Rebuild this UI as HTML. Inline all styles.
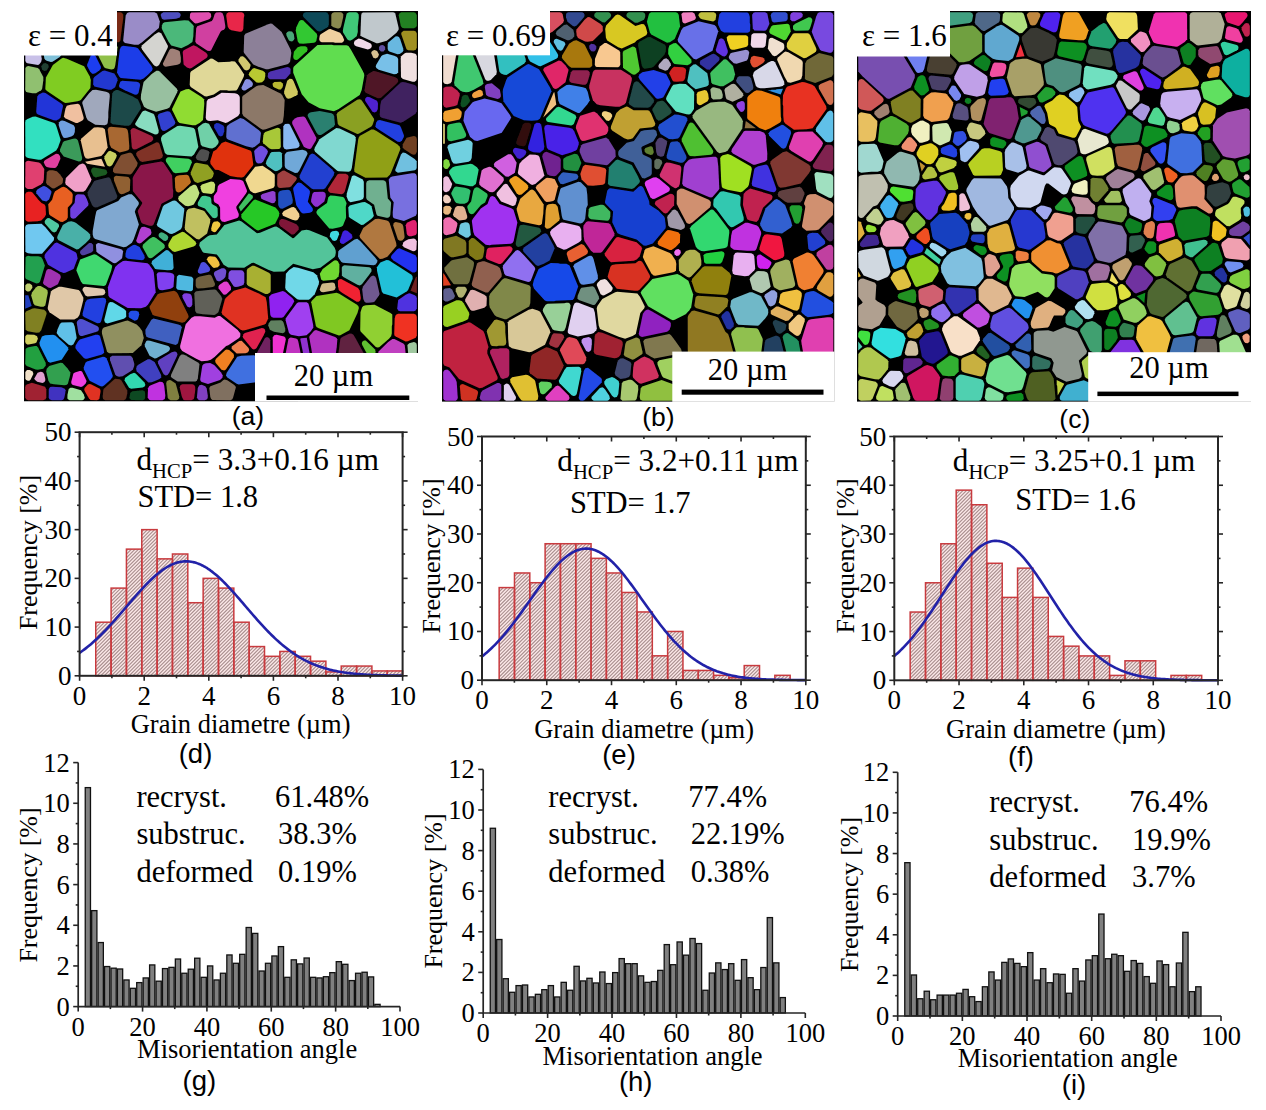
<!DOCTYPE html>
<html><head><meta charset="utf-8"><title>EBSD figure</title>
<style>html,body{margin:0;padding:0;background:#fff;} svg{display:block;}</style></head>
<body>
<svg width="1266" height="1110" viewBox="0 0 1266 1110">
<defs>
<pattern id="hatch" patternUnits="userSpaceOnUse" width="2.51" height="2.51" patternTransform="rotate(45)">
<rect width="2.51" height="2.51" fill="#fce8e8"/><rect x="0" y="0" width="0.85" height="2.51" fill="#a08686"/>
</pattern>
</defs>
<rect width="1266" height="1110" fill="#fff"/>
<defs><clipPath id="clipa"><rect x="24" y="11" width="394" height="390.5"/></clipPath><clipPath id="clipb"><rect x="442" y="11" width="392.5" height="390.8"/></clipPath><clipPath id="clipc"><rect x="857" y="11" width="394" height="390.8"/></clipPath><filter id="soft" x="-2%" y="-2%" width="104%" height="104%"><feGaussianBlur stdDeviation="0.45"/></filter></defs>
<g clip-path="url(#clipa)"><g filter="url(#soft)"><rect x="24" y="11" width="394" height="390.5" fill="#000"/>
<path d="M278.2,380.8 273.2,381.8 269.8,381.8 269.2,382.2 238.2,386.2 233.8,401.2 298.2,401.2Z" fill="#000"/>
<path d="M71.2,348.2 62.8,361.2 69.2,368.8 72.2,371.8 73.2,371.8 81.8,368.2 84.2,361.8 84.2,360.2 73.2,348.2Z" fill="#000"/>
<path d="M142.8,345.8 133.2,354.8 136.2,364.2 148.8,357.2Z" fill="#000"/>
<path d="M358.8,314.2 350.8,330.8 350.8,331.8 353.8,333.2 355.2,333.2 358.8,331.2Z" fill="#000"/>
<path d="M48.2,313.2 48.2,314.2 41.2,334.2 54.2,333.2 59.8,321.2Z" fill="#000"/>
<path d="M147.8,307.8 145.2,308.8 142.8,309.2 141.8,310.2 141.8,311.8 138.2,322.8 138.8,324.8 143.2,329.8 144.8,328.2 151.8,316.2Z" fill="#000"/>
<path d="M381.2,294.8 375.2,303.2 393.8,313.2 394.8,312.8 395.8,309.8 395.8,305.2 396.2,304.8 396.2,300.2 396.8,299.2Z" fill="#000"/>
<path d="M272.2,273.2 272.2,292.2 283.2,289.2 283.8,287.8 284.2,273.2Z" fill="#000"/>
<path d="M74.8,270.8 65.8,274.2 63.2,274.8 59.2,284.8 59.8,285.2 79.8,288.2 80.8,286.2 80.2,283.2Z" fill="#000"/>
<path d="M320.8,269.2 319.2,269.8 313.8,270.8 317.8,273.8Z" fill="#000"/>
<path d="M197.8,246.8 175.8,253.8 174.2,253.8 175.2,271.8 176.2,272.8 193.8,275.2 202.2,256.2 202.2,254.2Z" fill="#000"/>
<path d="M347.8,218.2 344.8,225.2 344.8,226.8 355.8,236.2 357.2,236.2 359.8,231.8 361.2,227.2Z" fill="#000"/>
<path d="M311.2,213.8 307.8,214.8 301.8,215.2 298.2,222.2 298.2,223.8 300.8,228.2 301.2,228.8 303.8,228.8 307.2,227.8 311.2,229.8 327.8,235.8 329.2,230.2 314.8,213.8Z" fill="#000"/>
<path d="M91.2,207.2 87.2,208.2 75.2,220.2 75.8,221.2 90.8,232.8 91.8,229.8 92.2,224.2 95.2,209.8 95.2,209.2Z" fill="#000"/>
<path d="M218.2,171.2 215.2,172.8 215.2,174.8 214.2,177.2 214.2,179.8 216.8,183.8 217.8,183.8 229.8,177.8Z" fill="#000"/>
<path d="M62.8,157.8 58.2,167.2 57.8,169.8 61.8,174.8 64.8,177.2 78.8,163.2Z" fill="#000"/>
<path d="M85.2,120.8 76.8,125.2 75.8,136.8 78.2,138.2 79.8,138.2 93.8,125.8 86.2,120.8Z" fill="#000"/>
<path d="M417.8,114.2 401.8,124.2 405.8,136.2 417.8,133.2Z" fill="#000"/>
<path d="M299.8,95.2 288.2,101.2 286.2,100.2 284.8,122.2 289.8,121.8 296.2,115.8 298.8,115.8 305.2,114.2 307.8,111.2 312.8,110.8 318.8,109.2 307.8,103.8 302.2,96.8 300.8,95.2Z" fill="#000"/>
<path d="M24.2,93.8 24.2,94.2 24.2,118.8 34.2,114.8 34.8,106.8 35.2,106.2 35.2,100.2 35.8,99.8 35.8,95.2Z" fill="#000"/>
<path d="M182.2,65.2 159.8,69.8 179.8,89.8 188.2,86.8 188.2,80.2 188.8,79.8 188.8,71.8 189.2,71.2Z" fill="#000"/>
<path d="M350.8,46.2 365.2,72.8 366.8,73.2 372.8,69.8 373.8,68.2 374.8,64.2 368.2,51.2Z" fill="#000"/>
<path d="M226.8,30.8 221.8,32.2 211.2,53.8 211.2,56.2 218.2,60.8 235.8,59.8 242.2,52.8 242.8,33.8Z" fill="#000"/>
<path d="M245.8,11.2 245.8,17.2 245.2,17.8 245.2,23.8 244.8,24.2 244.2,32.2 270.2,21.8 272.2,21.8 282.8,30.8 293.8,29.2 300.2,15.2 299.2,11.2Z" fill="#000"/>
<path d="M67.8,11.2 63.2,55.8 85.2,64.8 92.2,47.8 92.2,33.2 76.2,11.2Z" fill="#000"/>
<path d="M305.9,12.2 304.2,12.7 303.2,13.8 302.9,15.5 303.4,16.9 317.5,31.1 319.1,31.6 320.8,31.2 327,27.6 328.3,26.2 328.8,24.6 328.8,15 327.4,12.7 325.8,12.2Z" fill="#0a4858" fill-rule="evenodd"/>
<path d="M130.3,392.7 129.3,398.1 131.1,400.1 142.8,400.2 144.4,399.4 145.2,398.1 145.2,392.7 144.4,391.1 142.5,390.2 132.5,391.3Z" fill="#104820" fill-rule="evenodd"/>
<path d="M90.6,55.8 87,64.9 87.3,66.3 90,71.6 92.2,73.7 93.7,73.8 95.3,73.2 99.3,70.4 100.8,68.5 101,67 100.2,65.2 95.6,56.1 94,54.8 92.3,54.7Z" fill="#1a3cf0" fill-rule="evenodd"/>
<path d="M91.2,171.7 93.3,176.2 95.6,177.4 105.6,175 106.7,174.1 107.3,172.4 106.7,170.4 105.3,169.4 94.2,167.5 92.8,167.8 91.6,168.8 91.1,170.1Z" fill="#1a5a20" fill-rule="evenodd"/>
<path d="M112.2,93.6 110.4,122.4 112.4,124.2 125.2,125.8 128.7,125.7 130.6,124.7 141,108.6 140.7,105.7 138,99.4 132.3,96.3 118,90 116,90 113.4,91.5Z" fill="#1c4848" fill-rule="evenodd"/>
<path d="M119.8,49.5 117,72.4 119.4,76.8 120.7,78 140.6,79.8 143.6,78.5 148,74.7 152.1,70.6 152.7,68.7 151.5,65.9 137.9,48.2 135.4,47.2 123.1,45.7 121,46.7Z" fill="#1e3ce8" fill-rule="evenodd"/>
<path d="M293.1,188.9 296.3,205.2 300.8,212 302.3,213.2 303.7,213.5 309.9,212.8 312,211.7 312.9,210.2 312.7,208.2 307.8,201.8 309.8,193.6 309.9,191.3 309.1,189.7 301,182.9 298.7,182.4 297.2,183.1 293.5,187.5Z" fill="#1f40f0" fill-rule="evenodd"/>
<path d="M214.1,127.4 218.7,135.6 220.8,136.4 222.9,135.4 224.3,131.3 224.2,127.1 223.3,125.5 218.8,123.3 216.3,123.1 214.1,124.8Z" fill="#2030c0" fill-rule="evenodd"/>
<path d="M391.8,255 391,256.6 391.1,258.1 393.4,260.5 412.5,272.4 414.6,272.6 416.3,271.4 416.8,269.6 416.8,257.7 415.6,255.3 399.3,248.2 397.4,248.9Z" fill="#2030f0" fill-rule="evenodd"/>
<path d="M94.3,77 93.3,78.8 93.2,84.2 94.3,86.6 108.4,89.8 111.4,89.8 115.2,87.3 117.6,80.2 117.2,78.2 114.4,73.4 104.6,70.6 102.4,71.1Z" fill="#2038d0" fill-rule="evenodd"/>
<path d="M42,69.2 44.1,71 46.7,70.5 48.8,67 48.2,64.4 45.5,63 43.2,63.6 41.3,66.2Z" fill="#204030" fill-rule="evenodd"/>
<path d="M25.2,295.2 25.2,308.8 31.7,306 28.3,295.2Z" fill="#2040c0" fill-rule="evenodd"/>
<path d="M299.6,177.4 300.7,179.5 311.8,188.8 313.4,189.3 323.4,189.3 325.3,188.3 328.5,183.6 333.7,175.3 334.4,172.5 332,169.3 314.4,154.3 312.1,153.6 310.7,154.2 309.7,155.3 299.8,175.2Z" fill="#2040d0" fill-rule="evenodd"/>
<path d="M82.6,313.6 82.7,315.5 84,317.1 97.2,323.2 99.8,322.9 100.9,321.9 101.6,319.8 106.2,301.5 105.8,299.1 104.4,297.9 102.7,297.7 90.4,298.7 87,299.7 85.4,302.2Z" fill="#2040e0" fill-rule="evenodd"/>
<path d="M125.5,253.8 125.5,256.9 128,258.7 142.1,260.3 143.8,259.6 144.8,257.7 144.2,255.2 139.6,247.1 135.1,244.8 133.1,245 128,248.3 126.4,250.1Z" fill="#2040e0" fill-rule="evenodd"/>
<path d="M376.1,122.7 375.4,126.3 376,127.6 377.9,129 397.7,141.7 400,142 402,140.6 403.8,137 404,135.6 401,127.4 399.8,125.6 396.8,124.4 379.8,120 377.5,120.5Z" fill="#2040e0" fill-rule="evenodd"/>
<path d="M120.2,81.8 118.9,85.9 119.6,87.5 124.7,90.2 135,94.8 137.1,94.6 138.5,93.1 140.2,84.9 139.7,83.5 138.4,82.3 136.6,81.7 122.3,80.8Z" fill="#2040e0" fill-rule="evenodd"/>
<path d="M75.5,345.8 75.4,348.1 77,350.6 83.8,358 85.3,358.8 87,358.7 101.3,354.7 103.2,353.7 104.1,352.2 103.7,349 100.1,336.6 99.3,335.4 98,334.7 95.5,334.8 79.8,339.5 78,341.4Z" fill="#2040f0" fill-rule="evenodd"/>
<path d="M279,207.1 280.4,208.6 282.5,208.8 291,204.6 292.5,203.3 292.8,199.9 291.7,195 290.7,191.6 289.5,190.3 288.1,189.8 282.6,190.2 280,191 278.7,192.1 278.2,193.8 278.2,205.1Z" fill="#2050c0" fill-rule="evenodd"/>
<path d="M129.3,317.8 134.6,320.7 137.1,320 138.1,318.4 139.3,314.4 138.6,311.8 136.2,310.7 131.5,310.7 129.8,311.4 128.8,313.2 128.7,316.4Z" fill="#2050e8" fill-rule="evenodd"/>
<path d="M83.7,367.5 83.9,369.4 89.6,380.7 100.5,386.3 102.2,386.4 104.1,385.5 110.5,379.7 112.6,377.1 112.7,375.4 108.2,362.2 106.5,358.2 104.9,356.9 103,356.8 86.9,361.5 85.5,362.7Z" fill="#2050f0" fill-rule="evenodd"/>
<path d="M398.7,15.6 400.8,26 402,27.8 403.8,28.3 414,28.3 416.3,26.9 416.8,25.2 416.8,15 415.4,12.7 413.8,12.2 401.1,12.3 399.3,13.4Z" fill="#208020" fill-rule="evenodd"/>
<path d="M40,345.7 47.8,361.3 50,362.7 61.7,359.7 68.4,349.4 67.9,347.3 64.5,343.8 55.3,335.6 53.1,334.7 45.1,335.2 41.9,336.5 39.4,342.8Z" fill="#2090f0" fill-rule="evenodd"/>
<path d="M26.8,366 35.6,369.6 37.8,369.8 43.3,368.7 45.8,365.6 45.7,362.7 38.1,347.5 36.7,346.1 34.9,345.9 28.5,347.3 26.7,348 25.6,349.1 25.2,363.6 25.7,364.9Z" fill="#20a040" fill-rule="evenodd"/>
<path d="M25.9,278.9 36.4,283.4 38.7,283 40,281.8 44.9,265.6 42.5,258.9 41.1,257.1 38.1,256.2 30.7,256.2 28.2,255.7 26.6,256.2 25.6,257.3 25.2,277.2Z" fill="#20a050" fill-rule="evenodd"/>
<path d="M377,270.7 381.8,291.5 383.2,293.5 396.6,297.4 406.6,291.5 408.1,290 412.7,278.8 412.5,275.9 411.1,274.5 388.8,260.3 386.5,260 380.3,262.6 376.9,267.2Z" fill="#20c0d8" fill-rule="evenodd"/>
<path d="M36.2,111.8 36.7,113.4 38,114.6 53.7,120.2 56.3,120.6 59.2,118.9 60.6,117.3 63.1,105.7 62,104 45.5,92.9 42.8,92.4 38.8,94.6 37.3,96.4Z" fill="#2434d8" fill-rule="evenodd"/>
<path d="M241.5,214.3 241.2,216.9 242.2,218.9 254.4,228.5 256.6,230 258.1,230.4 275.1,223.7 279,216.1 279.3,213.2 278.5,210.9 275.5,207.4 255.3,199.6 253.8,200.1 252.3,201.5Z" fill="#28c828" fill-rule="evenodd"/>
<path d="M307.6,116.1 316.3,132.3 317.9,134.5 319.2,135.1 321,135.1 323.5,133.6 333.8,126.4 335,124.5 334.1,116.2 333.2,114.2 331.5,113.3 319.6,111 311,112.3 309.1,113 307.9,114.3Z" fill="#2a8070" fill-rule="evenodd"/>
<path d="M87.6,192.2 87.8,195.3 92,205.1 93.1,206.6 95.1,207.5 97.3,207.2 114.8,199.7 116.5,198.6 117.2,197 117.1,195.5 110.6,178.9 109.7,177.7 108.3,177.2 97.2,179.9 94.2,181.1Z" fill="#303848" fill-rule="evenodd"/>
<path d="M157.7,116.6 160.9,128.8 162.5,130.8 164.3,131 166.3,130.2 173.6,125.5 175,123.9 175.3,122.5 174.7,120.7 170.7,112.7 169.3,111.5 167.1,111.2 159.6,113.4 158.1,114.7Z" fill="#3040d0" fill-rule="evenodd"/>
<path d="M46.2,371.5 48.4,380.8 50.1,383.4 53.9,384.3 64.2,385.3 66.4,385.1 67.9,383.8 70.2,375 70.4,372.4 67.4,368.3 62.6,363.1 60.4,362.8 49.2,365.9 46.7,368.8Z" fill="#30a050" fill-rule="evenodd"/>
<path d="M293.2,57.1 293.7,58.8 294.8,59.8 296.5,60.1 297.9,59.6 307,51.2 307.6,49.5 307.1,47.6 306,46.6 304.6,46.2 300.9,46.2 297.6,47.3 293.9,51.7Z" fill="#30c020" fill-rule="evenodd"/>
<path d="M295.7,30.5 297.8,41.5 299.3,43.4 303.3,43.8 313.9,42.8 315.3,42.2 316.3,41.1 317.3,36.1 316.8,33.7 303.1,20.2 301,19.9 299.3,21 296.3,27.2Z" fill="#30c830" fill-rule="evenodd"/>
<path d="M316.6,211.3 316.4,212.8 317.1,214.2 329.3,228.4 332.6,228.8 339.6,227.2 341.8,226.5 343,225.6 346.1,217.8 345.8,206.8 346.6,203.3 344.6,198.5 343.2,197 334.6,195.7 330.3,195.6 328.3,197.3 327,202.9 317.8,209.6Z" fill="#30d060" fill-rule="evenodd"/>
<path d="M124.5,380.4 129,387.8 131.1,388.8 142.8,387.6 144.6,386.5 145.4,384.9 144.5,382.4 135.7,373.5 134,372.8 130.2,374.3 125,378.1Z" fill="#30d8b0" fill-rule="evenodd"/>
<path d="M27,119.2 25.8,120.2 25.2,122 25.4,155.9 26.7,157.4 29.4,158.2 38.4,159.8 41.1,159.7 56.2,150.4 58,147.6 60.7,139.9 56.2,125.7 55.3,124 54.1,123 35.5,116.5 32.7,116.8Z" fill="#30e0c0" fill-rule="evenodd"/>
<path d="M62.9,142.5 59.9,149.8 60.1,151.4 63.7,156.5 78.7,161.5 80.5,161.3 81.8,160.1 82.2,158.1 79.7,146.9 78,140.5 76.6,138.9 75.1,138.5 73,138.8 64,141.2Z" fill="#3a9a5a" fill-rule="evenodd"/>
<path d="M379.7,114.8 380.2,116.4 381.7,117.7 400.6,122.7 403.3,121.7 415.6,113.7 416.8,111.3 416.8,87.8 416.1,85.9 414.8,84.9 405,82.3 402.6,81.9 400.7,82.6 381.2,100.8 380.2,105.4Z" fill="#402060" fill-rule="evenodd"/>
<path d="M342.7,231.8 339.8,240.5 340.1,242.3 341.5,243.7 343.5,244 351.5,238.7 352.3,237.4 352.3,235.9 351.5,234.3 347.4,230.8 344.8,230.2Z" fill="#4020e0" fill-rule="evenodd"/>
<path d="M52.5,386.7 50.1,387 48.8,389 48.7,397.5 49.4,399.2 51.8,400.3 61.6,400.3 63.2,399.7 64.2,398.3 65.3,393.1 65.6,390.3 64.8,388.7 61.4,387.2Z" fill="#4030c0" fill-rule="evenodd"/>
<path d="M136.1,368.7 136.7,371.3 148.4,382.6 151.8,382.2 159.6,379 161.2,377.3 161.1,375 154.6,362 150,359.2 147.7,359.3 137.9,365 136.9,366.2Z" fill="#4040c0" fill-rule="evenodd"/>
<path d="M37.3,189.5 36.2,191.2 36.3,193.2 42.3,200.4 46.3,201.6 49.1,199.5 51.4,192.7 51.2,191.3 50.4,190 46.5,186.9 44.2,186 42.8,186.3Z" fill="#4050e0" fill-rule="evenodd"/>
<path d="M145.5,333.7 146.3,336.3 147.9,337.6 175.7,344.9 177.3,344.1 178.1,342.9 181.8,327.3 180.8,325.5 178.3,324.4 153.4,318.5 151.4,319.7 145.4,329.7Z" fill="#4060c0" fill-rule="evenodd"/>
<path d="M226.6,373.1 226.1,375.2 227,377.2 236.7,383.7 238.7,384.4 271.2,380.2 272.7,379.4 273.6,377.4 273.2,375.7 270.4,371.7 257.7,358 255.5,355.8 253.9,355.2 241.4,355.7 237.2,356.8Z" fill="#4070e0" fill-rule="evenodd"/>
<path d="M159,237 163.7,240.7 165.7,241 167.6,239.8 168.4,237.1 167,234.9 163.3,232.8 161.1,232.3 159.3,233.2 158.5,235.1Z" fill="#40b080" fill-rule="evenodd"/>
<path d="M151.5,263.4 154.7,268.3 156.3,269.2 167.7,270.3 172,269.9 173.1,268.9 173.6,267.4 172.8,255.6 172.3,254.2 168.4,250.4 166.9,250.1 165.4,250.5 152,261.1Z" fill="#40b0d8" fill-rule="evenodd"/>
<path d="M142.5,247 148,257 149.1,257.9 150.9,258.2 152.6,257.5 163.9,248.5 164.7,247.3 164.8,245.8 163.9,244 156.1,238 154.1,236.9 152.6,236.9 149.2,239.1 142.9,244.7Z" fill="#40c060" fill-rule="evenodd"/>
<path d="M240.7,211.5 252.8,197.9 252.8,195.7 249.9,193.7 248.7,193.6 238.7,207.1Z" fill="#40c060" fill-rule="evenodd"/>
<path d="M343.1,32.4 347.4,39.4 349.1,40.5 350.6,40.5 352.5,39.6 356.7,36.2 357.8,32.1 357.8,26.7 358.8,17.8 358.7,14.4 357.4,12.7 356,12.2 349,12.2 346.7,13.6 343.3,28 342.8,30.9Z" fill="#40c878" fill-rule="evenodd"/>
<path d="M198,202.3 197.6,204.3 198.4,205.9 204.9,208.5 212.6,217.7 215,218.3 217.1,217.2 217.8,215.5 217.6,208.2 216.4,206.4 212.7,204.5 211.5,203.3 211.2,198.7 210.2,196.9 205.1,195.7 202.3,195.9 201,197Z" fill="#40c890" fill-rule="evenodd"/>
<path d="M166.1,161.8 173.2,172.3 175.5,173.3 186.1,172.3 187.6,171.7 189.2,169.3 191.9,162.3 191.1,160.1 188.5,158.8 169.8,157.2 167.8,157.3 166.3,158.4 165.7,160.1Z" fill="#40d060" fill-rule="evenodd"/>
<path d="M76.4,270.4 80.8,281.3 82.8,284 103.8,286.1 105.1,285.5 106.1,284.4 111.2,270.8 112.1,266.7 111.6,265.3 110.1,264 96.3,254.8 94.1,254.3 80.2,259.6 76.8,268.5Z" fill="#40d870" fill-rule="evenodd"/>
<path d="M330.1,233.7 329.8,236.6 332.6,240.4 334.8,241.1 336.9,240.1 339.1,234.2 338.9,232.7 338.1,231.5 336.2,230.7 332.4,231.3 330.8,232.2Z" fill="#40d8e0" fill-rule="evenodd"/>
<path d="M57.5,235.9 57.1,237.9 58.3,239.9 76.7,249.6 78.7,248.9 85.8,242.9 89.7,239 90.5,237.1 89.9,234.2 87.8,232.1 76.1,223 74.1,221.9 71.3,221.2 68.2,221.8 62.8,225Z" fill="#48b0a8" fill-rule="evenodd"/>
<path d="M286.6,35.8 288.7,40 289.7,41.1 292.1,41.4 293.9,40 294.4,38.3 293.8,34.1 292,31.6 288.9,31.2 287.3,31.9 286.2,33.6Z" fill="#4aa878" fill-rule="evenodd"/>
<path d="M162,25.3 161.7,28.1 162.3,29.8 168.4,41.5 171.2,45.4 181.3,48.3 188,45.1 192.4,42 193.3,36.6 193.7,26.3 193.1,25 188.5,20.6 184.4,20.2 164.6,22.3 162.9,23.2Z" fill="#4cb87a" fill-rule="evenodd"/>
<path d="M367,75.3 364.4,90.8 365.7,92.7 377.7,98.2 379.5,98.2 381.3,97.4 396.5,83.7 398.1,81.8 398.2,79.9 397.3,78.4 395.3,77.3 375.5,71.3 373.3,71.1 368.9,73.5Z" fill="#501828" fill-rule="evenodd"/>
<path d="M365.1,100.8 372.4,111.7 374.6,112.5 376.7,111.5 377.8,109.1 378,103.2 377,100.8 369.8,97.3 367.6,96.8 366,97.5 365.1,99Z" fill="#5020d0" fill-rule="evenodd"/>
<path d="M267.7,76.2 268.4,78.2 270.2,79.2 285,79.2 286.3,78.3 290.4,73.5 290.7,69 289.4,67.4 287.3,66.9 270.2,71.4 268.1,73.1Z" fill="#5030b0" fill-rule="evenodd"/>
<path d="M397.2,308.2 398.1,310.4 400,311.3 413.8,311.3 415.4,310.8 416.8,308.5 416.8,298.2 416.3,296.6 414.8,295.3 409.8,293.3 408.3,293.4 405.7,294.8 398.2,300.1Z" fill="#5030e0" fill-rule="evenodd"/>
<path d="M44.6,257.2 48,264.7 59.2,271.2 63.4,273 65.3,272.7 73.6,269.1 77.6,258.4 76.7,253.8 75.6,252.3 56.9,242.4 54.7,243.2 46.1,252.7 44.6,255.1Z" fill="#5030e0" fill-rule="evenodd"/>
<path d="M89.1,243.1 80.4,250.7 80,252.5 80.6,254.1 82,255.2 84,255.2 90.1,253 92.1,252 93.2,250.5 93.1,244.7 91.4,243.1Z" fill="#5040a0" fill-rule="evenodd"/>
<path d="M196.4,155.5 195.8,157.7 197.3,159.9 202.9,161.3 206,161.3 208,159.6 209.5,152.5 208.8,151.2 207.6,150.4 203.5,149.3 201.2,149.3 199.5,150.4Z" fill="#505050" fill-rule="evenodd"/>
<path d="M160.7,15.1 161.9,18.8 163.9,19.8 176.1,18.8 179.8,17.5 180.8,14.9 180.1,13.3 178.3,12.3 163.4,12.2 161.1,13.7Z" fill="#5050c0" fill-rule="evenodd"/>
<path d="M76.7,322.8 78.4,332.8 79.2,334.9 80.7,335.9 82.4,336 95.8,332.1 97.8,331.3 98.8,329.9 98.8,327.8 97.5,326.2 82.8,319.3 80.8,318.9 79.3,319.2 77.3,320.9Z" fill="#5050d0" fill-rule="evenodd"/>
<path d="M200.9,263.1 197.7,270.9 198.1,272.4 199.2,273.4 200.7,273.8 208.4,272 209.7,270.8 210.1,269.4 209.6,267.5 207.4,264.8 205.2,262.5 203.5,261.9 202.1,262.2Z" fill="#5050e0" fill-rule="evenodd"/>
<path d="M176.9,276.6 176.2,287.5 176.8,288.9 177.9,289.8 190.2,291.3 191.7,290.9 192.9,289.7 193.3,279.1 192.7,277.7 191.6,276.7 178.9,274.8Z" fill="#50b8e0" fill-rule="evenodd"/>
<path d="M266.5,160.8 265.8,163.5 267.3,165.9 274.3,170.8 275.9,171.2 277.7,170.8 280.7,168.9 282.2,166.8 281.9,153.3 280.9,152.2 279.5,151.7 271.7,152 270.4,153.2Z" fill="#50c0c0" fill-rule="evenodd"/>
<path d="M45.4,219.9 44.6,221.8 45,223.5 52,231.4 54.1,232.4 56.3,231.6 59,226.4 59,225 58.3,223.7 49.1,218 47.1,218.2Z" fill="#50c8a0" fill-rule="evenodd"/>
<path d="M348.3,207.5 348.8,216.2 349.7,217.8 361.3,225.1 363.4,224.7 371.2,218.9 373.2,217.1 373.8,215.7 371.5,206.2 369.5,204.4 364.9,202 362.1,202.2 349.7,205.5Z" fill="#50d8c8" fill-rule="evenodd"/>
<path d="M199.2,245.6 202.3,251.6 203.7,252.7 216.8,254.5 219,257.2 223.6,264.7 228.2,267.6 244.2,267.7 251.8,262.9 253.8,262.8 268.2,269.7 273.7,271.8 284.1,271.5 293.2,263.8 312.8,269.3 320.4,267.7 334.3,257.3 335.2,256 335.8,252.8 335.7,250.5 334.7,247.7 327.1,237.4 309.3,230.3 306.6,229.7 301.7,230.4 293.9,238 292.7,238.2 279,227.9 276.3,226.6 274.2,226.8 260,232.7 257,233.2 241.6,221.5 239.1,220.5 224.4,225 216.8,234.5 209.8,235.3 207.4,236.5 199.8,242.6Z" fill="#52c49a" fill-rule="evenodd"/>
<path d="M332.7,396.5 333.2,399.1 335.6,400.3 365.5,400.3 367.2,399.6 368.2,398.1 370.5,365.5 354.7,336.7 353.2,334.6 351,333.5 349,333.7 342.7,336.8 341.2,337.7 340.3,339Z" fill="#602040" fill-rule="evenodd"/>
<path d="M102.7,396.5 103,398.9 105,400.2 123.9,400.2 125.4,399.5 126.2,398.3 127.3,393.6 127.3,390.6 121.3,380.2 119.7,379.3 115.3,378.8 114,379.4 103.8,388.8 103.3,390.1Z" fill="#603020" fill-rule="evenodd"/>
<path d="M158.1,363.4 163.6,374.2 165.6,375.4 167.6,375 169.2,372.8 177,356.1 177.4,354.3 177,352.8 175.9,351.8 174.5,351.4 171.7,352.3 159.1,359.7 157.9,361.4Z" fill="#6040c0" fill-rule="evenodd"/>
<path d="M379.1,49.4 380.9,51.4 383.5,51.4 385.2,49.5 385.1,46.8 383,45 380.6,45.3 379,47.1Z" fill="#6050a0" fill-rule="evenodd"/>
<path d="M110.1,360.3 115.3,374.8 116.7,376 119,376.7 122.6,376.3 131.1,371 133,369.3 134.2,366.1 134.3,363.8 132.7,358.2 131.8,356.7 130.2,355.8 112.1,355.8 109.9,357.5Z" fill="#6050b0" fill-rule="evenodd"/>
<path d="M194.3,293.4 195.2,311 196.6,313.3 202.9,314.3 214.1,315 215.5,314.5 218.4,312.3 222.3,298.7 221.1,296 216.2,289.9 214.8,289.4 210.4,289.7 196.4,291.3 195.1,292.1Z" fill="#606058" fill-rule="evenodd"/>
<path d="M226.2,136.8 226.7,138.4 228,139.6 246.2,146.2 252.5,147.8 255.1,146.5 259.8,142.7 261,133.1 260.4,131.7 258.6,130 243.6,119 240.3,117.9 229.7,123.8 227.3,125.7 226.7,127.1Z" fill="#6070d0" fill-rule="evenodd"/>
<path d="M268.2,325.6 269.9,329.7 274,331.7 282.7,333.3 284.4,332.6 285.3,331 285.2,328.5 283.6,322.7 282.8,321.2 281.2,320.3 270.8,320.5 268.8,323.2Z" fill="#608060" fill-rule="evenodd"/>
<path d="M338.3,251.5 338,256.6 338.8,258.3 341.2,261.8 342.8,262.7 373.6,265.3 375.7,264.5 377.3,262.1 377.2,260.3 375.4,257.7 360.2,241 357.3,238.8 354.5,239.4 339.4,250Z" fill="#60a0d0" fill-rule="evenodd"/>
<path d="M341.8,267.4 341.9,275.4 343.4,277 357.4,284.8 359.8,285.4 361.9,284.3 369,275.1 371.4,271.5 371.6,269.7 370.8,268.1 369.2,267.3 344.5,265.2 342.8,265.9Z" fill="#60b0a0" fill-rule="evenodd"/>
<path d="M362.2,345 369,357.4 371.1,358.4 373.3,357.6 375.7,352.1 375.1,349.4 365.8,340.6 364,340.6 362.5,341.5 361.8,343.1Z" fill="#60c030" fill-rule="evenodd"/>
<path d="M57.6,329.2 56.6,333 59,336.2 68.7,344.7 71.1,345.5 73.3,344.5 76.7,338.1 74.7,326.5 73.4,323 71.5,322.2 61.6,322.4 59.9,324Z" fill="#60c0e8" fill-rule="evenodd"/>
<path d="M104.2,320.1 105,322.6 107.4,323.6 123.8,318.7 125.3,317.8 126.2,316.5 126.1,311.1 124.1,309 112.8,302.3 110.2,302.1 108.7,303.1 107.9,305.2Z" fill="#60d8e8" fill-rule="evenodd"/>
<path d="M293.2,72.8 301.8,94.3 308.5,102.2 319.7,108.2 333.9,111.2 338.3,109.2 359.7,95 361.7,90 364.3,75.8 364.1,73.7 362.7,70.7 350.7,49.2 348.5,45.9 346.5,45.2 333.8,45.2 331.8,44.7 317.5,45.1 293.9,66.5 293.2,68.1Z" fill="#60dd50" fill-rule="evenodd"/>
<path d="M387.7,48.9 388.3,50.6 389.4,51.6 397.5,54.2 399.7,54.1 402.6,52.1 403.4,50.6 403.2,48.5 400.2,39.2 399,37 397.1,36.2 395.4,36.6 388.6,42.3 387.7,44.1Z" fill="#68b8e0" fill-rule="evenodd"/>
<path d="M410.6,290.7 416.8,293.3 416.8,276.7 416.2,276.7 415.2,278.6Z" fill="#702020" fill-rule="evenodd"/>
<path d="M265,338.1 257.1,352.6 257.8,354.9 265.6,363.1 267.5,363.6 269.2,363 270.3,360.6 270.3,340.2 269.2,337.9 267,337.1Z" fill="#702060" fill-rule="evenodd"/>
<path d="M402.7,147.2 403.9,149 411.8,154.3 413.9,154.8 415.6,154.2 416.8,151.8 416.8,139 416.3,137.2 415.1,136.2 413.6,135.9 406.6,137.8 402.8,144.2Z" fill="#704020" fill-rule="evenodd"/>
<path d="M73.1,218.8 75.4,218.2 88.3,205.5 88.5,203.4 86.7,198.7 85.1,195.7 83.8,194.5 77.7,194.3 76.3,194.9 75.4,196.1 74.6,203.1 70.7,207.7 70.2,209.1 70.3,216.6 71.2,218.1Z" fill="#7040e0" fill-rule="evenodd"/>
<path d="M214.1,274.9 216.7,280.4 218.3,281.3 220,281.2 223.6,279 225.4,277.1 226.3,272.1 226.1,270.1 224.2,268.3 221.7,268.3 214.9,271.4 213.9,272.9Z" fill="#7050d0" fill-rule="evenodd"/>
<path d="M254.2,151.4 255.3,160 256.2,162.2 257.9,163.4 261.2,163.2 263.1,161.8 267.6,153 267.8,151.3 267.1,149.7 264.7,147.6 262.3,146 260.6,145.8 259,146.4 254.8,149.9Z" fill="#7050e0" fill-rule="evenodd"/>
<path d="M362.2,289.5 363.3,299 364.7,302.1 366.1,302.7 368.6,302.8 373.2,302.2 374.7,301.4 379,295.6 379.6,293.9 376.2,278.5 375.2,276.6 373.1,275.6 370.9,276.5 363,286.4Z" fill="#705890" fill-rule="evenodd"/>
<path d="M195.7,285.5 196.2,287.3 197.7,288.4 203.1,288.3 212.8,287.1 214.5,286 215.1,284 211.7,275.9 210.3,274.8 208.4,274.7 199,276.8 196.7,277.9 195.7,279.8Z" fill="#706040" fill-rule="evenodd"/>
<path d="M58.6,124.9 61.8,134.8 63.3,137.4 64.7,137.9 67,137.7 71.3,136.6 73.7,135.1 74.8,131.9 75,127.5 73.7,125.2 64.6,121 62.3,120.4 60.8,120.7 59.1,122.2Z" fill="#70a0e0" fill-rule="evenodd"/>
<path d="M284.7,166 285.4,168 287.2,169.2 295,173.1 297.6,172.8 299.2,170.8 307.2,154.8 307.5,153.4 307,152 305.7,150.8 302.4,149.8 288.1,151.7 286.2,152.5 284.7,154.8Z" fill="#70a8d8" fill-rule="evenodd"/>
<path d="M367,199.8 374.1,204.8 376.4,214.3 377.5,215.8 386.4,217.8 388.1,217.7 389.6,216.7 390.3,215 391.1,202.8 390.5,201.4 387.8,198.5 386.2,182.7 385.2,180.9 383.2,180.2 369.2,180.2 366.9,181.3 366.2,183.2 366.2,198.1Z" fill="#70b090" fill-rule="evenodd"/>
<path d="M144.7,344.5 144.9,346.4 149.6,355.8 154.6,358.5 156.3,358.2 166.3,352.7 169,350.9 170,349.1 169.7,347.4 168.3,345.9 150,340.8 147.7,340.6 146.3,341.1Z" fill="#70b0d0" fill-rule="evenodd"/>
<path d="M401,154.4 395.2,169.9 395.6,171.3 397.9,172.8 414.8,170.2 416,169.4 416.7,167.9 416.7,161.3 414.7,159.1 405.5,153 402.8,152.6Z" fill="#70c0e0" fill-rule="evenodd"/>
<path d="M162.8,206.7 156.7,224.7 157.7,226.5 169.8,233.8 172,234 175.8,232.2 180.9,229.3 182.1,226.8 184.3,210.1 183.9,208.2 176.2,201.1 174.7,200.4 172.7,200.8 164.2,205Z" fill="#70c8e0" fill-rule="evenodd"/>
<path d="M28.2,224.2 26.1,225.1 25.2,227 25.4,251.4 26.3,252.6 28,253.3 32.2,253.8 42,253.8 53.6,240.4 54.1,239 53.9,237.6 45.4,227.2 41.6,223.7Z" fill="#70c8f0" fill-rule="evenodd"/>
<path d="M197.7,128.6 200.8,144.5 202.1,146.3 209.5,148.2 212.2,148.4 215.4,147.1 218,144.1 218.7,142.1 218.2,140.2 208.9,123.8 205.6,122.7 202.9,123.5 198.3,127.1Z" fill="#70d0a8" fill-rule="evenodd"/>
<path d="M319.8,273.7 321.1,279.4 323.1,280.7 334.4,279.8 336,279.1 338.6,276.3 339.3,272.1 339.4,264.4 337.9,261.2 336.1,260.2 334.1,260.5 322.7,269.1Z" fill="#70d830" fill-rule="evenodd"/>
<path d="M161.2,140.4 164.9,153 167.1,154.7 191.6,156.6 194,154.6 198.4,147.1 195.1,129.7 193.6,128 190.5,127.3 180.1,125.7 177.4,126 162.3,135.6 161,138Z" fill="#70d8b0" fill-rule="evenodd"/>
<path d="M285.2,287.6 285.7,289.3 288,291.7 297.2,299.2 299.2,299.8 308.7,299.7 310,299.1 314.7,294.3 318.7,284.3 319.1,281.8 316.9,275.2 313.3,272.3 298,267.8 293.7,267 289.2,270.1 285.9,273.7Z" fill="#70d8e8" fill-rule="evenodd"/>
<path d="M388.7,179.6 390.3,197.5 393.7,202.2 392.7,212.2 392.8,216.3 393.5,217.9 394.7,218.6 403.9,221.1 415.8,215.8 416.8,213.5 416.8,176.2 416.1,174.3 414.6,173.3 411.9,173.2 392.1,176.4 390.5,177.3Z" fill="#7870e0" fill-rule="evenodd"/>
<path d="M376.1,65.1 375.8,66.6 376.3,68 378.7,69.7 393.9,74.3 396.6,74.1 398.2,72.3 398.2,58.9 397,57 394.3,55.8 387.1,53.7 382.9,55 381.4,56.1Z" fill="#78c0e8" fill-rule="evenodd"/>
<path d="M82.1,16.8 93.7,32.4 116.7,42.2 118.7,42.2 120.3,41 123.3,17.6 123.2,14.4 121.9,12.7 120.2,12.2 84.4,12.2 83,12.7 82,13.9 81.7,15.4Z" fill="#7a2a12" fill-rule="evenodd"/>
<path d="M279.1,222.2 279.1,224.3 280.5,226.2 291.6,234.4 293.2,234.6 294.5,234.1 298.7,229.6 298.7,227.1 296.5,224.2 285.8,219.8 282.8,219 281.3,219.1 279.9,220.2Z" fill="#801838" fill-rule="evenodd"/>
<path d="M136.5,155.6 139.9,161.1 142.3,162.1 159.8,159.1 162.2,157.7 162.9,155.3 159.5,143.9 158.3,142.6 156.6,142.2 137.5,151.4 136.1,153.3Z" fill="#803028" fill-rule="evenodd"/>
<path d="M107.9,287.2 108.4,295.8 109.6,297.6 127.7,308.1 141.1,308.3 145.8,306.7 148.1,304.5 155.7,292.2 153.8,272.4 153,270.1 149,264.4 147.5,263.3 125.6,260.7 123,261 118.4,264 115.2,266.9Z" fill="#8030f0" fill-rule="evenodd"/>
<path d="M197.8,387.9 196.9,397.4 198,399.6 199.6,400.3 204.8,400.3 207.1,399.2 207.7,397.8 207.8,395.6 206.7,388.4 205.3,386.2 201.7,384.7 199.3,385.2Z" fill="#8040c0" fill-rule="evenodd"/>
<path d="M182.6,297.8 187.2,306.6 189.3,307.4 191.4,306.4 192.3,304.6 192.3,299.2 191.7,295.9 190.9,294.6 189.6,293.8 186.5,293.3 184,293.4 182.4,295.2Z" fill="#8040e0" fill-rule="evenodd"/>
<path d="M156.7,274.4 157.8,287.1 158.7,289.1 159.8,290.1 162.6,290.3 170.5,288.7 172.5,287.8 173.5,286.6 174.3,275.9 173.7,274.5 172.6,273.5 170.1,272.7 164.6,272.2 158.7,272.2 157.4,273.1Z" fill="#8040f0" fill-rule="evenodd"/>
<path d="M46.8,172.4 46.1,182.7 47,184.2 52.2,188.2 54.2,188.6 62,184.1 62.7,182.6 63.1,178.7 59.9,174.2 56.8,171.2 52.9,170.2 49.5,170.2 47.8,170.9Z" fill="#805030" fill-rule="evenodd"/>
<path d="M113.1,168.7 112.9,171.5 114.8,173.2 130.4,174.5 132.1,173.3 137,166.1 137.7,163 132.3,153.7 130.8,152.8 129,152.8 121.8,154.8 120.5,155.7Z" fill="#805030" fill-rule="evenodd"/>
<path d="M228.5,273.8 228.4,278.2 233.8,286.6 235.5,287.1 238,286.7 242.1,285.5 243.7,284.3 244.3,282.5 244.3,273 242.9,270.7 241.2,270.2 231.2,270.3 229.3,271.5Z" fill="#8050e0" fill-rule="evenodd"/>
<path d="M209.3,388 210.3,397.1 211.2,399.1 212.4,400 230.4,400.3 232,399.6 233,398.1 235.9,387.3 235.3,386 233.6,384.5 227.3,380.3 224.5,379.6 223.1,380.2 220.6,382.6 210.4,386.2Z" fill="#807060" fill-rule="evenodd"/>
<path d="M32.6,308.4 25.9,311.6 25.2,313.3 25.6,329.7 27.7,331.2 36.4,332.8 39.3,332.5 41.2,330.3 46.2,315.3 46.6,313.4 46.2,311.7 44.1,309.8 34.6,308.2Z" fill="#808020" fill-rule="evenodd"/>
<path d="M166.2,383.3 167.7,397.4 168.5,399.1 170.6,400.3 176.5,400.3 177.9,399.8 179.1,398.4 179.3,396.6 175.7,383.6 170.8,380.3 169.4,379.9 166.9,381Z" fill="#808040" fill-rule="evenodd"/>
<path d="M171.1,374.7 170.9,376.2 171.7,377.8 177.7,381.6 195.6,381.5 197,380.3 197.8,378.4 199.5,364.1 198,362.4 185.3,355.3 183.3,354.4 181.5,354.5 179.8,356.1Z" fill="#808080" fill-rule="evenodd"/>
<path d="M92.7,234.4 93.5,237.4 95.1,239 123.5,247.2 126.3,246.7 131.9,242.8 133.7,239.3 138.9,224.4 134.8,211.7 135.9,208.8 138.6,204.8 138.9,203.1 138.4,201.8 134.4,196.7 131.7,194.3 128.7,194.3 121.1,197.5 118.2,201.1 97.2,210.2 96.3,211.6 95.2,216.6 92.7,231.1Z" fill="#80a8d0" fill-rule="evenodd"/>
<path d="M37.2,15.6 44.4,58.6 45.2,59.8 46.7,60.7 50.8,61.9 52.5,61.8 59.8,56.9 61.7,54.5 65.7,14.4 64.7,12.9 63,12.2 40.2,12.2 38,13.1Z" fill="#80c0d8" fill-rule="evenodd"/>
<path d="M311.2,302.3 315.8,325.4 316.5,326.9 318.7,328.2 338.9,335.5 340.3,335.2 349.4,330.3 357.5,313.1 358.9,307.9 358.3,306 356.6,304.5 339.3,293.8 336.6,292.7 316.5,296.1 311.6,300.9Z" fill="#80c820" fill-rule="evenodd"/>
<path d="M45.9,77.4 45.3,89.3 47,91.1 63.7,102.2 65.4,102.9 68.1,102.8 77.5,101.2 80,100.5 81.2,99.5 90.4,88 90.8,79.9 89.7,76.2 84.1,66.3 66.8,58.8 63.1,57.8 61.5,58.4 52.9,65Z" fill="#80cc20" fill-rule="evenodd"/>
<path d="M315,147.3 314.2,149.7 315.1,151.8 337.2,170.8 338.6,171.3 348.6,171.7 350,171.2 351,170.2 351.8,168.1 355.8,140.1 355.6,137.2 354.3,135.6 339.6,128.5 336.3,127.9 319.5,139.3Z" fill="#80d8d0" fill-rule="evenodd"/>
<path d="M346.6,196.4 348.3,200.8 350.5,202.2 360.1,200.2 363,198.9 363.8,197.1 363.8,181.7 362.8,179.5 354.9,175.4 353.2,175.5 351.9,176.3 346.8,193.5Z" fill="#80e0e0" fill-rule="evenodd"/>
<path d="M245,80 241.4,87.8 242,89.5 243.5,90.5 245.2,90.6 252,86.2 252.8,84.9 252.8,83.4 252.2,82.1 249.6,79.5 246.7,78.9Z" fill="#8890e0" fill-rule="evenodd"/>
<path d="M283.2,146.4 284.3,148.7 286.4,149.4 296.6,148.2 298.7,147.2 299.6,145.7 299.2,143.2 290.7,126.2 289.8,124.6 288.3,123.7 285,124 283.3,126.3Z" fill="#88b8f0" fill-rule="evenodd"/>
<path d="M142,111.9 135.2,123.6 135.4,125.1 138.2,127.2 155,134.5 157.1,134.3 158.5,132.9 158.7,130.5 155.1,117.2 154.1,114.6 152.6,113.5 145.3,110.6 143.2,110.9Z" fill="#88dcc0" fill-rule="evenodd"/>
<path d="M133.5,175.9 132.7,177.9 132.8,191 142.2,202.6 142.1,203.7 138.3,209.7 137.7,211.6 140.8,221.3 141.7,222.9 143,223.7 149.5,225.7 152,225.8 153.2,225 154,223.6 161.5,203.7 171.5,198.6 173,197 173.3,190.7 172.8,188.8 172.1,175.4 163.7,162.8 162.5,161.9 161.1,161.6 141.1,165 140,166Z" fill="#8a1848" fill-rule="evenodd"/>
<path d="M334.2,12.2 332.3,12.9 331.3,14.7 331.3,25.2 332.9,27 337.3,28.6 338.8,28.6 340.3,27.7 341.1,26.3 343.2,17 343.3,14.5 342.4,12.9 341,12.3Z" fill="#8a8a50" fill-rule="evenodd"/>
<path d="M336.6,114.6 337.8,123.7 339,125.4 357.3,134 358.7,133.7 371.4,126.6 372.5,125.1 374.2,120.1 373.7,118.2 362.5,101.4 361.1,99.8 359.4,99.2 357.2,99.8 337.6,112.5Z" fill="#8aa020" fill-rule="evenodd"/>
<path d="M242.2,113.5 243.4,116 260.4,128.5 262.9,129.7 265.8,129.2 281.3,123.6 282.8,122.3 283.8,115.6 284.7,100.1 282.1,95 280.5,93.4 263.3,84.9 258.2,85.4 256.2,86.2 242.6,96 242.2,97.5Z" fill="#8c7868" fill-rule="evenodd"/>
<path d="M244.2,35.8 243.7,51.6 244.1,53 253.3,64.4 257.2,66.2 266,69.2 268.1,69.3 287.3,64.2 289,63.2 290.1,61.4 291.3,53.1 290.7,49.7 281.7,31.9 272.1,23.8 270.5,23.6 268.2,24.3 245.4,33.7Z" fill="#8c8098" fill-rule="evenodd"/>
<path d="M269,296.7 270.3,315 271.5,317.1 273.5,317.8 281.9,317.8 283.5,317.1 292,305.6 294.2,301.4 293.8,299.9 292.3,298.1 285.1,292 282.8,291.1 271.7,294.2Z" fill="#9020f0" fill-rule="evenodd"/>
<path d="M300.2,338.7 312.2,399.4 312.7,400.3 318,400.3 306.8,337.7 301.1,338.2Z" fill="#9030d0" fill-rule="evenodd"/>
<path d="M311.1,199.8 311.1,201.9 313.3,205 315.3,206.7 317.7,206.7 324.4,201.6 325.8,196.1 325.6,193.7 324.8,192.4 323.1,191.7 314,191.9 312.4,193.7Z" fill="#9030d0" fill-rule="evenodd"/>
<path d="M149.6,308 152.5,314.6 153.9,315.6 182.1,322.7 184.8,321.9 188.1,318 188.6,316.7 188.2,314.7 177.6,293.5 176.4,291.9 174.2,290.8 160,293.3 157.7,294.3 149.8,306.3Z" fill="#904010" fill-rule="evenodd"/>
<path d="M262.8,199.5 272,203.2 274.3,202.9 275.8,200.6 275.4,192.5 274.1,191.2 272.3,190.9 262.3,194 261.1,195.3 260.8,197 261.4,198.4Z" fill="#9040d0" fill-rule="evenodd"/>
<path d="M114.1,180.8 118.5,192.1 119.9,193.8 121.6,194.2 123.8,193.7 128.6,191.6 129.9,190.4 130.3,179.7 128.8,177.3 127.1,176.7 116,175.8 114.6,176.4 113.8,177.7Z" fill="#906030" fill-rule="evenodd"/>
<path d="M102,333.7 106.9,351.3 107.9,352.6 109.5,353.3 132.8,353.1 141.4,345.2 143.8,338.1 142.2,330.9 139.7,327.5 136.7,324.6 127.6,320.6 125.2,320.9 103.9,327.5 102.6,328.7 101.9,330.7Z" fill="#909060" fill-rule="evenodd"/>
<path d="M95.9,244.8 96.4,251.2 97.7,252.9 113.3,263.1 114.8,263.2 116.3,262.7 121.3,259.1 122.1,257.9 123.1,251.6 122.2,249.8 120.3,248.9 98.6,242.9 97,243.5Z" fill="#9090e0" fill-rule="evenodd"/>
<path d="M354.2,169.6 354.4,171.3 355.4,172.5 365.4,177.7 387,177.4 389.9,174.8 391.2,172.3 400.1,149.8 400.3,148.4 399.6,146.5 397.5,144.4 376.5,130.9 373.5,129.4 371.4,129.6 360.5,135.4 358.9,137.1 358.2,139.4Z" fill="#90a018" fill-rule="evenodd"/>
<path d="M190.7,172.5 190.8,174.2 194,181.1 195.2,182.1 197.7,182.9 211.6,178.4 213,176.6 213.8,173.5 213.3,171.7 207.7,164.8 196.8,162.7 195.2,163.1 194.1,164.2Z" fill="#90a020" fill-rule="evenodd"/>
<path d="M94,47.2 104.1,67.2 105.7,68.2 111.3,69.6 113.7,68.9 114.6,67.7 115.3,64.9 117.3,50.6 117.6,47.2 116.8,45.3 99.1,37.5 96.6,36.9 94.8,37.6 93.8,39.1Z" fill="#90c048" fill-rule="evenodd"/>
<path d="M27,92.3 32.4,93.3 36,93.2 41.1,90.2 42.1,88.9 43.3,80.6 43.3,77.1 39.2,69.2 37.8,68 28.4,66.1 26.6,66.5 25.4,67.9 25.2,89.9 25.8,91.3Z" fill="#90c070" fill-rule="evenodd"/>
<path d="M360.5,312.3 360.2,330.1 360.6,331.5 375.8,347 377.5,347.6 379.2,347.3 389,338.7 391.1,336.2 391.8,333.6 391.8,326.2 392.3,324.3 392.3,314.5 390.5,312.9 374.6,304.7 365.9,305.2 363.2,306.1 362,307.4Z" fill="#90d030" fill-rule="evenodd"/>
<path d="M180.5,91.6 172,108.9 172.3,110.3 177.9,121.5 179.5,123 192.6,125.3 195.5,125.3 199.6,123 203,119.9 204.3,103.8 204,99.2 201.6,97 188.9,89.1 186,89.3Z" fill="#90dc30" fill-rule="evenodd"/>
<path d="M141,94.8 140.8,99 144,106.8 147.2,108.7 156.1,111.8 167.1,108.7 169.5,107.4 177.2,92.3 177.6,90.2 176.7,88.6 159.7,71.5 158.3,70.7 156.4,70.7 151.7,74.1 143.6,81.9Z" fill="#98c0a0" fill-rule="evenodd"/>
<path d="M123.2,40.2 123.7,42 125.2,43.1 134.4,44.8 138.4,44.8 141.7,42.4 158.9,28 159.8,21.4 157,13.5 154.5,12.2 129.1,12.2 127.1,12.9 125.7,15.6Z" fill="#9a8cc8" fill-rule="evenodd"/>
<path d="M179.7,387.6 181.8,396.6 183.3,399.7 184.9,400.3 191.2,400.3 193.6,399.2 194.2,397.8 195.3,389.8 195.2,386.7 194.2,384.9 192.5,384.2 182.1,384.3 180.2,385.5Z" fill="#a01840" fill-rule="evenodd"/>
<path d="M26.7,384.6 25.7,385.6 25.2,387.2 25.2,397.5 26.3,399.6 28.2,400.3 43.2,400.3 45.6,399.2 46.3,397.5 46.3,389.2 45.1,386.8 31.9,382.8Z" fill="#a02030" fill-rule="evenodd"/>
<path d="M130.5,130.4 131.8,147.1 132.4,148.4 133.8,149.4 136.3,149.2 151.5,141.6 153.2,139.8 153.2,137.7 151.9,136.1 134.8,128.3 133,128.1 131.4,128.9Z" fill="#a02040" fill-rule="evenodd"/>
<path d="M46,271.4 42.9,283.1 43.9,284.6 48.7,287.7 50.7,287.9 57.9,284.2 60.7,277.8 60.7,276 59.8,274.5 57.3,272.8 50.8,269.3 48.3,268.9 46.8,269.8Z" fill="#a030b0" fill-rule="evenodd"/>
<path d="M282.5,170.7 278,173.7 277.3,175.1 277.2,185 277.7,186.8 278.9,187.8 280.4,188.1 289.4,187.3 291,186.6 296.4,180.1 296.7,178.3 296.1,176.9 284.3,170.6Z" fill="#a04040" fill-rule="evenodd"/>
<path d="M200.2,379.2 200.6,380.9 201.7,381.9 208,384 220,380 222.4,377.7 222.8,375.4 220.9,372.3 214.2,365 210.2,363.1 206,363.3 203.7,364.1 202.3,365.7Z" fill="#a040e0" fill-rule="evenodd"/>
<path d="M285.6,320.3 288.8,332.3 289.7,333.8 291,334.7 298.9,336.2 306.5,335.2 310.4,331.8 313.3,327.7 313.2,325 309.2,306 308.4,303.6 306.7,302.3 298.6,302.2 297,302.9 287,316.4 285.7,318.6Z" fill="#a040f0" fill-rule="evenodd"/>
<path d="M169.4,50.1 162.9,63.6 163.2,65 164.3,66.3 165.7,66.8 177.4,64.8 179.3,64 180.4,62.9 180.8,61.4 180.8,57.4 179.8,51.6 178.5,50.4 175.1,49.3 172.1,48.6 170.4,49.1Z" fill="#a08078" fill-rule="evenodd"/>
<path d="M401.2,33.9 406.5,49.3 408.1,50.2 413.6,50.6 415.9,49.7 416.8,47.5 416.8,33.5 415.9,31.6 414,30.7 403.6,30.8 401.5,32.4Z" fill="#a09020" fill-rule="evenodd"/>
<path d="M82.2,103.1 86.4,117.8 87.8,120.2 95.3,124.7 104.8,125.3 107.1,124.2 107.7,122.8 108.3,117.6 108.3,112.2 109.8,96.3 109.6,94.1 108.5,92.7 106,91.8 96,89.8 92.5,89.9 89.1,93.2 82.6,101.4Z" fill="#a0a8bc" fill-rule="evenodd"/>
<path d="M31.2,295.5 33.4,303.3 34.7,305.3 40.7,306.8 43.5,306.7 45.3,305.5 47.8,292.8 47.5,290.6 46.1,289 40.6,285.9 37.9,286 35.8,287.5 32,292.4Z" fill="#a0c050" fill-rule="evenodd"/>
<path d="M407.4,345.1 410.3,377.5 411.5,380.8 412.8,381.6 414.3,381.8 415.9,380.9 416.8,379.1 416.8,345 416.4,343.5 415.4,342.4 413.9,341.9 409.2,343.3Z" fill="#a0c8a0" fill-rule="evenodd"/>
<path d="M67.5,394.8 67.4,398.4 68.3,399.6 69.7,400.2 82.4,400.2 83.9,399.4 84.8,397.7 83.7,394.2 81,390.2 72.5,387.8 70.4,387.8 68.7,389.1Z" fill="#a0e0a0" fill-rule="evenodd"/>
<path d="M107.7,129.8 109.7,144.4 111.2,147.8 119.6,152.5 125.8,151.1 128.5,149.9 129.2,148.4 129.3,145.9 128.3,133.6 127.7,130.4 126.9,129.1 125.6,128.3 122.1,127.7 110.8,126.7 108.6,127.6Z" fill="#a86830" fill-rule="evenodd"/>
<path d="M393.2,225.5 397.9,239.4 399.8,240.8 402.2,240.4 404.1,238.5 404.6,236.9 403.3,226.4 402.6,224.5 400.4,222.9 395.7,221.9 393.7,223.1Z" fill="#a87840" fill-rule="evenodd"/>
<path d="M246.7,283.3 247.1,284.8 248.4,286 265.3,294 267.6,294.1 270,292.4 270.7,290.9 270.7,274.7 269.3,273 261.8,269.3 254.3,265.8 252.2,265.8 247.9,268.5 246.8,270Z" fill="#a8b030" fill-rule="evenodd"/>
<path d="M263.4,135.2 262.7,141.6 263.2,143.3 269.5,148.6 271.7,149.3 279.2,148.9 280.3,147.9 280.8,146.5 280.5,129.3 279,127.9 277.3,127.7 265.2,132.1 264.1,133.2Z" fill="#a8c838" fill-rule="evenodd"/>
<path d="M328.1,188.7 328.2,191.1 330,192.7 341.4,194.2 343.4,193.6 344.7,191.8 348.2,179 348.6,176.7 348,175 345.6,173.7 339.1,173.7 337.6,174.3Z" fill="#b02838" fill-rule="evenodd"/>
<path d="M309.2,337.1 319.9,396.8 320.6,398.9 322,400.1 327.6,400.2 329.4,398.7 330.3,395.1 336.8,346.6 337.3,339.2 336.6,337.9 335.1,337 316,330 314.1,330.7 309.7,335.7Z" fill="#b030c0" fill-rule="evenodd"/>
<path d="M292.9,120.4 292.1,122 292.3,123.9 303.7,146.5 305,147.6 308,148.7 309.8,149 311.1,148.4 315.7,140.8 316.5,138.1 305.6,118 304.4,116.8 303,116.4 297.3,117.3 294.9,118.5Z" fill="#b030c0" fill-rule="evenodd"/>
<path d="M140,229.4 136.2,240.8 137.1,242.6 139.2,243.5 141.1,242.9 150.9,234.6 151.5,232.7 150.8,229.6 149.5,228.4 144.5,226.8 141.7,227.1Z" fill="#b040d0" fill-rule="evenodd"/>
<path d="M363.2,228 359.5,235.8 360.2,237.9 373.8,253 379.8,258.9 382.5,258.7 387.4,256.7 396.5,246 396.2,243 389.7,223.2 388.7,221.5 386.9,220.4 378.6,218.7 375.2,218.9Z" fill="#b07840" fill-rule="evenodd"/>
<path d="M168.2,245.6 168.8,247.4 172.6,251.2 174.9,252.1 193.6,246.5 195.6,245.2 196.2,243.3 195.4,241.4 189.8,236.6 184.3,232.2 182.2,231.8 172.5,236.8 168.8,243.2Z" fill="#b0d830" fill-rule="evenodd"/>
<path d="M274.3,87.5 278.8,89.6 280.9,89.4 282.6,87.3 283.1,84.9 282.8,83.4 280.7,81.8 274.3,82 273,83.3 272.6,84.7 273.1,86.3Z" fill="#b8b830" fill-rule="evenodd"/>
<path d="M249.4,72.4 248.8,74.2 249.4,76.1 256.5,82.4 258.8,82.8 262.1,82.2 264.4,80 265.3,76.1 265.2,73.3 264.6,72 262.8,70.8 254.1,68 252.5,68.8Z" fill="#b8c830" fill-rule="evenodd"/>
<path d="M182.7,52.1 183.6,64.5 186.9,67.5 189.8,68.6 191.6,68 206.4,58.1 207.3,56.9 207.6,55.5 207.2,54 205.7,52.6 196.5,46.4 193.5,45.2 183.7,50.2Z" fill="#c01860" fill-rule="evenodd"/>
<path d="M288.4,339.3 280.4,380.3 281.1,381.7 298.7,399.8 300.1,400.3 306.5,400.3 308.8,398.9 309.2,396 298.2,341 297.5,339.4 296.1,338.4 290.8,337.4 289.4,338.1Z" fill="#c030c0" fill-rule="evenodd"/>
<path d="M148,388.3 147.7,397.5 149.1,399.8 150.8,400.3 162.5,400.3 164.8,398.9 165.3,395.7 164.3,386.1 163.6,383.4 162.4,382 159.5,381.8 151.4,385 149.3,386.1Z" fill="#c030e0" fill-rule="evenodd"/>
<path d="M373.3,365.5 370.9,398.4 372.1,399.8 373.5,400.3 406.8,400.3 408.2,399.9 409.3,398.9 409.8,394.9 405.3,349.9 404.7,345 403.3,343.4 394.4,338.9 392.4,338.9 388.2,342.1 378.8,351.2Z" fill="#c040c0" fill-rule="evenodd"/>
<path d="M174.8,177.9 175.2,187.6 175.8,190.5 176.8,192 178.5,192.6 180.4,192.1 183.8,189.4 190.2,183.5 191,181.9 189.1,176.5 188.1,175.3 186.6,174.7 179.4,175.2 176.5,176Z" fill="#c07020" fill-rule="evenodd"/>
<path d="M184.7,227.6 185,229.4 186.7,231.4 196.6,239.1 199.1,239.5 207.1,233.4 210.2,222 210.2,219.3 204.6,211.6 203.1,210.5 194.1,207.7 188.7,208.8 187.1,210.2 186.3,212.5Z" fill="#c0c060" fill-rule="evenodd"/>
<path d="M361.2,15 360.4,35.2 361.6,36.5 376.4,43.2 378,43.2 386.8,40.7 396.5,32.7 398.6,29.8 398.7,28 395.3,13.6 394.2,12.6 392.8,12.2 362.8,12.6 361.7,13.6Z" fill="#c0c8cc" fill-rule="evenodd"/>
<path d="M29.8,283.6 27.2,283.4 25.3,285.3 25.3,289.5 26.1,290.7 27.4,291.5 28.8,291.6 30.2,291 32.4,287.7 32.1,285.3Z" fill="#c0d070" fill-rule="evenodd"/>
<path d="M179,196.3 178.1,198.5 179,200.7 185.2,205.8 188.1,206.3 191.3,205.6 193.8,204.4 198.2,196.8 199.5,193.1 196.7,185.9 195.3,184.8 193.5,184.7 190.2,186.6Z" fill="#c0e080" fill-rule="evenodd"/>
<path d="M28.2,12.2 26.1,13.1 25.2,15 25.3,60.8 26.1,62.4 27.4,63.2 38.1,64.9 39.6,64.1 41.2,61.8 41.8,58.9 34.8,16.6 34,14 32.9,12.7Z" fill="#c8c0e8" fill-rule="evenodd"/>
<path d="M104.6,156.2 104.3,158.5 106.8,164.7 107.9,166 109.7,166.5 111.1,166 112.5,164.6 116.2,157.8 116.8,155.6 115.6,153.3 110.1,150.8 108.2,151.6Z" fill="#c8d060" fill-rule="evenodd"/>
<path d="M200.6,188.3 201.8,191.7 203.1,192.9 211.6,193.9 213.7,192.5 214.6,190.8 215.2,184.5 213.7,181.9 211.1,181.4 201.9,184.6 200.6,186.2Z" fill="#c8e070" fill-rule="evenodd"/>
<path d="M196.2,28.3 195.3,41.7 196.4,43.5 207.4,50.8 209.4,51.1 211,50.4 220.5,31.7 221.8,30.4 224,29.7 225.2,28.1 225.3,25.9 223.8,16.6 222.6,13.3 220.5,12.2 216.1,12.5 214.7,14 213.1,19.1 211.8,21 197.2,26.3Z" fill="#d040a0" fill-rule="evenodd"/>
<path d="M321.4,284.7 319.7,289.4 320.3,291.1 321.5,292.1 323.3,292.3 333.3,290.6 335,289.5 335.6,287.5 334.8,283.7 333.6,282.7 332.1,282.4 322.7,283.5Z" fill="#d0b888" fill-rule="evenodd"/>
<path d="M284.1,91.6 284.2,93.5 285.9,97 286.9,98.2 288.3,98.8 290.8,98.2 296.6,95.3 297.6,94.2 297.8,91.5 293.5,80.9 292.1,79.1 289.6,78.7 287.2,80.8Z" fill="#d0c860" fill-rule="evenodd"/>
<path d="M240.6,56.5 238.4,59.8 238.6,61.6 244.1,69.5 246.1,70.5 248.3,69.9 249.7,68.3 250.6,65.7 250.2,64.2 247.9,61.3 245.2,58 242.9,56.2Z" fill="#d0c870" fill-rule="evenodd"/>
<path d="M34.1,334.8 26.9,334.4 25.3,336.2 25.2,341.9 25.9,343.5 27.2,344.4 28.7,344.6 35.1,343.2 36.4,342.5 37.9,338.7 37.1,336.2Z" fill="#d0d060" fill-rule="evenodd"/>
<path d="M142.1,49.4 153.1,64.2 154.9,66 156.9,66.4 159.1,65 167.7,47.8 168,46.1 161.3,33.5 159.8,32.4 158.3,32.3 154.7,34.6 142.1,45.2 141.3,47.4Z" fill="#d4d4d0" fill-rule="evenodd"/>
<path d="M371.2,53.1 373.3,57.8 375.5,58.6 377.9,57.3 379,54.4 377.1,50.9 374.6,49.9 373,50.4 371.6,51.7Z" fill="#d8c090" fill-rule="evenodd"/>
<path d="M243,337.8 252.1,348.7 253.7,349.4 255.4,349.1 256.6,347.9 263.7,335.3 265.3,331.8 265.1,329.8 264,328.5 261.9,328.1 244.8,333 243.5,334.2 242.7,336.4Z" fill="#e02050" fill-rule="evenodd"/>
<path d="M405.7,225.2 406.8,233.9 407.8,235.6 409.3,236.3 411.6,236.3 415.9,234.9 416.8,233 416.8,223 415.9,220.8 414.2,219.9 412.2,220.3 406.9,222.8Z" fill="#e02070" fill-rule="evenodd"/>
<path d="M210.2,161.6 210.6,164.1 215.1,169.7 218.6,169.9 230.2,176.1 237.4,177.3 242,177.5 243.9,176.8 252.6,166 253.3,164.4 251.7,152.4 250.8,150.7 225.5,141.6 221.7,143.1 216.5,149.4 213.2,151.5Z" fill="#e03010" fill-rule="evenodd"/>
<path d="M84.6,390.9 89,398.6 90.5,400 97,400.3 98.4,399.8 99.4,398.7 100.6,391 100.1,389.3 98.8,388.3 90.9,384.3 89,384.1 87.6,384.7 84.8,387.7 84.2,389.3Z" fill="#e03020" fill-rule="evenodd"/>
<path d="M224.8,299.4 221.5,312.6 222.4,314.4 240.2,329.4 242.6,330.5 245,330.2 264.6,324.5 266,323.3 268.2,318.5 266.8,302.4 265.7,297.3 258.3,293.3 245.4,287.5 233.7,290.8 225.7,297.9Z" fill="#e03020" fill-rule="evenodd"/>
<path d="M27.8,189 32.4,189.1 41,184.6 43,182.5 43.8,179.6 44.3,169 40.9,163.7 38.9,162.4 28.1,160.7 26.5,161.2 25.4,162.6 25.2,186.2 25.9,187.9Z" fill="#e04070" fill-rule="evenodd"/>
<path d="M45.2,165.5 46.7,167 50.1,167.8 54.7,167.9 56.1,167.4 57.7,165.3 60.4,158.8 60,155.9 58.3,154.1 56,153.7 45.3,160 44.2,161.1 43.8,162.6Z" fill="#e040a0" fill-rule="evenodd"/>
<path d="M219.3,285.1 218.4,286.7 218.6,288.4 223.4,294.5 224.9,294.7 226.3,294.2 231.1,289.7 230.8,286.8 228,282.5 226.6,281.4 223.9,281.7Z" fill="#e040d0" fill-rule="evenodd"/>
<path d="M209,12.3 191.3,12.6 190.1,13.8 189.8,17.7 190.6,19.2 194.1,22.8 195.4,23.4 197.5,23.2 208.6,19.5 210.2,18.5 211.2,16.5 211,13.7Z" fill="#e050b0" fill-rule="evenodd"/>
<path d="M37.6,372.7 34.5,378.3 34.8,379.8 37.2,381.7 42.5,382.9 44.1,382.3 45.2,380.9 45.3,378.9 44.1,374.2 43.3,372.8 42.1,371.9 40.6,371.8Z" fill="#e0a0d0" fill-rule="evenodd"/>
<path d="M47.7,307.9 48,309.6 49.5,312.2 60.2,319.6 74.3,319.6 77.8,317.4 79.5,315.1 83.2,300.5 83.4,297.8 80.1,291.5 78.6,290 61.4,286.7 58.9,286.8 52.5,289.9 50.9,291.5Z" fill="#e0c8a8" fill-rule="evenodd"/>
<path d="M82.4,290 85.4,295.6 87.5,296.6 102.8,295.2 104.6,294.2 105.3,292.2 104.8,290 103,288.8 85.6,286.8 84.2,287.1 82.9,288.3Z" fill="#e0c8b0" fill-rule="evenodd"/>
<path d="M190.2,73.1 189.7,85.1 190.7,87 204.7,96.2 206.7,96.6 213.8,94.6 220.1,90.3 226.8,90.3 228.7,90.8 236.3,90.4 237.6,89 243.7,76.8 244.2,74.6 239,66.4 235,61.5 231.7,61.2 229.8,61.7 218.2,62.2 212.7,58.7 210.8,58.4 190.9,71.5Z" fill="#e0d898" fill-rule="evenodd"/>
<path d="M28.2,191.7 26.1,192.6 25.2,194.5 25.4,219.9 26.6,221.3 28.2,221.8 37.6,221.3 41.3,220.6 44.9,216.8 46,214.6 45.5,205.9 44.6,204.4 41.6,203 38.6,200 32.5,192.4 31.2,191.8Z" fill="#e82020" fill-rule="evenodd"/>
<path d="M226.2,15.6 227.7,26.4 229.1,29.1 231.4,30.2 239.4,31.8 241.1,31.7 242.4,30.9 243.3,29 243.8,17.7 244.3,16.1 244.2,14.4 243.4,13.1 241.5,12.2 228.6,12.3 226.7,13.5Z" fill="#e82848" fill-rule="evenodd"/>
<path d="M48.2,204.2 49,214 49.9,215.2 60.4,221.8 62.7,221.9 66.6,219.7 67.8,217.6 67.8,207.5 71.4,203.8 72.3,201.9 72.8,194.7 72,192.7 66.6,188 63.8,186.7 61.7,187.3 55.1,191.2 53.8,193.7 52.1,199.7Z" fill="#e86020" fill-rule="evenodd"/>
<path d="M80.7,140.2 84.3,156.1 85.7,158.2 88.1,158.8 101.3,155.9 103.9,153.3 107.7,147.6 104.9,129.3 102.8,127.8 97.8,127.2 94,127.6 81.4,138.4Z" fill="#e8c090" fill-rule="evenodd"/>
<path d="M338,286.2 338.8,290.3 342.4,293 356.7,301.7 358.7,301.7 360.3,300.5 360.8,297.9 359.7,290.5 358,287.9 341.2,278.9 339.4,279.2 337.9,280.7Z" fill="#f02030" fill-rule="evenodd"/>
<path d="M394.2,334 394.6,335.5 395.7,336.6 405.6,341.5 407.8,341.2 415.8,337.8 416.8,335.5 416.8,316.8 416.1,314.8 413.8,313.7 398.2,313.7 396.3,314.4 395.4,315.7 394.7,318.4Z" fill="#f03020" fill-rule="evenodd"/>
<path d="M273,371.2 274.4,373 276,373.7 277.8,373.3 279.2,371.7 285.8,339.6 285.4,337.7 284.1,336.5 276.6,334.7 274.1,335.2 272.7,337.5Z" fill="#f030d0" fill-rule="evenodd"/>
<path d="M71.2,381.9 71.6,383.9 72.9,385.1 81,387 82.9,386.3 85.7,383.4 86.6,381.1 82.3,372.1 81.2,371.1 79.7,370.9 74.9,372.5 73.4,373.6Z" fill="#f040e0" fill-rule="evenodd"/>
<path d="M213.7,200.3 214.5,202.3 218.4,204.5 220.1,207.4 220.2,218.9 221.9,221.5 224.7,222.1 237.3,218 238.7,216.3 238.8,214 236.3,208 236.4,206.4 246,193.6 247,191.4 246.8,190 243.4,181.6 242.3,180.6 240,179.8 230.4,179.1 219.2,184.6 217.8,186.4 217.1,191.6 213.8,196Z" fill="#f040e0" fill-rule="evenodd"/>
<path d="M180.1,346.1 180.3,348.3 182.2,350.9 196.2,358.7 201.5,361.3 207.5,360.7 210.8,359.7 214.6,357 226.1,346 228.3,345.2 239.1,338 240.2,336.5 240.4,333.4 237.7,330.1 220.1,315.9 218.1,315.9 214.7,317.7 200.1,316.2 194.5,316.3 191.5,317.8 185.7,324.3Z" fill="#f070e0" fill-rule="evenodd"/>
<path d="M216,358.8 215.1,360.7 215.6,362.7 221.5,369.7 224.2,370.5 225.9,369.5 228.6,365.5 233.8,357.2 234,355.1 233.2,353.6 229.2,350 226.7,349.4 225.3,350Z" fill="#f08020" fill-rule="evenodd"/>
<path d="M239.2,340.9 231.7,346.4 231.6,348.7 236.7,353.6 245.5,353.2 247.6,352.4 248.8,351.1 249.1,349.7 248.6,348 241.7,340.8Z" fill="#f08050" fill-rule="evenodd"/>
<path d="M65.8,178.5 65.2,182.8 65.8,184.4 74.2,191.3 75.6,191.8 83.4,191.8 85.6,190.3 90.7,181.8 91.5,179.4 85.7,165.7 84.2,164.1 82.4,163.6 79.1,164.8 66.6,177.3Z" fill="#f0a0c8" fill-rule="evenodd"/>
<path d="M208.1,261.9 212.4,267.1 213.9,268.1 217.8,267.2 219.8,265 219.1,262 216.5,257.9 215,256.8 209.9,256.2 208,256.9 206.9,259.2Z" fill="#f0c040" fill-rule="evenodd"/>
<path d="M65.4,108.7 63.9,116.6 65.1,118.3 75.8,123.1 77.5,123 81.5,121.1 83,120.1 83.6,118.8 83.6,117.3 80.6,106.7 79.6,104.7 78,103.8 70.5,104.8 66.8,105.8Z" fill="#f0c0a0" fill-rule="evenodd"/>
<path d="M403.3,242.5 402.5,245.2 403.9,247.3 413,251.3 414.8,251.1 416.4,249.8 416.8,241.3 415.3,239 413.6,238.6 408.4,239.3 405,240.9Z" fill="#f0c0e0" fill-rule="evenodd"/>
<path d="M211.2,228.6 211.4,230.2 212.5,231.6 214.2,232.2 215.9,231.7 220.2,225.9 220.4,224.3 220,222.9 217.7,221.3 213.8,221.7 212.4,223.7Z" fill="#f0c840" fill-rule="evenodd"/>
<path d="M85.1,161.8 87.1,163.8 105,166.8 101.4,158.7Z" fill="#f0c8a0" fill-rule="evenodd"/>
<path d="M283.8,211 282.2,213.3 282.9,215.8 292.2,219.7 295.2,220.5 297,220.3 298.1,219.3 299.5,216.5 299.2,213.7 295.4,208.2 293.7,207 291.5,207.2Z" fill="#f0d090" fill-rule="evenodd"/>
<path d="M319.2,39.2 319.9,41.2 321.7,42.2 333.2,42.3 335.2,42.8 342,42.7 343.5,41.6 344.2,39.9 342.7,36.2 340.1,32.8 330.4,28.9 328.8,29.2 320.7,34.2 319.8,35.6Z" fill="#f0d0a0" fill-rule="evenodd"/>
<path d="M205.7,117.8 206.4,119.7 208,120.7 210.4,121.1 217.8,120.3 225.6,123 227.8,122.2 238.1,116 239.8,113.4 239.8,97.4 239.3,95.7 237.5,94 234.9,93.2 221.6,92.7 214.7,97.1 208,99.2 206.7,101.4Z" fill="#f0d0e8" fill-rule="evenodd"/>
<path d="M255.2,166.7 245.7,178.7 245.6,180.3 249,188.6 250.3,191 253.4,193.1 255.5,193.2 272.3,188.2 273.8,187.3 274.7,186 274.8,175.7 274.4,174.2 270.5,170.9 262.6,165.8Z" fill="#f0d890" fill-rule="evenodd"/>
<path d="M355.2,40.6 354.2,41.8 353.9,43.6 354.6,45.2 356.2,46.2 367.9,49.4 370.4,48.6 371.7,47 371.7,45 370.7,43.6 361.8,39.3 358.6,38.5Z" fill="#f0d8e8" fill-rule="evenodd"/>
<path d="M29.8,370.1 27,369.9 25.3,372.1 25.3,378.7 26.1,380 27.8,380.8 29.3,380.7 30.5,379.8 33.4,374 32.7,371.5Z" fill="#f0e0c8" fill-rule="evenodd"/>
<path d="M401,77.2 402.9,79.1 412.5,81.7 414.7,81.7 416.3,80.4 416.8,78.8 416.8,56.2 416.4,54.8 415.4,53.7 411.1,52.7 406,52.8 404.4,53.5 401.2,56.3 400.7,58Z" fill="#f0e0e0" fill-rule="evenodd"/></g></g>
<g clip-path="url(#clipb)"><g filter="url(#soft)"><rect x="442" y="11" width="392.5" height="390.8" fill="#000"/>
<path d="M592.2,355.2 587.8,359.8 586.2,363.8 587.8,365.8 603.8,378.2 608.8,376.8 612.8,374.8 616.2,360.2Z" fill="#000"/>
<path d="M510.8,349.2 510.8,376.2 527.8,372.8 527.8,369.8 528.2,369.2 530.2,354.2Z" fill="#000"/>
<path d="M768.2,316.8 759.2,326.8 759.8,329.2 764.2,338.2 775.2,334.2Z" fill="#000"/>
<path d="M686.2,315.8 673.8,321.8 672.8,322.8 672.8,324.8 670.8,332.2 686.2,353.8Z" fill="#000"/>
<path d="M486.8,308.2 483.2,309.8 471.8,312.8 470.8,313.8 469.8,318.8 469.8,320.2 470.8,321.2 484.8,330.2 494.2,317.8 489.2,309.2 488.2,308.2Z" fill="#000"/>
<path d="M532.8,289.2 532.2,289.8 532.2,296.8 531.8,297.2 531.2,306.8 540.8,309.8 545.2,302.8Z" fill="#000"/>
<path d="M733.2,275.8 728.8,296.2 729.8,298.2 732.2,297.8 750.8,290.2 747.8,278.2 737.2,276.8 736.8,276.2 733.8,276.2Z" fill="#000"/>
<path d="M593.8,254.2 599.8,278.2 605.2,277.2 606.8,274.2 609.8,263.2 602.2,254.2Z" fill="#000"/>
<path d="M442.2,251.8 442.2,252.2 442.2,267.8 450.8,259.2 450.2,258.2Z" fill="#000"/>
<path d="M556.2,248.8 551.2,261.2 552.8,261.8 559.8,261.8 560.2,262.2 567.2,262.2 567.8,262.8 564.8,252.2 563.8,251.2 560.2,250.2 557.8,248.8Z" fill="#000"/>
<path d="M728.8,248.2 727.8,249.8 722.8,265.2 730.2,271.2 731.2,266.2 731.2,262.8 731.8,262.2 731.8,258.8 732.2,258.2 732.2,254.8 732.8,254.2 732.8,250.8Z" fill="#000"/>
<path d="M687.8,227.8 681.8,231.8 681.8,243.2 685.8,248.8 693.8,248.2 694.2,246.8Z" fill="#000"/>
<path d="M794.2,226.8 782.2,235.2 783.2,238.2 786.2,257.2 790.2,258.8 806.8,250.8 805.8,232.2 799.8,227.2Z" fill="#000"/>
<path d="M605.8,185.8 605.2,186.2 600.2,186.2 599.8,186.8 594.8,186.8 594.2,187.2 589.2,187.2 588.2,187.8 589.2,205.8 599.2,203.2 601.2,203.2 603.2,202.2 605.8,189.8 606.8,187.2 606.8,186.2Z" fill="#000"/>
<path d="M811.8,171.8 801.8,184.8 806.2,193.2 815.2,192.2 812.2,172.2Z" fill="#000"/>
<path d="M767.2,135.8 768.8,158.2 769.2,160.2 782.2,150.8Z" fill="#000"/>
<path d="M609.8,130.8 607.8,135.8 617.2,150.2 626.2,141.2Z" fill="#000"/>
<path d="M512.8,117.8 502.8,134.2 477.8,142.8 476.2,142.2 474.2,142.8 472.8,162.2 479.2,167.8 481.8,168.2 489.8,164.8 491.8,162.2 510.8,151.2 522.2,121.8 522.2,121.2 517.8,119.2Z" fill="#000"/>
<path d="M580.8,113.8 595.2,109.8 595.8,107.8 596.8,106.8 614.8,112.8 618.8,108.2 614.2,108.2 613.8,107.8 596.8,106.2 591.8,101.2Z" fill="#000"/>
<path d="M498.2,74.2 492.2,81.2 500.8,88.8 501.8,88.8 505.8,77.2Z" fill="#000"/>
<path d="M746.8,62.2 734.8,65.8 736.8,74.8 751.2,74.8 752.2,72.2 752.2,70.2 748.8,63.2 748.8,62.2Z" fill="#000"/>
<path d="M750.2,49.2 751.2,53.8 772.2,57.8 766.2,49.2Z" fill="#000"/>
<path d="M603.8,32.2 593.8,42.2 594.2,42.8 599.2,44.8 604.8,40.8Z" fill="#000"/>
<path d="M638.1,45.4 641.8,65.6 642.9,67.8 644.4,68.7 651.4,67.8 653.5,66.8 664.4,54.8 665.7,51.5 666,46.6 665,44.8 650.2,36.9 647.7,37.3 639.9,41.5 638.3,43.2Z" fill="#104020" fill-rule="evenodd"/>
<path d="M460.6,103.2 460.6,105.8 462.6,107.5 464.9,107.1 467.2,105 469.6,102 470.1,100.4 467.9,95.5 465,94.7 462.7,95.7 461.9,97.2Z" fill="#105020" fill-rule="evenodd"/>
<path d="M607.3,190.4 604.9,202.3 605.6,203.7 613.1,211.4 612.2,222.3 617.5,233.3 620.2,234.6 636.6,239.4 643.6,245.5 646,245.7 652.8,243.4 665.6,228.3 665.8,225.9 664.8,218.1 664.1,216.5 658.3,210.6 649.5,204.8 649.2,201.5 648.2,198.7 643.5,187.9 642,186.3 640.3,186 639,186.5 633.3,191.7 610.6,188.2 609.1,188.4Z" fill="#1840d0" fill-rule="evenodd"/>
<path d="M503,89.3 502.7,91.8 503.4,101.3 513.7,115.9 523.9,120.2 531.7,120.8 537.6,120.2 539.9,118.8 551.5,91.2 550.2,87.7 539,69.2 528.7,64 527,64.5 507.6,77.5 506.3,79.7Z" fill="#1848d8" fill-rule="evenodd"/>
<path d="M532.7,285 534.1,288.7 544.8,300.4 546.9,301.3 554.1,301.3 555.7,300.8 572.7,300 574.1,298.5 578.2,286.6 569.6,265.4 566.4,263.7 560.2,263.7 558.3,263.2 550.8,263.1 538.6,269 533.8,280.2Z" fill="#1848e8" fill-rule="evenodd"/>
<path d="M721.2,317 726.4,328 727.6,329.3 730.4,329.5 733.6,326.5 733.9,323.8 730,313.4 728.6,311.6 727,311.1 725.6,311.5 721.9,314.9Z" fill="#2030a0" fill-rule="evenodd"/>
<path d="M772.7,323.2 776,331.6 777.5,333.1 779.4,333.8 780.9,333.6 785.5,330 786.3,325.6 785.7,324.2 784.6,323.2 775.6,319.7 773.3,320.9Z" fill="#204050" fill-rule="evenodd"/>
<path d="M758.2,397.4 759,399.9 761.2,400.8 792.2,400.8 793.8,400.1 794.8,398.7 794.7,395.9 780.7,339.9 779.5,337.1 777.1,335.8 775.4,335.8 766.9,339 765.6,340.2 764.8,342.4Z" fill="#204060" fill-rule="evenodd"/>
<path d="M523.9,247.5 522.9,249.4 523.5,251.7 535.9,265.1 538,266 543.8,263.7 549.7,260.5 554.6,248.4 553.7,245.7 547.7,234.7 546.6,233.7 545.2,233.3 542.9,234Z" fill="#2040a0" fill-rule="evenodd"/>
<path d="M807.2,236.3 808.3,248.2 809.2,249.8 810.7,250.7 812.6,251.1 814.3,250.7 824,244.8 825.1,243.4 825.2,241.6 824.1,239.5 817.8,232.9 812.2,232.7 809.2,233.4 807.7,234.6Z" fill="#2040d0" fill-rule="evenodd"/>
<path d="M719.4,14 717.8,22.9 718.3,25.3 721,30.7 724.1,32.6 747.5,32.8 749.2,32.1 750.1,30.9 750.3,24.7 749.8,22.8 749.8,17.1 748.9,13.8 747.4,12.4 721.6,12.3Z" fill="#2040e0" fill-rule="evenodd"/>
<path d="M639.3,74.6 638.4,77 640,80.1 655.8,97.9 657,98.7 658.6,98.8 661.9,98.1 663.4,97.2 670.6,83.7 670.2,81.7 666.2,74.1 653.6,69.9 642.2,72.3Z" fill="#2040e8" fill-rule="evenodd"/>
<path d="M633.4,84.1 628.7,102.8 629.3,104.5 634.1,107.6 648,107.8 650.3,106.8 653.7,102.3 654.1,100.5 653.4,98.8 640.4,83.7 638.3,81.7 636.6,81.2 634.6,82Z" fill="#204848" fill-rule="evenodd"/>
<path d="M578.7,397.4 579,399.1 580.2,400.4 582.6,400.8 584.3,400.3 601.7,382.5 601.9,379.6 601.1,377.9 588,367.8 585.3,368.3 583.8,370.9Z" fill="#2048e8" fill-rule="evenodd"/>
<path d="M657.3,101.8 652.3,108.9 652.4,110.4 656.4,119 658.5,120.8 661.6,120 670.3,114.1 671.5,112.3 671.3,110.5 670,108.4 665.7,103 663.1,100.8 661.1,100.7Z" fill="#205040" fill-rule="evenodd"/>
<path d="M666.7,155.6 666.7,157.9 668.3,159.6 680.4,162.8 682.2,162.8 683.5,162.2 685.6,160 686.6,157.8 686.2,155.7 679.7,142.7 677.3,141.2 671.8,141.8 670.1,143Z" fill="#2050c0" fill-rule="evenodd"/>
<path d="M658.6,129.8 660.6,134 668.9,139 672.8,139.3 678,138.5 679.6,137 685.7,124.3 687.4,120.3 687.3,118.5 686.2,117.1 684.6,116.3 678.4,114.7 674.5,114.5 659.2,124.6 658.1,127.3Z" fill="#2050d0" fill-rule="evenodd"/>
<path d="M804.9,294 801.3,311.5 802,313.1 805.5,316.1 807.9,317.2 828.9,314.8 831.6,314 833.1,312.5 833.2,303.3 832.6,302 830.5,300.4 815.7,291.7 813.7,290.9 811.1,291.2 806.4,292.5Z" fill="#2050e0" fill-rule="evenodd"/>
<path d="M770.2,131.1 768.5,133.2 769.1,135.8 781.5,148.1 783.4,148.8 785.4,148 786.7,145.8 791.2,133.1 790.6,130.4 783.8,125.3 781.9,124.7Z" fill="#2050e0" fill-rule="evenodd"/>
<path d="M516,245.2 517,246.5 518.4,247.1 521.6,246 539.8,233.4 541.1,231.3 540.6,229.1 539,227.8 524,224.8 520.7,225.1 519.6,226.1 518.7,228.6 515.7,243.1Z" fill="#205840" fill-rule="evenodd"/>
<path d="M608.9,167.2 607.9,183.9 609.9,185.7 631.9,188.9 634.2,188 639.3,182.9 640,181 637.7,175.7 631.8,165 617.7,159.5 615.7,160.2Z" fill="#208070" fill-rule="evenodd"/>
<path d="M565.8,170 575.9,171.2 577.4,170.9 578.5,170 581.4,162.9 578.7,156.2 577.3,154.2 574.5,153.8 566.9,156.5 563.8,158.2 563.2,159.8 563.3,167.5 564,169Z" fill="#209040" fill-rule="evenodd"/>
<path d="M782.7,337.4 797.9,398.4 798.7,399.8 800.1,400.7 806.7,400.6 808.5,398.4 808.3,394.6 798.6,341.3 796.7,339.1 787.8,333.1 786,333.2 783.7,334.7 782.9,335.9Z" fill="#209060" fill-rule="evenodd"/>
<path d="M789.7,209.7 794.4,222.4 796.3,223.8 798.6,223.5 800.3,220.9 802.3,209.6 801.8,206.6 799.5,205.2 791.6,205.3 789.7,207Z" fill="#20a030" fill-rule="evenodd"/>
<path d="M649,13.7 646.9,21.7 649.9,32.4 651.2,34.4 667,42.7 669.8,42.2 674.7,39.1 680.1,26.2 678.7,14.7 677.7,12.9 675.8,12.2 651,12.3Z" fill="#20c040" fill-rule="evenodd"/>
<path d="M703.5,255.3 704.1,262.2 705.9,263.7 720.2,263.7 722.1,262 724.2,256 724.5,253.5 723.6,252 721.7,251.2 706.4,253.3 704.4,254.2Z" fill="#20d040" fill-rule="evenodd"/>
<path d="M516.6,140.7 516.2,143.3 517.9,145.3 523.4,146.4 525.7,145.2 531.3,126.4 531.1,124.6 530.2,123.4 528.5,122.7 525.2,122.7 523,124Z" fill="#301010" fill-rule="evenodd"/>
<path d="M528.1,146.8 528.1,148.9 529.6,150.8 533.5,152.2 540,152.7 543.9,149.5 544.3,146.4 541.8,127.6 541.1,124.6 539.7,123.1 536.4,122.8 534.4,124.5Z" fill="#3020e0" fill-rule="evenodd"/>
<path d="M700.3,64.4 706.9,69.5 709.6,69.7 718.9,60.8 719.5,59.4 719.3,57.6 715.1,54.2 713.4,53.8 711.7,54.3 700.4,60.4 699.7,63.1Z" fill="#3030a0" fill-rule="evenodd"/>
<path d="M566,17.2 567.5,21.8 572.9,26 574.7,26.4 576.7,25.5 581.4,20.3 584.1,16.9 584.6,15 584,13.3 582.2,12.3 568.5,12.2 567.1,12.7 566.1,13.8Z" fill="#304890" fill-rule="evenodd"/>
<path d="M770.7,15.6 771.8,20.7 772.7,21.9 774.1,22.5 785.6,21.2 787.1,20.2 787.7,18.8 787.6,14.1 786.7,12.9 785.3,12.3 773.1,12.3 771.3,13.4Z" fill="#3050d0" fill-rule="evenodd"/>
<path d="M558.6,180.8 560.4,183.7 563,184.2 576.8,179.5 578.1,178 578.2,176.2 577.4,174.6 576.1,173.8 563.2,172.3 561.7,173.1 558.4,177.1 558,178.8Z" fill="#3060c0" fill-rule="evenodd"/>
<path d="M765.6,208.3 760.1,223.5 760.3,225.2 763.2,230.4 766.4,231.8 782,233.5 791,227.5 792.2,225.5 790.7,219.7 785.1,205 779.6,200.5 776.9,199.1 774.6,199.8Z" fill="#3060d0" fill-rule="evenodd"/>
<path d="M626.9,17.1 634.9,22.7 637.5,22.7 644,19.8 645.2,17.1 645.3,14.5 644.5,13 642.7,12.2 628.8,12.3 627.1,13.3 626.3,15.2ZM594.9,17.3 602.4,22.3 604.9,22.5 610.5,17.2 611.1,15.8 611,14.4 610,12.9 608.4,12.2 596.3,12.3 594.5,13.8 594.2,15.7Z" fill="#309050" fill-rule="evenodd"/>
<path d="M767.5,90.2 780.7,94.4 783,88.7 776.6,89.2 775.8,89.7 771.6,89.7 770.8,90.2Z" fill="#3090e0" fill-rule="evenodd"/>
<path d="M467.3,207.4 468.9,212.5 470.1,213.8 471.9,214.2 473.8,213.4 481,205.1 485.1,202.4 487.6,196.2 487.6,194.7 487,193.4 478.2,187.4 476.4,187.3 474.5,188.3 473.3,190.5 471.1,201.6 467.4,205.9Z" fill="#30c060" fill-rule="evenodd"/>
<path d="M447.2,138.3 448.5,140.8 451.1,141.3 463.6,138.2 465.5,137.1 466.1,135.8 466.1,134 461.2,123.2 459.6,122.5 456.9,122.7 449.5,124.3 448,125.1 447.2,127Z" fill="#30c060" fill-rule="evenodd"/>
<path d="M454.1,187.4 451.2,193.1 451.5,194.6 454.9,201.5 456.3,203 459.9,203.8 464.5,203.8 467.2,202.4 468.5,201 470.4,191.6 470.1,190.2 468.9,188.9 464.9,187.7 455.9,186.5Z" fill="#30c070" fill-rule="evenodd"/>
<path d="M490.8,14.7 499.3,71.6 501,73.6 504,74.7 506.5,75 524.3,63.4 525.8,61.5 525.7,59 513.9,24.2 503.4,13 502.1,12.3 492.3,12.6Z" fill="#30c0c0" fill-rule="evenodd"/>
<path d="M519.5,30.9 528.3,58.8 530.1,61.6 538.9,66 540.7,66.3 556.3,58.7 557.8,57.4 558.2,55.1 556.7,52.2 546.1,36.1 522.9,28.3 521.5,28.5 520,29.5Z" fill="#30c0e8" fill-rule="evenodd"/>
<path d="M713.2,205 713.9,207 716,208.6 728.1,224.7 730.6,227 732,227.3 733.6,226.8 742.6,221.5 743.7,220.2 743.7,217.5 740.3,205.3 740.7,197 739,194.9 723.5,191.3 720.9,191.4 719.7,192.2 713.6,199.5Z" fill="#30c8b0" fill-rule="evenodd"/>
<path d="M668.3,49 668.2,53.9 669.3,56.3 673.1,62.8 674.5,64 687.4,65.3 690.1,64 691.4,62.4 691.6,61 691,59.3 679.2,46 676,43.1 673.5,43.2 669.3,45.6Z" fill="#30d040" fill-rule="evenodd"/>
<path d="M689.9,228.3 695.8,246.8 697.7,248.9 701.2,251.1 704.1,251.3 724,248.2 726.3,247.4 727.6,245.9 729.3,232.6 729.1,230.1 716.9,213.8 713.2,209.8 711.7,209.6 710.3,210.1 691.5,225.8Z" fill="#30d870" fill-rule="evenodd"/>
<path d="M449.9,169.9 449.1,171.5 449.3,173.4 453.3,180.8 455.5,183.4 470.2,186.3 472.8,186.2 475.9,184.1 478.7,169.8 477,167.3 472.7,164.2 470.7,163.8 455.4,166.3 452.6,167.2Z" fill="#30d890" fill-rule="evenodd"/>
<path d="M556.4,107.4 546.1,118.3 546,119.8 546.7,121.2 548.1,122.1 571.1,125.4 572.5,125.1 573.8,123.9 576.3,117.4 575.9,115.7 574.5,114.4 560.3,107.3 558.3,106.7Z" fill="#30d890" fill-rule="evenodd"/>
<path d="M513.1,151.9 517.3,158.2 520,159 523.3,156.9 525.5,154.6 526.4,152 525.6,150.4 523.8,149.4 515.4,147.8 513.8,148.6 512.9,150.3Z" fill="#4020d0" fill-rule="evenodd"/>
<path d="M751.7,183.4 752.1,185.3 753.4,186.5 770.5,191.7 774,192.3 775.3,191.6 776.3,190 776.2,188.2 769.7,169.7 768,165.8 766.2,164.4 758.2,166.3 754.9,168.1 754.2,169.6Z" fill="#4030e0" fill-rule="evenodd"/>
<path d="M614.7,373.1 615.5,375.6 620.5,379 625.6,378.2 629,376.9 630.3,374.7 631.3,364.3 630.8,362.6 629.5,361.4 623.1,358.2 620.3,358.6 618.3,360.2 617.4,362.1Z" fill="#404870" fill-rule="evenodd"/>
<path d="M737.5,77.2 736.1,80.6 736.7,82.2 745.5,92.6 747.1,93.1 748.7,92.8 752.8,89.2 753.3,87.9 753.2,85.9 751.1,78.6 749.7,76.7 748,76.2 739.1,76.3Z" fill="#405080" fill-rule="evenodd"/>
<path d="M618.2,154.5 618.9,156.5 620.7,157.7 633.5,162.6 642.1,178.1 644.7,178.6 650,176.1 651.2,175.1 651.8,173.6 651.7,159.8 650.3,158.1 643.8,155.1 642.5,153.9 641.3,147.7 642.3,146.4 653.2,141.5 657.2,135 656.3,131.1 655,129.9 653.6,129.6 644.4,130.2 640.8,131.2 633.9,141 626.7,142.7 619.1,150.3 618.3,151.8Z" fill="#406098" fill-rule="evenodd"/>
<path d="M557.4,92.1 558.3,100.6 559.7,104.1 577.8,113.1 579.5,112.9 581.2,111.5 587.4,104.3 589.8,100.4 587.7,91.7 585.9,88.3 582.9,87.2 569.4,84.7 566.5,85 559.7,89.6Z" fill="#4080e8" fill-rule="evenodd"/>
<path d="M588.2,215.9 589,218.1 591,219.2 607.4,220.7 608.7,220.2 609.7,218.8 610.3,216.6 610.4,212.6 609.8,211.2 604,205.3 602.4,204.7 600.4,204.7 591.2,206.9 589.7,207.7 588.8,209.3Z" fill="#40b860" fill-rule="evenodd"/>
<path d="M710.2,73.6 711.3,82.2 712.4,84 720.1,86.3 723.3,86.2 732.1,81 733.6,79.4 735.1,74.6 733,66 726.8,59.7 725.4,59.2 723.7,59.4 710.9,72Z" fill="#40c060" fill-rule="evenodd"/>
<path d="M793,28.7 794.1,30.2 795.7,30.8 808.3,30.5 809.5,29.3 810.7,26.3 812.3,20.7 812.1,18.9 810.6,17.4 808.6,17.2 795.2,23.8 793,25.7Z" fill="#40c850" fill-rule="evenodd"/>
<path d="M454.1,82.7 454.6,85.2 460.2,90.4 462.6,91.7 466.2,92.3 468.8,92.1 473.8,89.7 482.2,84.9 483.4,83.2 482.7,79.7 467.5,41.9 466.3,39.6 464.7,38.7 462.2,39.2 460.8,41.4Z" fill="#40c870" fill-rule="evenodd"/>
<path d="M604.5,381.3 604.2,383.1 604.7,384.7 612.1,395.7 614.2,397.4 616.8,396.9 618.3,394.1 619.3,383.8 618.6,381 614.5,377.9 612,377.1 606.2,379.1Z" fill="#40d0d0" fill-rule="evenodd"/>
<path d="M559.1,380.3 558.9,381.8 559.6,383.2 571.6,395.2 573.5,396.1 575.2,395.8 576.6,394.3 577.3,391.4 581.3,371.4 581,368.4 580,367.2 578.6,366.7 566.7,367.1 564.4,370Z" fill="#40d8d0" fill-rule="evenodd"/>
<path d="M544.2,128.3 546.8,147.4 548.2,149.4 562.1,155.3 571.8,152.2 575.7,150.6 577,149.4 578.7,144.5 578.8,142.6 574.2,131.2 572.5,128.7 569.1,127.7 547.4,124.7 544.9,125.7Z" fill="#4a20e8" fill-rule="evenodd"/>
<path d="M822,229.3 821.1,231.2 821.5,232.9 827.1,239.7 829.7,241.6 832.2,241 833.3,238.6 833.3,225.4 832.6,223.5 830.8,222.4 828.8,222.7Z" fill="#502860" fill-rule="evenodd"/>
<path d="M589.5,48.7 591.3,51.3 593.9,51.5 595.2,50.7 596.2,48.8 596.4,46.3 594.3,44.3 591.1,43.8 589.1,45.8Z" fill="#5030a0" fill-rule="evenodd"/>
<path d="M655.4,142.9 656.2,151.9 657.3,155.2 660.5,156.7 662.6,156.5 663.9,155.4 664.7,153.1 667.1,143.1 666.9,141.3 665.9,140.2 661.8,137.8 659.2,137.8 657.6,139.3Z" fill="#504070" fill-rule="evenodd"/>
<path d="M556.7,31.1 555.8,33.4 556.8,35.5 567.2,40.2 569,40.2 572.3,38.7 574.2,36.6 574.3,33.9 573.3,29.8 566.8,24.6 564,24.9Z" fill="#506070" fill-rule="evenodd"/>
<path d="M681.6,139.1 681.8,141.3 688.4,154.5 689.9,156 694.6,156.3 710.6,154.8 712,154.3 713,153.1 713.3,151 711.6,148 694,123.9 692.5,122.7 690.5,122.6 688.9,123.7Z" fill="#50c030" fill-rule="evenodd"/>
<path d="M689.9,67.5 687.3,81.1 687.9,82.6 691.3,85.9 695.7,89.2 706.4,86.6 707.8,85.8 708.7,84.3 708.8,81.4 707.3,73.2 695.8,64.2 693.4,64.5Z" fill="#50c0c0" fill-rule="evenodd"/>
<path d="M624.3,50.5 623.2,51.6 622.7,52.9 623,67.3 623.9,68.5 632.2,74.2 633.9,74.8 635.3,74.5 638.9,71.7 639.8,69.7 636,48.4 634.7,46.9 632.7,46.5Z" fill="#50c830" fill-rule="evenodd"/>
<path d="M599.9,388 591.5,396.9 591.5,398.6 592.5,400.1 593.8,400.7 607.4,400.7 609,399.9 609.8,398.2 609.3,395.8 605.1,389.5 603.7,387.9 602.4,387.3Z" fill="#50d0e0" fill-rule="evenodd"/>
<path d="M769.6,29.7 769.2,32 770.4,33.7 783.9,40.2 785.4,39.9 786.5,39 790.8,31.4 789.6,25.5 788.8,24.3 787.2,23.7 772.8,25.3 771.3,26.4Z" fill="#50d830" fill-rule="evenodd"/>
<path d="M715.7,49.9 716.7,52.3 722.7,56.2 724.7,56.4 726.4,55.2 727.7,52.7 727.8,50.8 724.7,41.2 723.2,38.9 721,38.3 719,39.5Z" fill="#6030e0" fill-rule="evenodd"/>
<path d="M778.5,192.3 777.7,194.5 778.4,196.6 784.9,201.5 787.6,202.8 800.4,202.5 802.2,200.3 804.6,193.9 804.2,192.2 801.7,187.9 799.6,186.7 782,190.3 779.7,191.1Z" fill="#604040" fill-rule="evenodd"/>
<path d="M752.1,14.8 752.8,28.3 754.3,30.4 764.3,30.8 765.8,30.4 767.1,29 769.4,23.8 767.3,13.6 765.1,12.2 755.1,12.2 753.5,12.7Z" fill="#6040e0" fill-rule="evenodd"/>
<path d="M447.8,301.4 453.6,298.7 454.8,296.7 454.7,295.2 452.1,289.5 449.8,287.9 445.1,288.4 443.9,289.3 443.3,290.7 443.4,300 445.2,301.6Z" fill="#606090" fill-rule="evenodd"/>
<path d="M659.3,159.1 656.3,158.7 654.3,160.8 654.3,166.9 654.9,168.2 656.3,169.2 658,169.3 659.5,168.4 662.3,163 661.7,160.4Z" fill="#607060" fill-rule="evenodd"/>
<path d="M644.7,151.5 646,153.3 650.6,155.1 652.7,154.4 653.8,152.3 652.9,147.7 651.9,146.6 650.4,146.2 645.4,148.1 644.5,149.6Z" fill="#608030" fill-rule="evenodd"/>
<path d="M557.6,202.4 560.2,205.5 561.8,216.1 562.5,218.6 563.5,219.8 580.2,223.6 582.2,223.1 584.1,221 585.2,218.7 586.3,208.1 587.8,205.1 587.3,194.4 586.4,188 580.8,182.3 578.4,181.8 561.2,187.9 560.4,189.1 557.8,198.4 557.3,200.9Z" fill="#6090d0" fill-rule="evenodd"/>
<path d="M573.3,266.3 579.9,283 581.5,284.6 583.6,284.8 593.5,283.2 597.9,279 597.8,275.6 593.7,259.4 592.7,256.9 591.3,255.8 589.8,255.7 588.2,256.3 574.5,264Z" fill="#6090e8" fill-rule="evenodd"/>
<path d="M553.6,41.9 557.6,49.3 560.1,50.7 561.6,50.4 562.9,49.3 565.3,44.4 565.1,42.9 564.1,41.8 556.8,38.7 555.4,38.9 554.1,40.1Z" fill="#60c0e0" fill-rule="evenodd"/>
<path d="M816.1,131.3 825.7,141.7 827.4,142.3 830.5,142.3 832.6,141.2 833.3,139.2 833.3,113.4 832.2,111 830,110.4 827.6,111.7 816.4,127.5 815.7,129.6Z" fill="#60c0e8" fill-rule="evenodd"/>
<path d="M539,387.2 540.4,392.9 541.9,394.2 543.6,394.3 545.1,393.5 551.5,387.2 552.1,384.7 551.2,383.1 550,382.3 547.1,381.7 541.2,381.6 539.9,382.2 538.8,383.6Z" fill="#60d060" fill-rule="evenodd"/>
<path d="M641.1,293.7 648,306.2 671,319.6 672.9,320.2 674.8,319.7 685.7,314.2 689.4,310.2 691.2,307.2 693.2,294.6 688.4,280.7 680.5,275.4 677.3,274.1 652.4,279.1 641.6,290.8 640.9,292.2Z" fill="#60e060" fill-rule="evenodd"/>
<path d="M666.5,96.9 666,98.9 667,101.1 675.9,111.5 686.6,114.3 689.2,114.4 691,113.4 694,109.1 694.2,92 692,89.3 685.8,83.9 679.9,83.7 673.4,84.8 671.8,86.7Z" fill="#60e0c0" fill-rule="evenodd"/>
<path d="M464.7,111.8 463.4,120.8 470.1,137.1 474.5,140.5 477.4,140.9 501.8,132.8 510.5,119 511,117.3 510,114.9 501.5,103.2 496,101.3 484.6,98.6 474.2,101.4 472.6,102.2Z" fill="#6868f0" fill-rule="evenodd"/>
<path d="M681.3,30.2 677.6,39.7 678.2,41.9 693.6,58.7 696.2,59.6 712.5,50.7 718.3,31.3 716.1,26.5 714.5,24.9 698.6,21.2 683.1,27.4Z" fill="#6870e8" fill-rule="evenodd"/>
<path d="M542.2,156.5 547.2,174.2 550,175.7 554.2,176.3 556.1,175.7 560.1,171.5 560.7,170.2 560.8,159.7 560.2,157.9 558.8,156.8 546.6,151.8 544.7,152.3 542.9,153.9Z" fill="#702090" fill-rule="evenodd"/>
<path d="M579.6,150.1 579.7,152 582.3,158.3 584,161.3 585.6,162.2 606.7,165.2 608.2,164.4 614.9,157.7 615.7,156.2 615.4,150.4 608.4,139.3 606,137.6 582.9,144 581.3,145.3Z" fill="#7040a0" fill-rule="evenodd"/>
<path d="M805.2,63.4 804.9,78.7 806.1,80 815.2,83 832,76.4 833.3,73.9 833.3,58.8 832.8,57.1 831.3,55.9 819.1,53 806.8,60.3Z" fill="#706838" fill-rule="evenodd"/>
<path d="M445,271.2 450.5,280.1 453.5,283.9 455,284.3 467.3,284.2 468.8,283.1 469.6,281.3 473.7,266 474.1,262.7 473,261 467,257.2 452.7,259.9 451,260.8 444.8,267.2 444.2,269.1Z" fill="#707040" fill-rule="evenodd"/>
<path d="M577.6,296.1 577.5,298.4 578.8,300 592.9,305.1 594.4,305 595.6,304.1 599.1,298.7 598.7,296.2 595.2,288.7 594.1,287 592.5,286.2 581.5,287.7 580.4,289Z" fill="#709080" fill-rule="evenodd"/>
<path d="M731.1,300.5 730.2,306.6 730.8,308.8 736.3,322.8 738.3,324.7 758,325.7 759.2,324.9 765.2,318.5 767.7,314.9 768.3,312.6 768.1,309.6 761.1,296.6 759.6,295.5 752.2,292.3 749.7,292.3 733.2,298.8Z" fill="#70b8c8" fill-rule="evenodd"/>
<path d="M459.9,225.2 458.4,232.6 459.4,234.1 465.9,237.8 468.4,237.6 470.8,234.9 469.7,225 469,223.4 467.6,222.4 465.1,222.2 460.8,223.6Z" fill="#70c8e0" fill-rule="evenodd"/>
<path d="M447.4,147.4 451.8,161.3 453.5,163.4 456.1,163.8 468.6,161.7 470.6,160.6 471.7,158 472.7,143 471,140.9 468,139.7 451.4,143.8 449.1,144.5 447.8,145.7Z" fill="#70d0e0" fill-rule="evenodd"/>
<path d="M811.7,31.8 814.3,38.3 820,49.8 821.3,50.7 829.1,52.8 831,52.7 832.4,52 833.3,49.8 833.3,15.2 832.4,13.1 830.2,12.2 819.7,12.2 817.9,13 816.3,16.2Z" fill="#7848e0" fill-rule="evenodd"/>
<path d="M825.4,145.5 812.8,164.9 812.9,166.4 814,168.2 815.7,169.1 829.4,171.3 831.1,171.2 832.4,170.4 833.3,168.2 833.3,147.8 832.4,145.6 830.2,144.7 826.9,144.8Z" fill="#802050" fill-rule="evenodd"/>
<path d="M479.7,397.8 480.6,399.9 482.5,400.8 498.2,400.8 499.9,400.3 501.3,398 501.3,386 500.8,384.2 499.3,383.1 497.2,383.1 482.5,390.4 480.9,392.7Z" fill="#8030b0" fill-rule="evenodd"/>
<path d="M770.2,163.5 777.5,184.6 778.7,186.8 780.5,187.8 785,187.2 800.8,183.5 808.9,173.2 810.8,169.9 810.2,166.2 809.1,164.8 786.6,151.3 782.7,152.3 772.4,159.5 770.5,161.4Z" fill="#803830" fill-rule="evenodd"/>
<path d="M484.8,87.1 486.1,95 488.2,96.6 497.6,98.9 499.6,98.3 500.7,96.8 500.8,94.9 499.8,89.7 491.9,83.2 487.2,83.9 485.4,85.1Z" fill="#8040c0" fill-rule="evenodd"/>
<path d="M793.2,12.2 791.3,12.9 790.2,15 790.3,19.4 792,21.3 794.8,21.2 801,18.1 802.6,16.6 802.7,14.3 801.2,12.5Z" fill="#8040e0" fill-rule="evenodd"/>
<path d="M468.7,253.3 469.7,255.5 475.4,259.8 477.2,260.1 480.8,259.2 482.4,258.2 483.1,256.8 484.3,250.6 484.2,246.9 474.4,238.4 473,237.9 471.6,238.1 469.4,240 468.8,241.3Z" fill="#807818" fill-rule="evenodd"/>
<path d="M456.2,235.7 444.5,238.7 443.3,240.4 443.3,249.9 444.2,251.5 449.8,256.4 451.4,257.2 453.4,257.3 463.1,255.2 465.6,253.9 466.3,252.2 466.3,242.7 465.1,240.3Z" fill="#807820" fill-rule="evenodd"/>
<path d="M643.3,341.5 645.8,353.5 650.5,356.6 654.4,358.4 679.4,353.7 680.9,352.7 681.6,351.2 681.1,349 673.4,338.3 670.8,334.9 669.2,334.1 645.4,339 644,339.9Z" fill="#807850" fill-rule="evenodd"/>
<path d="M489.2,296.2 489.2,304.6 489.8,307.4 494.5,315.1 496.3,316.6 504.5,319.2 506.4,319.3 529.2,306.4 530.3,303.1 530.7,287.5 529.9,285.8 528.4,284.9 506,278.3 504.2,278.3 502.1,279.7 490.1,293.7Z" fill="#808848" fill-rule="evenodd"/>
<path d="M448.9,160.6 447.6,159.4 446.2,159.1 444.5,159.7 443.5,160.8 443.3,166.7 444.8,168.8 446.2,169.1 447.7,168.8 449.8,166.1 450.1,164.4Z" fill="#80d840" fill-rule="evenodd"/>
<path d="M569.2,79.4 569.6,81.4 571.3,82.7 582.6,84.8 585.4,84.7 586.8,83.6 587.6,81.9 589.8,74.4 589.6,72.2 588.5,70.7 587.1,70.2 572.8,70.3 570.9,72.2Z" fill="#902050" fill-rule="evenodd"/>
<path d="M642.9,313.8 638.7,333.8 639.3,335.5 640.7,336.6 642.1,336.9 667.1,331.7 669.6,329.8 670.8,325.9 670.8,323.1 669.5,321.4 651.7,311.2 648.3,309.6 646.6,309.7 644.8,311Z" fill="#9020c0" fill-rule="evenodd"/>
<path d="M531.2,356.6 529.3,371.6 530,373.2 537.1,378.6 555,379.8 556.8,378.8 558.6,376 563.2,367.3 563.6,365.3 557.2,351.5 548.8,347.8 546.1,347.3 532.1,354.7Z" fill="#902828" fill-rule="evenodd"/>
<path d="M736.9,107.1 740.2,111.4 741.8,111.9 743.5,111.3 744.8,109.1 744.8,103.7 744.3,102.3 743.3,101.3 741.6,100.9 737.7,102.6 736.3,104.7Z" fill="#9040e0" fill-rule="evenodd"/>
<path d="M471.7,283.9 472.1,285.8 473.7,287.2 485.6,292.6 488.1,292.4 501.6,276.7 501.7,274 499.9,267.9 497.1,266 484.5,261.3 482.5,261.3 478.2,262.6 477.1,263.6 476.4,265.7Z" fill="#906050" fill-rule="evenodd"/>
<path d="M744.7,128.3 756,128.3 745.8,121.1Z" fill="#907040" fill-rule="evenodd"/>
<path d="M502.7,267.4 504.3,273.8 505.7,275.4 528.2,282.1 529.6,281.8 530.9,280.6 535.3,269 534.6,266.9 523.7,255 519.4,250.8 517.5,250.1 515.6,250.8 511.1,255.8 503.2,265.2Z" fill="#9070f0" fill-rule="evenodd"/>
<path d="M688.6,314.8 687.7,316.9 687.8,353.2 690.1,356.7 694.6,361.9 702.8,389.1 705.4,395.5 708.5,399.8 710.4,400.8 742.2,400.8 743.9,400.3 745.1,398.9 745.2,396.9 729.2,336.9 728.1,334.1 725.4,331.7 718.7,318.3 717.7,317.3 715.1,316.3 694.2,310.4 691.8,311.1Z" fill="#907820" fill-rule="evenodd"/>
<path d="M691.6,281.3 694.9,291 696.6,292.6 699.4,293.3 725.6,295 727.2,294.3 728.2,292.6 731.3,276.1 729.5,272.7 721.8,266.4 704.7,266.2 702.9,267 692.2,278.7Z" fill="#908010" fill-rule="evenodd"/>
<path d="M695.6,297.3 694.3,306.1 695.9,308.1 718.2,314.4 719.9,313.7 727.3,306.3 728.3,300.5 727.8,299.1 726.7,298.1 722.9,297.2 698,295.7 696.6,296.2Z" fill="#908020" fill-rule="evenodd"/>
<path d="M625.3,343.9 623.8,354.7 624.8,356.2 632.4,359.7 634.2,359.3 641.6,354.6 642.5,353.4 642.6,351.9 639.6,339 637.5,337.7 636,337.5 626.6,341.2Z" fill="#909040" fill-rule="evenodd"/>
<path d="M764.3,296.6 768.7,305.4 770.5,306.4 772.3,306.1 774.5,304.7 775.7,303 777.3,296.4 777.2,292.7 774.3,290.3 771.4,290.2 764.9,294.6Z" fill="#90a0e0" fill-rule="evenodd"/>
<path d="M639.7,397 640.3,399.7 642.6,400.8 700.6,400.8 702.7,399.6 703.3,397.6 702.3,395.3 699.6,394 661.6,380 642.1,386.4 640.7,388.6Z" fill="#90c040" fill-rule="evenodd"/>
<path d="M731.1,334.3 748.3,398.8 750.1,400.6 753.2,400.7 754.8,399.4 755.8,396.4 762.8,340.1 762.6,338.6 758.6,330 757.6,328.8 756.1,328.2 745.2,327.7 743.6,327.2 736.8,327.3 735.5,327.9 731.7,331.7Z" fill="#90c050" fill-rule="evenodd"/>
<path d="M730.3,53.6 728.7,57 729.4,59.1 733.8,63.3 736.6,63.8 746.9,60.5 748.1,58.3 749.3,52.5 748.2,50.4 745.9,49.7 731.9,52.8Z" fill="#9890d0" fill-rule="evenodd"/>
<path d="M692.6,117.7 717.1,151.7 719.5,153.3 725.8,151.7 727.7,150.5 742.3,128.4 742.9,121.2 742,118.9 732.2,105 724.9,101.7 718.9,101.7 710.5,102.5 696.1,110.7 692.7,115.3Z" fill="#98b880" fill-rule="evenodd"/>
<path d="M444.8,305.5 443.7,306.6 443.2,308.2 443.2,324.4 444.6,326.6 447.3,326.9 463.8,321.2 467.2,319.7 468.2,318.7 469.3,314.6 469.1,312.7 463.7,303.2 461.8,301.1 459.1,300.2 456.5,300.3Z" fill="#98d020" fill-rule="evenodd"/>
<path d="M543.1,308.7 542.7,310.4 543.3,312.3 552.5,329.3 554.1,330.2 560.4,331.3 562.9,331.2 564.4,330.5 565.7,327.6 570.3,307.9 570.6,305.3 569.7,303.6 568.4,302.8 566.2,302.7 564.3,303.2 547.6,303.7 545.6,304.8Z" fill="#98d098" fill-rule="evenodd"/>
<path d="M593.7,351.5 594.4,353.5 596.4,354.7 614.1,358.3 616.6,358.1 618.7,356.9 620.6,354.7 622.8,344.4 622.6,341.9 621.8,340.7 620.3,339.8 602.3,332.8 598.3,332.1 595.6,334.3 594.8,335.8Z" fill="#a02030" fill-rule="evenodd"/>
<path d="M552,334.9 549,343.6 550.2,345.6 555.5,347.7 557.3,347.7 558.7,346.6 563.3,339.2 564.1,337.2 563.8,335.5 561.6,333.8 553.7,333.3Z" fill="#a03040" fill-rule="evenodd"/>
<path d="M447.3,369.6 444.6,369.9 443.2,372.1 443.3,398.6 444.1,399.9 445.7,400.7 455.7,400.7 457.2,399.6 457.8,397.9 456.7,382 455.5,378.9 449.5,370.9Z" fill="#a030d0" fill-rule="evenodd"/>
<path d="M471.8,220.8 473.3,232 474.5,235.2 485.7,244.8 489.8,245.3 491.7,244.8 510.9,243.8 512.5,243.1 513.7,241 517.4,222.4 513.5,209.7 511.3,208.3 499.7,204 494.8,197 492.4,196 490.9,196.5 489.9,197.5 487.5,203.9 480.8,208.5 473,218.4Z" fill="#a030f0" fill-rule="evenodd"/>
<path d="M682.2,183.5 683.2,185.8 686.4,187.5 709.5,197.3 711.1,197.5 712.5,197 718.6,190 719.3,188.4 718.3,166.4 717.3,158.1 715.6,156.8 713.4,156.7 692.4,158.7 688.9,159.8 685.1,163.8 683.8,166.9Z" fill="#a040d0" fill-rule="evenodd"/>
<path d="M486.7,331.5 490.4,344.3 491.8,345.9 496.8,346.3 498.7,345.8 503.5,345.8 504.9,345.3 505.9,344.2 506.3,342.2 505.3,332.3 505.3,325.9 504.6,323 503.4,321.6 496.7,319.4 494.4,320 487.2,329.8Z" fill="#a09830" fill-rule="evenodd"/>
<path d="M667.2,217.4 668.4,225.8 670.2,227.6 680.9,230.1 683.9,228.6 684.9,227.2 684.9,225.1 682.8,220.8 677.6,211.5 675.5,209.7 674,209.6 672.6,210.3 667.7,215.7Z" fill="#a098a8" fill-rule="evenodd"/>
<path d="M770.2,271.9 773.4,285.9 774.3,287.4 777,289.1 779.4,290.2 780.9,290.3 792.6,287.7 794.8,286.1 795.2,284.1 790.7,264.4 789.7,261.2 788.5,259.9 785.8,259.4 775.4,263.1 770.6,269.8Z" fill="#a0b060" fill-rule="evenodd"/>
<path d="M710.3,89.4 711.3,97.8 713.1,99.6 720.4,99.2 721.8,98.6 722.6,97.3 722.8,95.1 721.7,90.7 719.8,88.8 713.9,87.2 712.1,87.4Z" fill="#a0b890" fill-rule="evenodd"/>
<path d="M657.6,364.8 662,376.1 663.2,377.5 695.2,389.7 697.3,389.7 698.9,388.4 699.2,386 692.2,363 686.1,355.7 684.1,355.3 659.3,360.3 657.4,362.2Z" fill="#a0d060" fill-rule="evenodd"/>
<path d="M720.2,158.5 721.2,181.6 721.8,186.4 722.7,188.1 727.5,189.7 740.7,192.3 742.5,191.6 747.9,186.7 748.8,184.9 751.8,169.6 751.6,167.7 750.6,166.3 731.3,155.3 727.9,153.9 722.7,155.3 720.8,156.7Z" fill="#a0e020" fill-rule="evenodd"/>
<path d="M814.4,174.1 816.2,188.9 817.5,191.8 829,197.8 830.7,198.1 832.2,197.4 833.3,195 833.3,177.1 832.5,175 830,173.8 816.8,172.1 815.4,172.7Z" fill="#a0e0c0" fill-rule="evenodd"/>
<path d="M562.6,58.9 568.8,66 571.3,67.7 589.5,67.8 591.2,67.1 592.2,65.3 592.1,59.7 584.7,44.8 583,43.4 576.5,40.3 573.7,40.8 569.1,43.7 562.1,55.4 561.9,57.2Z" fill="#a87810" fill-rule="evenodd"/>
<path d="M621.8,383.6 620.4,398.9 622.4,400.7 635.2,400.4 636.6,398.9 637.3,395.9 638.3,389.6 638,385.5 632.7,380.6 631,379.8 628.9,379.8 623.1,381.6Z" fill="#a8c870" fill-rule="evenodd"/>
<path d="M490.2,350.5 490,353 500.5,377.5 501.6,378.5 503,379 507.6,377.5 508.9,376 509.3,374.6 509.3,351.2 508.8,349.6 506.8,348.3 500.2,348.2 498.3,348.7 492.3,348.8Z" fill="#b02060" fill-rule="evenodd"/>
<path d="M731.9,148.9 731.4,151.5 732.9,153.5 753.2,164.8 755,164.7 764.8,161.7 766.3,160.8 767.2,159.3 767.3,153.4 765.7,135.4 764.2,132.8 759.8,130.9 745.7,130.7 743.9,131.3Z" fill="#b040d0" fill-rule="evenodd"/>
<path d="M659.2,64.1 658.3,66 659.1,68.3 665.2,70.7 667.7,70 670.9,65.3 670.7,63.6 668.4,59.7 666.3,58.3 663.8,59Z" fill="#b0a8c0" fill-rule="evenodd"/>
<path d="M679,270.2 680.4,272.5 687.4,277 689.2,277.4 690.9,276.7 699.4,267.7 701.3,264.9 701.3,260.6 700.2,254.7 699.5,253.3 696.1,250.5 694.3,249.7 689.9,249.7 686,250.9 678.7,260.1Z" fill="#b0b050" fill-rule="evenodd"/>
<path d="M455.7,291.2 458.2,296.8 459.4,297.6 461.5,297.8 463.1,297.1 464.7,294.8 466.7,290.8 466.8,289.3 466.1,287.8 464.7,286.8 457.8,286.8 455.7,288.4Z" fill="#b0b070" fill-rule="evenodd"/>
<path d="M724.4,90.1 725.8,97.6 726.6,99.2 732.6,101.8 741.9,97.6 743.4,95.2 742.9,93.3 737.9,87.2 735.1,84.3 733.4,83.7 731.2,84.3 725.2,88.2Z" fill="#b0b0a0" fill-rule="evenodd"/>
<path d="M749.7,279.5 752.5,289.4 760.6,293 762.1,293 764,292.1 769.6,288.1 770.6,286.6 768.1,274.1 766.9,272.3 764.1,271.3 758.1,270.9 756.5,271.4 750.2,277.7Z" fill="#b0c8b0" fill-rule="evenodd"/>
<path d="M468.9,322.2 443.9,331.2 443.2,333.2 443.2,363.3 444.2,365.5 449.5,367.6 459,379.1 479.5,388.2 482.3,387.7 497,380.1 497.6,378.8 497.6,377 487.3,353.5 487.3,350.6 488.5,347 484.6,333.7 483.3,331 470.8,322.8Z" fill="#c02040" fill-rule="evenodd"/>
<path d="M655.2,204.7 663.8,212.9 665.5,213.4 667.2,212.9 674.1,205.3 674.3,196.7 673.9,195.2 672.3,193.9 670.2,193.8 656.3,200.8 655.3,201.8 654.9,203.2Z" fill="#c02050" fill-rule="evenodd"/>
<path d="M743.6,194 742.9,204.7 744.3,210.1 747.2,219.2 749.7,220.6 756.4,222 758.5,220.1 763,207.7 772,199.2 772.6,196.7 771.8,195.2 770.6,194.4 750.1,188.6 745.7,191.6Z" fill="#c02050" fill-rule="evenodd"/>
<path d="M443.2,104.8 444.3,107.1 446.4,107.8 454.8,106.1 456.6,105.3 457.5,104.2 459.7,95.5 459.7,93.5 457.3,90.6 451.8,86.5 445.7,86.8 444.3,87.4 443.4,88.6Z" fill="#c02050" fill-rule="evenodd"/>
<path d="M583.6,225.6 583.3,227.1 583.7,236.6 584.4,241.1 590.6,250.2 593.3,252.7 600.4,252.8 602,252.1 614.4,235.4 614.4,233.3 611.2,226.2 610,224.2 608.7,223.3 588,221.3 586.2,222.1Z" fill="#c02898" fill-rule="evenodd"/>
<path d="M731.2,235.4 730.2,246.1 730.8,247.6 734,249.7 747.2,250.8 754.5,250.7 755.8,249.9 756.7,248.3 761.2,234.1 761.1,231.9 758.6,227 757,225.4 748,222.8 745.3,222.8 732.3,230.7Z" fill="#c030e0" fill-rule="evenodd"/>
<path d="M816.6,255.4 826.2,269 827.6,269.7 830.5,269.8 832.6,268.7 833.3,266.8 833.3,247.8 832.2,245.4 830.5,244.7 828.4,245 818.4,251 816.6,252.8Z" fill="#c040a0" fill-rule="evenodd"/>
<path d="M581.6,342.4 586.2,351.1 588.3,351.9 590.4,350.9 591.2,349.4 591.8,344.3 591.8,339.7 590.8,337.9 588.6,337.1 583.1,338.3 581.5,340.1Z" fill="#c090f0" fill-rule="evenodd"/>
<path d="M611,126.3 610.8,128.6 612.1,130.6 624.2,138.2 627.8,139.6 630.8,139.1 632.8,138.2 639.8,128.4 652.1,127.2 654.6,125.9 655.4,123.7 651.2,113.7 649.2,110.7 647.5,110.2 633.6,110.2 627.8,106.8 626.4,106.5 620,109.4 616.3,113Z" fill="#c0a030" fill-rule="evenodd"/>
<path d="M698.4,15.4 700,18.3 701.9,19.2 713.2,21.6 715.5,19.9 716.3,15 715.6,13.3 713.8,12.3 701.2,12.2 699.8,12.7 698.7,14Z" fill="#c0c040" fill-rule="evenodd"/>
<path d="M589.2,87.9 592.9,100.3 596.7,104.3 600.4,105.3 615.4,106.8 619.6,106.7 624.7,104.2 626,102.6 631.7,80.6 631.9,77.9 630.2,75.6 620.9,69.7 595.4,69.8 593.9,70.5 592.9,72.1 589.3,85.5Z" fill="#c83060" fill-rule="evenodd"/>
<path d="M669.2,73.2 672.3,80.3 673.6,81.5 676.8,81.8 682.7,81.2 684.2,80.3 685.2,78.1 686.2,69.9 685.3,68.4 683.1,67.3 674,66.8 672.1,68.2 669.7,71.8Z" fill="#d02020" fill-rule="evenodd"/>
<path d="M756.7,257.5 757.2,264.6 757.8,266.5 758.6,267.8 760.4,268.7 767.7,268.9 769.4,267.2 771.3,264 771.2,262.2 770.3,261 760.5,254.5 758.5,254.7 757.2,255.8Z" fill="#d020f0" fill-rule="evenodd"/>
<path d="M459.8,386 460.9,398.8 462,400.3 463.4,400.8 475.3,400.4 476.6,398.8 478.1,392.8 477.7,391.1 476.5,389.9 462.9,383.9 460.9,384.6Z" fill="#d03020" fill-rule="evenodd"/>
<path d="M632.7,376.1 633.2,377.8 635.5,380.2 639.2,383.2 641.1,383.8 657.1,378.5 658.4,377.3 658.8,375.6 653.1,361.1 648.7,358.2 644.4,356.5 641,357.9 634.2,362.6 633.2,367.4Z" fill="#d03060" fill-rule="evenodd"/>
<path d="M664.8,163.7 659.6,174.7 660.2,176.9 671.2,185.9 675,188.2 676.6,187.9 678.8,186.3 679.8,183.9 681.3,169.1 681.1,167 680,165.6 670,162.8 666.4,162.4Z" fill="#d03070" fill-rule="evenodd"/>
<path d="M576.7,35.5 578,38 585.1,41.6 587.6,41.8 592.8,41.1 602.3,31.8 602.8,30.4 602.7,26.2 600.6,24 590.8,17.8 589,17.1 587.4,17.3 584.6,19.7 576.7,29.3 576.2,31Z" fill="#d04848" fill-rule="evenodd"/>
<path d="M495.3,162 493.8,164 494.3,166.3 505.7,176.6 508.4,176.7 513.8,173.6 514.9,172.5 516.7,162.8 513,156.4 511,154.2 508.2,154.3Z" fill="#d060e0" fill-rule="evenodd"/>
<path d="M819,88.7 827.6,103.8 829.8,105.1 832.2,104.4 833.3,102.1 833.3,83.2 832.6,81.2 831,80.3 829.5,80.3 820.5,83.9 818.6,85.8Z" fill="#d07050" fill-rule="evenodd"/>
<path d="M805.2,207.8 801.9,226.3 802.6,227.7 806.5,230.7 816.1,230.3 818.7,229.4 832.9,215 833.3,204.7 832.7,202.9 831.3,201.8 815.5,194 809.9,194.2 807.5,195.2 806.5,196.4 804.1,203 804.2,204.4 805.2,206.1Z" fill="#d09070" fill-rule="evenodd"/>
<path d="M676.7,204.1 686.5,222.7 687.7,223.6 689.4,223.9 692.3,222.4 709.8,207.4 710.7,205.8 710.8,202.4 710.2,200.9 708.8,199.8 683.3,188.8 680.8,188.4 677.9,190 676.8,191.8Z" fill="#d09070" fill-rule="evenodd"/>
<path d="M615.1,238.8 604.6,253.6 604.9,255.4 609.3,261 611,262.2 633.9,260.8 636.7,259.4 639.6,256.5 642.1,248.5 641.4,246.8 636.6,242.2 618.1,236.9 616.6,237.3Z" fill="#d82040" fill-rule="evenodd"/>
<path d="M610.4,266.7 607.6,276.6 608.2,278.2 616.8,288.8 634.9,290.8 637.7,290.7 639.2,289.9 648.4,280.2 650.1,276.9 649.8,275.3 643.6,264 641.9,261.6 640.1,260.8 638.4,261.1 635.4,263.2 615.9,264.2 612,264.9Z" fill="#d83020" fill-rule="evenodd"/>
<path d="M510.2,16.7 515.5,22.7 517.2,23.7 547.6,33.6 550.2,33.1 552.8,31.4 562,23.7 563.3,22.2 563.9,20.6 562.6,14 561.5,12.7 559.9,12.2 512.6,12.2 510.8,13.1 509.9,15Z" fill="#d85060" fill-rule="evenodd"/>
<path d="M605.2,28.9 605.9,37.8 607.2,40.5 618.2,47.2 621.8,48.6 634.8,42.4 636.7,40.5 646.1,35.2 647,34.1 647.3,32.6 645.7,26.7 644,24.3 641.7,23.9 635.4,26.1 619.6,15 617.6,14.4 615.6,15.3 606.1,25.5Z" fill="#d8c820" fill-rule="evenodd"/>
<path d="M507.8,322.2 508.2,339.1 508.8,345.2 509.4,346.5 511.9,348.2 529.1,352.3 531.8,351.7 545,344.7 550.3,332.2 549.7,329.7 540.2,311.8 537.9,310.4 532.4,308.7 528.7,309.8 509.7,320.3Z" fill="#d8c898" fill-rule="evenodd"/>
<path d="M462.8,14.4 463.4,24.8 484.8,78.3 485.7,79.9 487,80.7 488.7,80.8 490.8,80.1 496.3,74.3 496.8,71.7 487.6,13.9 486.6,12.8 485.2,12.2 465.2,12.3 463.8,12.9Z" fill="#d8d8e0" fill-rule="evenodd"/>
<path d="M753.6,72.7 752.9,75.4 753.8,79.1 755.9,86 757.6,87.6 760.4,88.3 764.3,88.3 779.6,86.8 782.8,86 784.3,84.2 784.2,81.7 777.7,67.7 775,62.2 773.4,60.9 771.4,60.9 768.7,62.3 754.9,71Z" fill="#d8d8e8" fill-rule="evenodd"/>
<path d="M485.7,256.9 486.3,258.6 487.4,259.6 498.8,263.9 500.6,264 502.4,262.8 511,252.6 512.5,250.1 512.5,248.4 511.3,246.7 509.6,246.2 488.9,247.8 487.6,248.6 486.8,249.9Z" fill="#e02060" fill-rule="evenodd"/>
<path d="M543.1,70.1 553.1,87.7 554.5,88.8 556,88.9 558.1,88 565.5,82.3 568.6,69.7 565.4,65.2 561.4,61.3 558.8,60.4 544.1,67.7Z" fill="#e02868" fill-rule="evenodd"/>
<path d="M576.1,125.7 575.8,128 580,138.6 581,140.2 582.6,141 585,140.7 605.5,134.7 607,133.6 608.3,130.7 608.2,127 606.5,124.4 597.2,113.5 594.6,111.7 592.9,111.8 580.4,115.8 579.5,116.9Z" fill="#e03070" fill-rule="evenodd"/>
<path d="M443.2,273 443.2,285.8 451,285.3 444.8,275.1Z" fill="#e04020" fill-rule="evenodd"/>
<path d="M806.8,322.7 801.2,340.8 801.7,344.4 811.7,399 812.8,400.3 814.2,400.8 831.7,400.4 832.9,399.2 833.3,397.8 833.3,320.2 832.8,318.5 831,317.3 827.4,317.2 811.1,319.2 808.6,320.1Z" fill="#e040b0" fill-rule="evenodd"/>
<path d="M789.1,146.6 789.2,149 791.4,151 808.3,161.3 810.3,161.7 811.6,161.1 813.1,159.5 822.1,146 822.9,143.2 822.4,141.8 819.4,138.3 812.5,131.5 798.4,131.7 795.3,132.4 793.8,133.7Z" fill="#e040b0" fill-rule="evenodd"/>
<path d="M555.6,386.3 545.5,396.9 545.5,398.6 546.5,400.1 548.1,400.8 566.9,400.8 568.7,399.9 569.6,398 568.7,395.6 559.7,386.5 557.8,385.6Z" fill="#e040c0" fill-rule="evenodd"/>
<path d="M645.1,185.3 650.4,197.5 652.7,199.1 654.8,198.7 668,192.1 669.3,191.1 669.8,189.7 669.7,188.2 668.9,187 659.3,179.1 656.2,177.3 653.2,177.4 645.9,181 644.7,183Z" fill="#e040f0" fill-rule="evenodd"/>
<path d="M559.9,350.4 565.4,362.5 567.3,364.2 583,364.2 584.7,363.3 586.2,360.3 586.2,357.2 578.2,341.2 576.8,339.2 574.6,338.3 569.3,337 566.9,337.9 560.2,348.8Z" fill="#e04858" fill-rule="evenodd"/>
<path d="M582.9,166.5 580.3,173.9 581.6,179.5 587.8,185.6 593.1,185.8 602.8,184.7 604.2,184.1 605.1,182.9 606.3,170.6 605.8,169 604.5,167.9 599.6,166.7 585.1,164.8Z" fill="#e05030" fill-rule="evenodd"/>
<path d="M750.2,60.6 750.3,62.8 751.9,66 753.1,67.2 754.8,67.6 757.3,66.7 763.1,63 764.2,61.8 764.7,60.2 764.1,58.5 762.8,57.4 753.8,55.7 751.3,56.9Z" fill="#e05030" fill-rule="evenodd"/>
<path d="M479.2,182.5 479.5,184.8 481.3,186.4 489.7,192.1 492.6,192.3 494.4,191.5 502.4,182.8 503.7,180.6 503.9,179.1 503,177.3 493.7,169.1 490.9,167 489.1,166.7 483.7,168.8 481.6,170.5Z" fill="#e070d0" fill-rule="evenodd"/>
<path d="M545.7,210.4 544.8,226.7 546.1,228.4 547.9,228.8 550.1,228 559.2,220.6 559.8,218.4 557.7,206.8 555.7,204.2 552.7,203.7 548.7,204.3 546.7,205.6Z" fill="#e0a030" fill-rule="evenodd"/>
<path d="M817.4,285.9 816.8,288.3 818,290.3 829.2,296.7 830.7,296.8 832.2,296.1 833.3,293.8 833.3,275.2 832.6,273.3 830.5,272.2 827.6,272.3 826.2,273Z" fill="#e0a040" fill-rule="evenodd"/>
<path d="M776.2,306.5 771.3,310.2 770.7,311.6 770.8,313.5 771.7,314.8 785.7,320.9 788.5,320.6 793.1,315.6 793,313.6 791.5,311.9 778.4,306.4Z" fill="#e0b060" fill-rule="evenodd"/>
<path d="M455,207.9 452.9,214.7 453.7,216.3 459.3,220.5 465.2,219.7 466.5,218.9 467.2,217.5 467.2,216 465.2,209.2 464.3,207.4 462.8,206.3 457.6,206.1 456,206.7Z" fill="#e0b090" fill-rule="evenodd"/>
<path d="M470.4,290.3 465.1,299.5 465.3,301.2 470.3,309.7 471.8,310.7 474,310.7 484.3,307.7 486.5,305.8 486.8,298 486.2,296.2 484.3,294.8 474.8,290.3 472.4,289.7Z" fill="#e0b0b0" fill-rule="evenodd"/>
<path d="M510.5,382.2 518.9,397 521.3,400.3 523,400.8 535.6,400.8 537.9,399.4 538.3,396.1 535.2,381 534.3,379.7 529.5,375.9 527.6,374.9 525.9,374.7 512.1,377.3 510.1,379.3Z" fill="#e0c030" fill-rule="evenodd"/>
<path d="M786.7,46.8 787.9,49.2 803.8,58.3 806.3,57.7 814.1,53 815.8,51.7 816.5,50.1 816.2,48.2 810.2,35.2 809.1,33.8 807.6,33.2 794.7,33.2 792.9,33.8 787,43.1Z" fill="#e0d040" fill-rule="evenodd"/>
<path d="M509.4,385.1 508.3,384.1 506.7,383.6 505,384.2 503.9,385.5 503.8,398.6 504.6,399.9 506.2,400.7 513.9,400.7 515.7,399.3 516,397Z" fill="#e0d0f0" fill-rule="evenodd"/>
<path d="M567.7,330.9 567.9,332.7 569.1,334 577.9,336.5 591.9,333.8 593.7,332.9 596.3,330.3 596.8,328.2 594.8,312.6 593.5,308.5 578.5,302.8 576.2,302.4 574.6,303.2 573.3,305.9Z" fill="#e0d0f0" fill-rule="evenodd"/>
<path d="M596.7,308.2 598.7,325.4 600,329 618.7,336.7 625.1,338.7 632.6,336 635.8,334 640.3,313 644.3,308.3 644.8,306.5 640.1,297 637.4,293.5 617.2,291.7 615.2,292.3 602.3,299.1 597.4,306Z" fill="#e0d8a0" fill-rule="evenodd"/>
<path d="M783,95.3 782.7,104.3 783.2,106.2 783.2,115.3 783.8,121.5 785.2,123.4 794,129.7 806.6,129.3 812.7,128.3 826.5,109 826.2,106.2 814.7,86.4 812.3,84.8 804.8,82.3 802,82 787.5,86.4 786,88Z" fill="#e83020" fill-rule="evenodd"/>
<path d="M566.7,253.9 568.8,260.8 570.1,261.9 571.9,262.2 585.6,255 587.5,253.4 588,251.4 587.5,250 583.9,245 581.3,244 567.9,251.3 567,252.4Z" fill="#e86030" fill-rule="evenodd"/>
<path d="M516.7,210 519.4,219.8 520.7,221.4 538.9,225.3 540.7,224.9 541.9,223.7 543.3,213.6 543.7,204.4 535.1,191.5 533.4,190 532,189.6 530.3,190.1 520.3,198.7 516.8,208.3Z" fill="#e8a840" fill-rule="evenodd"/>
<path d="M732.2,270.5 732.8,273.3 734.6,274.7 744.9,276.3 748.7,275.8 754.4,270.2 755.2,268.7 754.3,256.4 753.5,254.5 751.3,253.2 737.2,252.5 735.2,253.1 733.7,255.6Z" fill="#e8b0f0" fill-rule="evenodd"/>
<path d="M550.5,234.7 557.1,246.7 563.8,249.8 566.3,249.2 578.3,242.7 580.7,241 581.5,239.4 581.3,229.9 579.9,226.7 578,225.8 564.6,222.7 562.1,222.4 560.7,222.8 551.7,229.6 550,232Z" fill="#e8b0f0" fill-rule="evenodd"/>
<path d="M446.2,205.7 444.6,206.2 443.4,207.6 443.3,212.4 445,214.6 448.2,214.7 450.3,213.1 451.6,208.3 450.9,206.9 449.7,205.9Z" fill="#e8b880" fill-rule="evenodd"/>
<path d="M704.6,89.9 697.7,92 696.7,94.2 696.8,103 698,104.6 699.6,105.2 701.1,104.9 707.6,101.2 708.8,98.8 708.2,93.9 706.8,90.7Z" fill="#e8c830" fill-rule="evenodd"/>
<path d="M759.6,247.6 759.4,249.6 760.4,251.1 773.8,260.1 775.6,260.2 780.3,258.7 783.1,257.3 784.2,255.9 784.3,253.1 781.7,238.9 780.8,237 779.3,235.9 767.1,234.2 764.5,234.7 762.8,237.2Z" fill="#f01840" fill-rule="evenodd"/>
<path d="M658,241.4 657.6,243.7 659,245.6 669.6,250.1 671.6,250.1 675.8,246.9 679.9,242.5 680.2,234.4 678.3,232.3 670.5,230.3 667.8,230.1 666.1,231.3Z" fill="#f07010" fill-rule="evenodd"/>
<path d="M446.3,235.3 452.6,233.7 454.8,232.6 455.6,231.4 457.2,225.5 457.4,223.5 456.6,221.9 450.2,217.3 447.6,217.2 445,218 443.3,220.2 443.3,232.8 444.3,234.6Z" fill="#f070b0" fill-rule="evenodd"/>
<path d="M674.6,254.3 676.5,255.9 679,255.5 680.8,252.9 680.5,250.6 678.3,249.1 675.7,249.8 674.1,251.9Z" fill="#f070f0" fill-rule="evenodd"/>
<path d="M747.8,119.3 759.3,127.9 765.4,130.2 770.3,128.2 780.1,122.5 781.2,121 781.3,118.7 780.8,116.8 780.3,98.9 779.7,97.5 778.3,96.4 761.6,90.8 756.6,90.2 753.9,91.5 748.5,95.8 747.3,97.8 747.2,117.9Z" fill="#f08010" fill-rule="evenodd"/>
<path d="M792.7,261.6 797.8,284.6 798.8,287.1 801.8,289.3 804.4,290.2 812.8,287.9 823.1,273 823.7,271.1 823.1,269 813.9,255.8 811.8,253.8 808.2,252.4 806.8,252.4 794.1,258.6 793,259.9Z" fill="#f08030" fill-rule="evenodd"/>
<path d="M681.4,14.1 682.4,21.7 683.3,22.9 685,23.5 694.4,20 695.5,18.9 695.9,17.5 694.5,13.5 692.3,12.2 683.1,12.4Z" fill="#f080c0" fill-rule="evenodd"/>
<path d="M509.1,181.1 516.6,193.2 518.9,195.1 521.6,194.5 527.5,189.2 528.3,187.6 528,185.6 526.5,183.8 518.6,177.5 516.2,176.1 514.1,176.3 509.9,178.9Z" fill="#f0a020" fill-rule="evenodd"/>
<path d="M444.8,121.5 446.6,122.1 449.1,121.8 459.6,119.4 461.2,117 461.8,112.8 461.2,111.2 458.8,108.8 457.2,108.2 444.7,111.1 443.3,113.2 443.2,118.8 443.7,120.4Z" fill="#f0a030" fill-rule="evenodd"/>
<path d="M473.6,92.6 472.3,94 472,95.8 472.8,97.4 474.6,98.3 481.4,96.6 482.5,95.6 483.1,94.3 482.4,91.1 480.2,89.7 478.5,89.9Z" fill="#f0a040" fill-rule="evenodd"/>
<path d="M536.1,188.7 544.9,201.1 546.5,201.9 549.6,201.8 553.2,201.1 554.7,199.8 558.1,186.3 554.8,179.3 551.5,178.3 547,177.8 545.4,178.4 536.8,185.6 535.9,187.2Z" fill="#f0a060" fill-rule="evenodd"/>
<path d="M644.5,250.4 642.8,257 644.8,261.3 651.4,273.5 653.5,275.5 655.4,275.8 673.1,272.2 675,271.4 676,270.3 676.3,263.7 675.6,260.4 671.9,254.8 669.9,252.9 653.4,246.3 645.7,248.7Z" fill="#f0b050" fill-rule="evenodd"/>
<path d="M519.4,163.7 517.8,172.9 518.7,174.5 530.6,184.3 532.2,184.9 535.3,183.9 543.3,177 544.3,175.2 539.5,156.9 538.3,155.6 535.5,154.8 529.7,154.5 522.5,160.3Z" fill="#f0b0e0" fill-rule="evenodd"/>
<path d="M780.4,294.2 778.9,302.3 780.2,304.2 793.7,310.2 797.2,310.7 799.2,308.7 801.8,295.9 801.7,292.9 800,290.9 796.8,289.6 782.9,292.3Z" fill="#f0c040" fill-rule="evenodd"/>
<path d="M543.2,117.5 556.3,104.4 554.4,92.2 553.7,92.6Z" fill="#f0c080" fill-rule="evenodd"/>
<path d="M497,192.4 496.5,193.9 496.8,195.3 501.1,201.6 512.4,205.9 514.1,205.7 515.5,204.5 516.7,200.5 516.8,198.1 507.3,184.3 505.7,183.8 503.8,184.5Z" fill="#f0c0e0" fill-rule="evenodd"/>
<path d="M446.2,192.3 449.1,190.9 451.2,187.3 452.2,184.1 448.7,177.4 447.6,176.4 445.9,176.2 444.3,176.9 443.3,178.6 443.2,189.5 443.7,190.9 444.8,191.9Z" fill="#f0c0e0" fill-rule="evenodd"/>
<path d="M788.7,328.4 789.5,330.8 795,335.1 797,335.9 799,335.5 800.7,333.3 804.7,321.3 804.8,319.6 804.3,318.3 800.2,314.8 798.7,314.6 797.3,315.1 789.2,323.2 788.7,324.6Z" fill="#f0c880" fill-rule="evenodd"/>
<path d="M727.1,40.3 729.7,48.1 730.7,49.3 732,49.8 734.4,49.8 745.9,47.1 747.4,46.2 748.2,44.5 748.2,37.5 747.5,36.1 745.9,35.3 728.8,35.3 726.7,37.3Z" fill="#f0d020" fill-rule="evenodd"/>
<path d="M602,115.3 606.3,120.5 608.9,121 611,119.1 612.1,116.3 612.1,114.8 610.4,112.8 606,111.3 604,111.2 602.5,112.1 601.8,113.8Z" fill="#f0d080" fill-rule="evenodd"/>
<path d="M449.4,196.2 447.1,194.7 445.4,194.8 443.9,195.8 443.2,197.5 443.2,200.5 444.3,202.6 445.7,203.2 448.4,203.3 450.4,202.1 451.1,199.8Z" fill="#f0d0c0" fill-rule="evenodd"/>
<path d="M777.1,59.8 784.3,76.3 787.6,82.2 790.6,82.7 799.4,80.1 801.2,78.9 802.3,75.6 802.8,62.7 802.3,61.1 800.6,59.5 788.3,52.3 785.5,51.6 784.1,52.2 777.6,57.8Z" fill="#f0d8b0" fill-rule="evenodd"/>
<path d="M751.4,35.1 750.7,45 752.1,47.3 753.8,47.8 763.1,47.7 764.6,47 765.6,45.3 766.7,35.7 765.9,34.1 764.3,33.3 753.7,33.3 752.3,33.9Z" fill="#f0d8e8" fill-rule="evenodd"/>
<path d="M446.2,12.2 444.1,13.1 443.2,15.2 443.2,81.2 443.6,82.7 444.6,83.8 447.3,84.3 450.5,83.3 451.7,81.4 460.8,27.1 460.8,21.7 460.2,15.5 458.6,12.8 456.9,12.2Z" fill="#f0dcd0" fill-rule="evenodd"/>
<path d="M443.2,123.5 443.2,143.8 444.4,143.8 444.8,143.4 444.8,124.2Z" fill="#f0e080" fill-rule="evenodd"/>
<path d="M768.9,39.5 767.8,48.4 769,50.6 772.4,55.2 774.4,56.2 776.4,55.7 782.3,50.9 783.8,49.3 784.3,47.9 784.2,44.9 783.3,43.2 772.2,37.7 770.1,38.1Z" fill="#f0e0d0" fill-rule="evenodd"/>
<path d="M596.7,285 600.6,294.2 602.9,295.5 604.3,295.2 611.2,291.5 612.7,289.1 612.5,287.6 610.9,285.3 606.7,280 604.8,279.1 600.5,280 597.4,282.9Z" fill="#f0e0e0" fill-rule="evenodd"/>
<path d="M595,58.8 594.8,64.8 595.4,66.2 596.6,67.1 618.1,67.2 619.6,66.2 620.3,64.5 620.2,52.1 619,50.5 610.3,45.3 606.4,43.1 604.5,43 599.9,46.5Z" fill="#f8c890" fill-rule="evenodd"/></g></g>
<g clip-path="url(#clipc)"><g filter="url(#soft)"><rect x="857" y="11" width="394" height="390.8" fill="#000"/>
<path d="M901.8,357.2 890.2,360.2 889.8,368.8 889.2,369.2 900.8,369.2 901.2,368.2Z" fill="#000"/>
<path d="M988.8,325.2 978.8,329.2 978.8,330.8 981.8,338.2 989.2,329.8Z" fill="#000"/>
<path d="M1054.8,316.8 1049.8,328.2 1050.2,329.2 1052.8,330.2 1064.2,325.2 1063.8,317.8Z" fill="#000"/>
<path d="M886.8,316.2 881.8,324.2 881.2,326.2 895.2,327.2 887.8,316.8Z" fill="#000"/>
<path d="M1104.8,311.2 1104.2,311.8 1096.2,312.2 1093.8,318.8 1094.8,320.2 1101.8,325.2 1102.8,325.2 1103.2,324.2 1108.2,311.8 1108.2,311.2Z" fill="#000"/>
<path d="M857.2,298.2 857.2,298.8 857.2,304.2 861.2,302.2Z" fill="#000"/>
<path d="M1037.8,293.2 1025.2,298.2 1025.2,298.8 1033.8,306.2 1035.2,306.2 1046.2,300.2 1045.2,298.8Z" fill="#000"/>
<path d="M1056.2,288.8 1049.2,298.8 1067.8,309.2 1069.2,309.2 1072.2,307.8 1076.2,301.2Z" fill="#000"/>
<path d="M888.8,278.2 878.2,282.2 877.2,296.2 876.8,296.8 876.8,299.2 886.2,304.8 888.2,304.2 895.2,298.8 896.8,293.8 896.2,290.8Z" fill="#000"/>
<path d="M939.8,272.8 933.8,282.8 942.2,288.2 944.8,289.2 947.2,285.8 946.2,284.8 940.2,272.8Z" fill="#000"/>
<path d="M1141.2,250.2 1128.2,256.2 1133.8,263.2 1142.2,264.8 1148.2,256.2 1142.8,250.2Z" fill="#000"/>
<path d="M1046.8,184.8 1041.8,203.8 1052.8,206.2 1061.8,197.2 1062.2,195.8 1047.8,184.8Z" fill="#000"/>
<path d="M1004.2,170.8 1001.8,176.8 1008.8,186.2 1017.2,175.8 1017.8,174.2Z" fill="#000"/>
<path d="M960.2,162.2 955.8,168.2 955.2,170.8 956.2,172.8 960.2,188.2 960.8,189.2 964.2,189.2 972.2,177.2 972.2,176.2 966.2,164.2Z" fill="#000"/>
<path d="M878.2,144.2 885.2,161.2 899.2,149.8 898.2,147.2Z" fill="#000"/>
<path d="M987.2,134.2 979.2,141.2 981.2,147.2 988.2,146.8 988.8,146.2 988.8,134.2Z" fill="#000"/>
<path d="M950.2,119.8 948.8,121.8 953.2,130.8 964.8,129.2 967.8,122.8 967.8,122.2 964.8,122.2 964.2,121.8 961.2,121.8 960.8,121.2 957.8,121.2Z" fill="#000"/>
<path d="M1235.2,96.2 1221.2,106.2 1217.8,106.8 1216.8,117.8 1226.8,110.8 1228.8,110.8 1231.2,109.8 1235.8,109.2 1238.2,108.2 1250.8,105.8 1250.8,100.2Z" fill="#000"/>
<path d="M1145.8,88.8 1141.2,93.2 1141.2,100.8 1152.8,106.8 1157.8,105.2 1158.8,103.2 1158.8,100.8 1160.8,91.2Z" fill="#000"/>
<path d="M1197.2,57.8 1190.8,67.8 1199.8,80.2 1201.2,81.2 1202.2,80.8 1209.8,65.8Z" fill="#000"/>
<path d="M1138.2,11.2 1139.8,29.8 1147.2,31.2 1153.2,11.2Z" fill="#000"/>
<path d="M1079.8,11.2 1090.2,29.8 1091.8,29.2 1104.8,19.8 1105.8,11.2Z" fill="#000"/>
<path d="M1107.6,328.7 1105.1,329.5 1104.2,331.7 1104.3,347.7 1105.3,349.5 1107.3,350.1 1108.7,349.8 1109.9,348.7 1115.9,341.2 1117.8,337.7 1117.2,333.4 1115.9,330 1114.3,329.3Z" fill="#108020" fill-rule="evenodd"/>
<path d="M1194.4,260.1 1199.6,269.7 1200.8,270.8 1202.4,271.3 1210.6,271.1 1221.3,264 1222.2,262.7 1222.8,258.8 1217.8,244.1 1214.7,242.7 1212.3,243.1 1196,257.3 1194.8,258.7Z" fill="#108020" fill-rule="evenodd"/>
<path d="M1125.1,225.8 1128.7,232.5 1130.1,233.2 1133.1,233.3 1137.9,232.8 1140.3,231.7 1141.2,230.1 1142.1,225 1141.7,223.6 1140.5,222.4 1130,218 1128.1,218.7 1126.4,221 1125,223.9Z" fill="#108020" fill-rule="evenodd"/>
<path d="M1174.8,221.4 1178.5,236.5 1183,240.7 1206.6,236.7 1208.3,235.8 1209.2,234.5 1210.3,223.3 1209.9,217.5 1208.8,216.4 1196.1,208.9 1192.9,208.7 1183.4,209.7 1179.4,210.8 1178.3,212.2 1175.3,219.2Z" fill="#108020" fill-rule="evenodd"/>
<path d="M966.3,103.5 968.7,104.1 970.9,102.8 971.5,100.5 970.3,98.4 967.2,97.7 965.2,98.9 964.7,101.5Z" fill="#108020" fill-rule="evenodd"/>
<path d="M975.2,60.1 973.9,62.5 974.2,63.9 975.1,65.1 984.4,71.1 986.4,71.1 987.8,70.1 990.2,63.8 990.6,61.2 989.7,59.6 985.4,55.7 984,55.1 982.1,55.3Z" fill="#108020" fill-rule="evenodd"/>
<path d="M1180.2,50.9 1183.8,63.2 1187.9,65.2 1190.5,64.7 1195.7,56.9 1195.8,49.2 1195.2,47.4 1191,43.9 1189.1,43 1187.6,43 1180.9,47.7 1180.2,49Z" fill="#108020" fill-rule="evenodd"/>
<path d="M1009.1,394.7 1007,395.7 1006.2,397.7 1006.9,399.7 1008.6,400.7 1021.5,400.7 1023,400 1023.8,398.5 1023.1,394.5 1021.1,392.8Z" fill="#109020" fill-rule="evenodd"/>
<path d="M1105.6,322.1 1106.1,324.8 1108.4,326.2 1115.7,326.8 1117.8,325.8 1120.3,322.2 1120.7,320.4 1118.5,314.4 1116.5,310.8 1114,310.1 1109.7,312.1Z" fill="#109020" fill-rule="evenodd"/>
<path d="M1136.5,296.2 1138.4,297.5 1144.3,303 1145.3,292.7Z" fill="#109020" fill-rule="evenodd"/>
<path d="M997.5,273.9 996.6,276.1 997.8,278.4 1003.7,281.6 1005.5,281.5 1006.9,280.4 1007.8,278.4 1009.4,267.4 1012.9,264.2 1013.7,262.7 1013.2,256.2 1012.2,254.4 1010.8,253.8 1008.6,253.7 1002.4,254.8 1000.1,256.2 999.6,258.8 1003.1,265.9 1003.2,266.9 1002.5,268.4Z" fill="#109020" fill-rule="evenodd"/>
<path d="M973.8,249.5 980.7,254.7 982.4,255.3 984.8,254.4 986.3,252.7 986.9,251.1 986.2,248.7 984.7,246.7 976.7,245.1 974.7,245.7 973.6,247.4Z" fill="#109020" fill-rule="evenodd"/>
<path d="M1146.9,243 1144.6,248.2 1144.8,250.1 1148.4,253.7 1150,253.9 1154.3,252.7 1156.1,250.9 1156.2,244.3 1155.6,243 1153.8,241.4 1149.6,241.2 1148.2,241.6Z" fill="#109020" fill-rule="evenodd"/>
<path d="M1165.8,184.9 1157.2,191.8 1156.9,193.6 1157.6,195.2 1159,196.1 1169.8,200.3 1171.5,200.1 1173,198.7 1173.3,196.2 1172.8,189.1 1172,186.7 1170.8,185.3 1169.1,184.7Z" fill="#109020" fill-rule="evenodd"/>
<path d="M1065.5,165.3 1064.6,167.1 1064.9,168.8 1072,179.5 1073.1,180.4 1075.2,180.6 1080.8,178.7 1085.6,176.8 1087.1,175.3 1087.2,173 1083.7,160.4 1082.6,157.6 1081.2,156.2 1079.2,155.9 1077,156.9Z" fill="#109020" fill-rule="evenodd"/>
<path d="M992.8,146.5 1002.3,148.6 1003.6,148 1006,145 1006.4,142.4 1004.3,140.3 994.5,137.3 992.3,137.2 990.3,139.3 990.2,143.7 991,145.5Z" fill="#109020" fill-rule="evenodd"/>
<path d="M1144.3,127.8 1141.2,142.3 1141.9,144.1 1144.6,146.6 1147,147 1166,137.6 1167.2,136.3 1167.4,134.2 1165,129.9 1163.6,128.9 1148.9,125.7 1146.5,125.8 1145.1,126.5Z" fill="#109020" fill-rule="evenodd"/>
<path d="M914.1,86.7 914.7,89.3 920.3,94.9 921.6,95.5 924.2,94.9 928.1,91.6 928.9,90.2 928.7,88 925.2,77.2 924.3,76 923,75.3 920.9,75.3 917.8,76.9Z" fill="#109020" fill-rule="evenodd"/>
<path d="M1057.2,52.9 1057.6,54.8 1059.2,56.2 1076.1,60.3 1081.1,60.9 1082.6,60 1083.7,57.8 1086.7,48 1086.7,46 1085.5,43.8 1083.4,42.7 1061.3,41.4 1059.8,42.3 1058.9,44.2Z" fill="#109020" fill-rule="evenodd"/>
<path d="M1222.3,64.9 1221.7,76.6 1222.2,78.3 1235.7,94.2 1245.1,97.3 1247.5,97.3 1249.1,96.4 1249.8,94.4 1249.8,51.7 1248.7,49.4 1247.2,48.7 1245.7,48.8 1225.3,59.1 1223.7,61.3Z" fill="#10b0a0" fill-rule="evenodd"/>
<path d="M930.1,224.1 932.3,236.6 933.5,239.3 947.7,248.2 950.3,249.3 964.8,244.8 967.2,241.3 969.3,233.9 969.3,231.6 967.3,224.2 958.5,214.3 955.5,212.8 939.5,214.1 930.7,222.5Z" fill="#1840c0" fill-rule="evenodd"/>
<path d="M919.5,340.3 919.2,342.4 921.9,356.7 927,362.1 932.3,363.8 934.1,363.5 944.2,356.4 947.4,353.5 947.8,352 947.2,349.7 940.7,333.7 938.9,331.6 937.1,331.3 925.7,333.5Z" fill="#201890" fill-rule="evenodd"/>
<path d="M1216.2,270.6 1214.5,272.8 1215.1,275.3 1222.1,282.1 1224,282.6 1225.7,282 1226.7,280.2 1227.2,275.3 1223.6,268.8 1222.1,267.8 1220.6,267.8Z" fill="#2030a0" fill-rule="evenodd"/>
<path d="M910.4,240.4 905.7,248.2 906.3,250.3 908.4,254.3 910.4,255.5 921.1,252.5 922.4,251.3 923.6,248.7 923.3,246.9 921.8,245.1 913.2,239.4 911.7,239.6Z" fill="#2030e0" fill-rule="evenodd"/>
<path d="M970.7,238.4 971,240.1 972.2,241.4 978,242.7 982.6,243.2 983.9,242.4 984.7,240.8 984.6,236.1 983.7,234.9 982.3,234.3 973,234.4 971.5,235.7Z" fill="#2040c0" fill-rule="evenodd"/>
<path d="M942.5,147.2 941.3,148.2 940.7,150 940.9,152.5 942.2,154 953.8,157.4 955.5,157.2 956.8,156 957.3,153.2 956.6,149.2 952,144.9 949.5,144.5Z" fill="#2040e0" fill-rule="evenodd"/>
<path d="M988.2,92.4 988.8,94.6 990.9,95.8 1004.1,95.3 1007.4,94.2 1008.4,92.8 1008.6,91.3 1004.8,80 1003.1,78.8 1000.7,78.7 992.5,79.8 991.2,80.3 989.8,82.9Z" fill="#2040f0" fill-rule="evenodd"/>
<path d="M1203.7,145.5 1204.8,159.8 1206.2,161.9 1212.1,163.3 1214.9,163.2 1219.6,159 1220.1,157.4 1219.8,155.8 1212.6,145 1210.8,143.1 1206.5,142.7 1204.6,143.6Z" fill="#205020" fill-rule="evenodd"/>
<path d="M1078.8,216.7 1076.8,217.4 1075.8,219.2 1075.9,230.9 1077,232.3 1079.4,233.2 1084.2,234 1085.6,233.7 1086.9,232.7 1094.1,222.5 1095.1,220.2 1094.9,218.5 1094,217.4 1092.4,216.7Z" fill="#205040" fill-rule="evenodd"/>
<path d="M983.1,341.9 992.1,354.7 993.9,355.9 996,355.7 1006.8,352.1 1008.4,350.7 1009.8,348.2 1009.6,346.2 1008.2,344.6 990.7,332.7 988.1,333.3 983.4,338.4 982.7,340.2Z" fill="#2050a0" fill-rule="evenodd"/>
<path d="M977.1,349.1 976.6,351.6 978.3,353.9 985.5,359 987.2,359.1 988.9,358 989.5,356.4 989.2,354.7 983,346.4 981.6,345.8 979.9,346Z" fill="#206020" fill-rule="evenodd"/>
<path d="M923.6,323.9 925.5,328.8 927.5,330.2 936.9,328.6 938.3,327.6 938.9,326.2 938.7,324.7 937.9,323.5 929.9,318.8 924.7,320.6 923.7,322Z" fill="#209020" fill-rule="evenodd"/>
<path d="M899.5,293.2 898.1,294.4 897.7,296.2 898.1,297.9 899.4,299.1 912.6,303.3 914.7,302.9 915.9,301.7 916.3,295.1 915.6,291.1 914.2,289.6 911.9,289.3Z" fill="#209020" fill-rule="evenodd"/>
<path d="M1110.6,137.7 1112.1,142.4 1114.1,143.7 1133.1,142.8 1137.3,142 1138.5,141.1 1139.2,139.6 1141.8,127.9 1141.7,124.4 1140.7,123.1 1131,115.9 1129.3,115.4 1127.8,115.6 1124.1,119.3 1112.1,133.3 1110.6,135.6Z" fill="#209050" fill-rule="evenodd"/>
<path d="M1013.8,299.9 1011.8,304.2 1011.9,305.7 1015.5,309.7 1025,318.1 1027.4,318.6 1029.2,317.7 1032.4,308.5 1032.1,306.7 1031,305.3 1024.7,300.2 1021.9,299.2 1015.3,298.8Z" fill="#2090f0" fill-rule="evenodd"/>
<path d="M1200.5,128.2 1197.7,132.4 1197.9,134.3 1202.4,139.7 1203.9,140.3 1207.5,140.3 1209.8,138.9 1210.3,137.5 1210.3,129.8 1209,127.6 1207.4,127.1 1201.8,127.3Z" fill="#20a020" fill-rule="evenodd"/>
<path d="M1062.9,198 1055,206.4 1054.9,207.8 1055.5,209.2 1057,210.2 1069.6,212.8 1071.6,212.2 1072.7,210.7 1072.8,208.9 1072.2,207.2 1067.5,198.8 1065.8,197.4 1064.3,197.3Z" fill="#20a030" fill-rule="evenodd"/>
<path d="M1232.1,186.2 1233.5,192 1235,193.6 1246.3,197.8 1248.1,197.5 1249.4,196.3 1249.8,194.8 1249.4,187 1241.5,179.9 1239.8,179.3 1238.3,179.4 1233.5,182.4 1232.1,184.1Z" fill="#20a030" fill-rule="evenodd"/>
<path d="M1237.6,163.9 1239.9,170.7 1241.4,172.2 1244.3,172.2 1248.3,170.4 1249.6,168.9 1249.7,160.7 1249.1,159.3 1247.9,158.4 1246.1,158.2 1239.3,160.3 1237.8,161.7Z" fill="#20a030" fill-rule="evenodd"/>
<path d="M1019.7,107 1021.2,116.8 1027.3,113.8 1027.8,111.1Z" fill="#20a030" fill-rule="evenodd"/>
<path d="M1037.6,97.7 1039.5,101.9 1041.1,102.6 1042.6,102.5 1051.7,97.9 1055.1,94.4 1055.5,91.9 1052.4,88.5 1048.4,87.2 1045.8,87.1 1044.4,87.9 1038.1,94.8 1037.4,96.2Z" fill="#20a030" fill-rule="evenodd"/>
<path d="M1088.5,43.7 1089.9,45.4 1092.4,46.2 1109.9,48.8 1112.4,47.2 1115.6,43 1116.4,40.1 1106.1,24.2 1104.9,23.2 1103.4,23 1099,25.4 1091.6,31.2 1088,41Z" fill="#20a070" fill-rule="evenodd"/>
<path d="M1064.1,245.3 1072,265.1 1073.2,266.4 1082.1,268.3 1085.7,268.4 1088.2,266.9 1093.4,261.5 1093.8,260 1093.2,257.7 1086,238.9 1084.6,237.1 1077.4,235.2 1074.1,235.2 1064.5,241.7 1063.7,243.3Z" fill="#2830a0" fill-rule="evenodd"/>
<path d="M1113.1,51.8 1116.3,68.6 1118.1,71.7 1119.5,72.9 1122.5,72.7 1135.6,68 1138.2,66 1139.2,64.3 1140.8,57.6 1140.5,55 1127.5,42.1 1121.9,41.7 1118.9,42.8 1113.5,49.4Z" fill="#2830a0" fill-rule="evenodd"/>
<path d="M1010.7,222 1017.3,245.8 1019,247.6 1028.1,249.8 1030.3,249.6 1043.7,239.9 1045.3,238.1 1045.3,233.9 1043.3,222.3 1031.3,210.4 1025.8,209.7 1017.2,210.1 1015.4,212 1011.2,219.3Z" fill="#2838d0" fill-rule="evenodd"/>
<path d="M946.2,289.3 945.2,299.8 945.7,301.7 953,312.5 954.9,313.7 957.7,313.7 960,312.6 974.7,301.9 976.2,299.7 975.7,290.9 974.7,289.4 973.3,288.8 948.8,287.3Z" fill="#3030b0" fill-rule="evenodd"/>
<path d="M1207.2,188.1 1206.7,197.3 1207.2,198.8 1213.7,206.1 1215.6,206.8 1217.8,206.2 1226.6,201.7 1229.3,197.7 1231,193.3 1229,185.4 1227.6,184 1222.3,182.2 1209.2,185.3 1208.1,186.2Z" fill="#304040" fill-rule="evenodd"/>
<path d="M1152.6,199.7 1152.4,201.7 1154.2,206.2 1153.2,215.7 1153.3,218 1154.2,219.3 1156.3,220.8 1157.9,221.1 1168.9,220.3 1172.5,218.8 1176.3,210 1175.9,208.5 1173.6,204.9 1156.2,197.9 1154.1,198.1Z" fill="#3040f0" fill-rule="evenodd"/>
<path d="M1018.2,102.5 1019.5,104.1 1029,108.5 1030.7,107.9 1034.7,104.9 1035.9,103.5 1036.3,102 1035.2,99.2 1033.8,98 1027.2,97.7 1019.6,98.5 1018.1,100.3Z" fill="#304830" fill-rule="evenodd"/>
<path d="M1243.3,238 1245.5,240.1 1249.8,245.5 1249.8,233.2Z" fill="#3050d0" fill-rule="evenodd"/>
<path d="M954.4,132.8 952.7,141.4 953.3,142.8 956.3,145.4 958.2,145.9 961.1,144.5 965,141.2 966.4,139.5 966.8,138 965.7,134.2 964.3,131.9 962.7,131.1 959.4,131.2 955.9,131.8Z" fill="#3050e0" fill-rule="evenodd"/>
<path d="M1150.6,151.8 1158.9,163 1160.8,163.7 1162.6,163.3 1163.9,162.1 1164.8,159.9 1166.3,148.6 1166.2,143.8 1164.7,142.4 1162.7,142.2 1152.2,147.3 1150.3,149.2Z" fill="#3050f0" fill-rule="evenodd"/>
<path d="M1129.3,237.9 1128.9,250.7 1130.4,252.3 1132.5,252.5 1141.5,248.3 1144.7,241.8 1144.9,239.3 1142.2,236 1140.7,235.1 1131.4,235.8 1130.1,236.6Z" fill="#306050" fill-rule="evenodd"/>
<path d="M1026.8,333.7 1015.8,344.2 1015.5,345.6 1016,347.1 1017,348.1 1027.5,351.7 1029.9,351.4 1031.3,349.1 1030.9,335 1029.1,333.5Z" fill="#3060b0" fill-rule="evenodd"/>
<path d="M1035.7,355.7 1033.4,356.3 1032.3,358.1 1032.2,367 1033.3,369.1 1035.2,369.8 1043.1,369.3 1047.7,368.7 1049.3,367.8 1050.8,363.5 1050.5,362.1 1049.3,360.5Z" fill="#307060" fill-rule="evenodd"/>
<path d="M1119.2,330 1119.9,334.4 1121.5,336.8 1123.1,337.3 1131.3,337.2 1132.9,336.4 1133.7,335.1 1134.7,327.4 1134,325.9 1132.6,325 1124,322.8 1122.2,323.8 1119.9,327Z" fill="#308050" fill-rule="evenodd"/>
<path d="M1189.2,297 1189.9,300 1197.9,314 1200,316 1201.6,316.3 1217.9,314.8 1219.7,313.9 1222.1,311.4 1222.2,309 1218.7,298.2 1216.8,295.8 1193.9,291.6 1192.5,292 1190,293.9 1189.3,295.1Z" fill="#30a030" fill-rule="evenodd"/>
<path d="M1196.1,285.7 1196.2,288.1 1197.8,289.6 1215.2,292.8 1217,292.7 1218.5,291.8 1221.3,286 1220.4,283.7 1211,274.4 1209.1,273.7 1202.6,273.7 1201,274.4Z" fill="#30a050" fill-rule="evenodd"/>
<path d="M888.7,253.9 891.8,265.6 893.3,268.3 894.7,268.9 896.2,268.7 902.3,266.2 904.1,264.9 906.8,257.6 902.9,249.8 901,249.2 890.6,249.3 888.7,251Z" fill="#30a0f0" fill-rule="evenodd"/>
<path d="M937,368.1 942.6,375.5 948.4,376.3 954.3,376.1 958.7,371.5 958.6,359.5 957.5,358.1 955.1,357 951.4,355.5 949.6,355.6 937.5,364.2 936.5,366.1Z" fill="#30b030" fill-rule="evenodd"/>
<path d="M1220.6,44.9 1224,53.7 1225,54.7 1226.4,55.2 1228.3,54.7 1237,50.3 1238.1,49.2 1238.5,47.8 1238.1,46.1 1236.8,44.9 1224.6,41.7 1222.5,42 1221.2,43.3Z" fill="#30d0a0" fill-rule="evenodd"/>
<path d="M871.6,342.6 871.8,344.8 873.8,346.9 888.5,357.6 890.4,358.4 892.1,358.3 898.9,356.6 901.2,355.2 905.2,341.1 905.6,338.3 903.3,333.5 895.4,328.9 880.7,327.7 874.7,330.9 873.6,332Z" fill="#30e0e0" fill-rule="evenodd"/>
<path d="M1022,40.7 1026.9,55 1028.7,56.7 1042.3,61.4 1051.8,57.7 1053.6,56 1055.2,50 1056.9,39.8 1054.7,36.6 1048.3,32.8 1037.1,27.8 1030.5,28.3 1022.2,36.2 1021.7,37.9Z" fill="#383830" fill-rule="evenodd"/>
<path d="M860.8,242 859.9,243.8 860.2,245.5 861.3,246.8 863,247.3 877.2,245.2 878.7,244.2 879.4,242.4 877.7,236.2 876.4,235 875,234.7 866.6,235Z" fill="#402890" fill-rule="evenodd"/>
<path d="M896.6,215.1 896.4,217.1 897.6,218.8 901.6,220.6 903.9,220.2 913.1,209.4 913.5,207.7 912.8,204.6 911.7,203.6 910.2,203.2 901.8,204.8 900.3,206.7Z" fill="#403820" fill-rule="evenodd"/>
<path d="M1088.5,50.9 1085.7,60.4 1086.2,62 1087.3,63 1089.9,63.7 1109.6,67.4 1111.6,66.8 1112.7,65.1 1112.7,63 1110.5,52.9 1109.3,51.6 1106.6,50.8 1093.1,48.7 1090.4,48.9Z" fill="#405040" fill-rule="evenodd"/>
<path d="M1161.2,382.4 1162.2,397.9 1163.7,400.2 1165.5,400.8 1183.5,400.8 1186,399.6 1187.3,394.9 1195.7,339.3 1195.5,337.6 1194.2,335.9 1192.2,335.4 1178.1,337.2 1174.6,337.9 1173.3,339Z" fill="#4070b0" fill-rule="evenodd"/>
<path d="M1027.3,354.3 1014.7,350.3 1012.7,350.9 1011.5,352.8 1012,355 1024.8,368 1026.5,368.6 1028.4,368.1 1029.8,365.9 1029.8,357.5 1029.3,355.8Z" fill="#4070c0" fill-rule="evenodd"/>
<path d="M1169.7,139.6 1167.2,163 1168.3,164.4 1180.6,173.1 1186.6,173.3 1192.8,172.3 1201.4,163.7 1202.2,162.2 1201.3,144.4 1200.3,141.3 1195.7,135.5 1193.7,134.3 1181.4,133.2 1171.6,136.5 1170.5,137.6Z" fill="#4070e0" fill-rule="evenodd"/>
<path d="M1080.8,328.5 1080.1,330.1 1080.2,331.6 1090,350.8 1092.9,352.2 1097.6,353.3 1100.7,352.6 1101.8,350.2 1101.8,328.4 1101.1,326.5 1095,321.9 1092,321 1086.2,322.5Z" fill="#40a070" fill-rule="evenodd"/>
<path d="M1065.5,322.2 1066.3,324.1 1067.4,325 1076.7,327.9 1078.4,327.3 1082.2,323.5 1083.1,321 1082.4,319.3 1073.9,310.8 1071.6,309.9 1070,310.4 1068.6,311.8 1065.5,317Z" fill="#40a080" fill-rule="evenodd"/>
<path d="M921.9,12.2 920.5,12.6 919.2,13.8 918.9,15.3 919.2,16.7 929.2,27.4 931.3,28.3 969.8,23.1 972,21.3 973.1,15.4 972.4,13.3 970.3,12.2Z" fill="#40a080" fill-rule="evenodd"/>
<path d="M1060.1,396.2 1059.7,397.9 1060.1,399.4 1061.2,400.4 1062.7,400.8 1117.4,400.8 1119.5,399.7 1120.1,397.8 1119.5,395.8 1117.3,394.3 1083.8,380.2 1067,384.7 1065.4,386.5Z" fill="#40b0d0" fill-rule="evenodd"/>
<path d="M880.5,204.9 880.2,207.5 884.4,215 886.2,217.4 888.2,218 891.6,217.7 893.3,216.5 898.3,204.2 897.6,202.4 891.2,196 889,195.1 886.6,196.3Z" fill="#40b0f0" fill-rule="evenodd"/>
<path d="M1184.4,245.3 1185.3,253.4 1186.2,255 1190.4,257.3 1192.6,257.2 1206.7,244.9 1207.6,243.3 1207.4,241.6 1205.8,239.9 1203.4,239.7 1186.3,242.9 1185.1,243.9Z" fill="#40c090" fill-rule="evenodd"/>
<path d="M924.3,253 937.6,263.3 939,264.2 939.3,263.9 941,259.7 926.8,248.1Z" fill="#40d0a0" fill-rule="evenodd"/>
<path d="M858.2,336.9 864,344.5 865.6,344.9 867.7,344.2 869.1,341.9 869.8,338.9 870.3,334.1 869.7,332.4 868.2,331.3 864.1,330.7 861.1,330.6 859.4,331.2 858.3,333Z" fill="#40e040" fill-rule="evenodd"/>
<path d="M927,68.3 926.9,70.9 928.9,72.7 950.7,74.8 952.1,74.2 953.1,73 956.2,66.8 956.6,64.2 955.7,62.6 937.4,44.2 934.7,43.4 933.2,44.2 932.4,45.4Z" fill="#484030" fill-rule="evenodd"/>
<path d="M928.5,78.7 931.4,88 932.6,89.3 937.9,90.3 944.3,90.6 945.7,90.1 946.8,89.1 950.7,81.8 951.1,80.1 950.4,78.3 948.6,77.3 931.4,75.5 929.7,76.1 928.8,77.3Z" fill="#484068" fill-rule="evenodd"/>
<path d="M1140.2,72.7 1144.8,83.3 1147.1,87.1 1156.9,89.3 1158.5,89.1 1159.7,88.1 1161.3,82.3 1161.1,80.7 1160.1,79.3 1144.1,68.7 1142.3,68.7 1140.8,69.6 1140.1,71.2Z" fill="#5020f0" fill-rule="evenodd"/>
<path d="M1040.1,22.8 1039.9,25.1 1041.2,26.7 1053,32.3 1055.6,32.3 1056.9,31.1 1057.7,29 1060.3,16.1 1060.1,14.1 1058.9,12.7 1057.5,12.2 1045.5,12.5 1043.8,14.2Z" fill="#5020f0" fill-rule="evenodd"/>
<path d="M1080,105.8 1079.7,108.1 1080.7,119.9 1083.5,124.9 1085.7,126.2 1106.7,133.7 1108.7,133.3 1111.7,130.5 1123.9,116.2 1125.9,113 1125.7,111.1 1114.7,89.2 1113.6,87.8 1112.2,87.2 1087.9,92.6 1085.9,95Z" fill="#5030f0" fill-rule="evenodd"/>
<path d="M1058.8,275.5 1057.6,276.7 1057.2,278.2 1057.2,286.3 1058.2,288.3 1075.7,299.2 1077.8,299.2 1082.7,296.5 1088.8,282.4 1086.2,273.7 1085,271.8 1082.9,270.7 1071.7,269.2Z" fill="#5040c0" fill-rule="evenodd"/>
<path d="M1040.6,137.2 1040.4,138.7 1041.2,140.3 1047.6,144.3 1053.3,161.8 1054.1,163.5 1055.5,164.6 1058.4,165.3 1062,164.9 1075.2,155.4 1077.2,153.3 1077.5,151.5 1076.3,145.6 1074.5,141.3 1072.6,140.3 1057.3,136.1 1056.4,135.2 1053.8,129.6 1049.3,127.3 1047.3,127.1 1045.1,128.3Z" fill="#504870" fill-rule="evenodd"/>
<path d="M1029.3,374.9 1024.8,391.5 1026.8,397.8 1027.8,399.8 1029.3,400.7 1052.9,400.8 1054.5,400.1 1055.5,398.5 1053.7,378.4 1050.6,372.7 1049,371.3 1032.6,372.2 1031,372.9Z" fill="#506020" fill-rule="evenodd"/>
<path d="M1147.7,292.4 1146.8,305.1 1150.2,313 1152.2,314.2 1162.2,317.1 1163.7,316.4 1185.4,298.5 1186.3,297.2 1186.6,295.3 1185.8,293.7 1183.2,291.6 1165.5,278.9 1162.4,277.9 1156.4,279.9 1148.4,290.5Z" fill="#506830" fill-rule="evenodd"/>
<path d="M975.9,14.1 974.7,22.4 975.5,24.2 981.4,30 983.3,30.9 984.7,30.9 999,22.2 999.7,20.7 1000.2,14.7 999.2,12.9 997.5,12.2 978.2,12.3 976.8,12.9Z" fill="#506888" fill-rule="evenodd"/>
<path d="M1031.3,110.5 1030.4,111.8 1030.2,113.6 1032,116.2 1041.3,123.8 1043.3,124.1 1044.9,123.2 1045.8,120.7 1044.7,113.9 1040.8,106.4 1039.2,105.7 1037.5,105.9Z" fill="#5068b0" fill-rule="evenodd"/>
<path d="M1197.2,171.2 1196.3,173.3 1197.1,175.4 1202.5,180.1 1204.4,181 1205.9,181 1207.2,180.3 1208.2,178.8 1212.7,169.8 1212.9,167.8 1212,166.3 1210.4,165.4 1204.1,164.8Z" fill="#508020" fill-rule="evenodd"/>
<path d="M1043.9,65.7 1045.7,79.9 1046.7,83.4 1048.2,84.6 1053.3,86 1059.5,91.7 1062.4,92.3 1064.4,92.1 1078.7,84.7 1080.1,82.9 1081.8,66.5 1081,64.6 1078.9,63.4 1055.9,58.3 1044.7,63.8Z" fill="#509080" fill-rule="evenodd"/>
<path d="M1015.1,136.2 1014.7,138.5 1015.9,140.5 1022.5,143.3 1024.5,143.3 1036.8,138.7 1041.2,130.3 1041.4,127.7 1039,124.8 1029.9,117.2 1028.3,116.6 1026.9,116.7 1022.5,118.9 1021.1,120.2Z" fill="#509890" fill-rule="evenodd"/>
<path d="M879.7,124.1 877.9,140.9 879.7,142.6 894.4,145.3 898,145.3 899.9,143.7 908,133.5 908.8,130.6 908.7,126 906.1,123.5 895.3,117.3 892.2,115.9 890.5,116 882,120.4 880.6,121.7Z" fill="#50b030" fill-rule="evenodd"/>
<path d="M1243.2,209.6 1244.1,215.3 1245.4,216.5 1247.4,216.7 1249.1,215.7 1249.8,214 1249.8,209.1 1248.6,207 1246,206.4 1243.9,208Z" fill="#50c0e0" fill-rule="evenodd"/>
<path d="M959.1,375.1 956.4,377.5 955.7,379.1 955.7,397.8 956.4,399.7 958.8,400.8 978.8,400.8 980.7,400.1 982.2,396.6 984.3,385.1 984.2,383.4 982.9,380.3 981.1,379.3 962.9,374.7 960.6,374.5Z" fill="#50d0b0" fill-rule="evenodd"/>
<path d="M858.2,341.5 858.2,350.5 862.4,346.8Z" fill="#50d0b0" fill-rule="evenodd"/>
<path d="M1148.1,119.1 1148,121.5 1149.6,123.2 1161.4,125.7 1162.9,125.4 1164,124.5 1165.3,120.1 1165.1,117.8 1163.6,115 1159,108.2 1156.9,107.2 1154.5,107.9 1153.3,108.8Z" fill="#50d890" fill-rule="evenodd"/>
<path d="M890.1,189.3 889.9,190.8 890.6,192.2 900.3,201.6 903.6,201.8 910.3,200.7 911.7,200.1 912.6,198.9 913.3,191.9 912.8,190.6 911.5,189.4 893.3,186.4 891.1,187.2Z" fill="#50e030" fill-rule="evenodd"/>
<path d="M952.7,115.1 952.9,117.5 954.7,119.2 965.6,120.6 967.3,120.2 968.5,118.9 968.8,117.5 968.3,110.6 967.4,107.5 966.3,106.4 960.3,103.3 957.4,103.5 956.2,104.5 955.3,106.2Z" fill="#585080" fill-rule="evenodd"/>
<path d="M903.3,360.4 903,370.1 904.6,372.5 905.9,373.2 907.7,373.1 920.7,365.4 922.4,363.7 922.6,361.4 920.7,359.1 919.2,358.3 905.4,358.3 904.1,359.1Z" fill="#602890" fill-rule="evenodd"/>
<path d="M1196.1,332.2 1196.5,334.5 1198.8,336.2 1211,336.3 1212.8,335.7 1214.2,333.6 1216.3,323.4 1216.6,320.6 1216.1,319.1 1214.5,317.8 1210.7,317.7 1204.1,318.2 1200.5,319.2 1198.9,321.6Z" fill="#6030e0" fill-rule="evenodd"/>
<path d="M915.2,201 915.7,205.9 916.9,209 926.6,219.3 929.3,219.9 931.3,218.9 937.4,212.5 938.4,206.4 942.2,201.8 945.8,193.5 945.8,191.5 938.9,182.3 936.9,180.7 933.4,180.7 921.4,182.8 918.3,185.5 915.8,189Z" fill="#6030e0" fill-rule="evenodd"/>
<path d="M990.5,323.3 990.2,327.4 991.6,330 1006.5,340.6 1011.1,343.2 1013.1,342.9 1016.2,340.4 1027.5,330.2 1028.7,328.1 1028.2,324.9 1027.2,323 1011.7,309.1 1009.1,307.8 1006.7,308.3 993.2,314.9 992.3,316.4Z" fill="#6050e0" fill-rule="evenodd"/>
<path d="M1228.6,316.3 1234.8,330.3 1236.2,332 1238.8,333.1 1240.2,333.1 1247.6,330 1249.3,328.7 1249.8,327 1249.8,314.8 1248.3,312.5 1239,309.3 1236.8,309.2 1229.1,312 1228.1,313.8Z" fill="#6060c0" fill-rule="evenodd"/>
<path d="M1168.8,265.7 1165.7,274.8 1167,277.2 1185,290.1 1187.9,291.5 1190.5,290.6 1192,288.9 1198.2,273.1 1197.8,271.3 1191.4,260.8 1184.6,257.5 1170.1,263.9Z" fill="#607030" fill-rule="evenodd"/>
<path d="M1217,332.3 1216.9,336.1 1218.1,337.4 1219.9,337.9 1229.8,333.7 1231.6,332 1231.5,328.9 1226.2,317.2 1224.4,315.2 1221.7,315.3 1220,317.4Z" fill="#608060" fill-rule="evenodd"/>
<path d="M1217.1,168.3 1223.3,179.1 1227.2,181.2 1229.4,181.7 1231.2,181.3 1236.7,177.4 1238.1,175.7 1238.2,173.9 1234.7,163.2 1233.8,161.7 1232.5,160.8 1224.3,159.3 1222.5,159.6 1217.2,164.8 1216.6,166.4Z" fill="#60a030" fill-rule="evenodd"/>
<path d="M985.8,33.6 984.7,35.6 984.7,50.9 985.3,52.4 987.7,54.9 992.8,58.8 996.4,59.8 1008.4,60.9 1012.9,58.2 1019.2,40 1019.2,37.4 1018.3,35.7 1003.1,25.5 1001,24.7 997.2,26.3Z" fill="#60a8d0" fill-rule="evenodd"/>
<path d="M1165.5,322.2 1171.9,333.5 1173.5,335 1175.6,335.3 1189.9,333.3 1192.4,332.4 1193.6,331.1 1197,317.6 1188.8,303 1187.3,301.9 1185.8,301.8 1182.8,303.6 1165.6,317.7 1164.7,319.7Z" fill="#60c090" fill-rule="evenodd"/>
<path d="M1200.8,87.4 1203.4,97.4 1204.3,98.9 1217.6,105.3 1221.2,104.4 1231.2,97.4 1232.3,95.6 1232,93.6 1229.9,90.8 1221.2,80.5 1219.6,79.6 1216.1,79.7 1203.1,82.1 1201.3,84.4Z" fill="#60e060" fill-rule="evenodd"/>
<path d="M1143.4,57.2 1142.6,63.8 1143.8,65.4 1160.5,76.6 1162.8,77.5 1166,76.1 1178.2,66.9 1180.2,65.1 1180.8,63.4 1177.7,51.4 1176.5,49.7 1173.9,48.7 1154.3,45.7 1152,46.4 1145.1,53.8Z" fill="#6a5090" fill-rule="evenodd"/>
<path d="M1133.4,267 1125.6,281.5 1126.1,283.7 1133.9,292.6 1136,293.5 1146.2,289.4 1152.6,281 1153.3,279 1152.6,276.9 1142.2,266.6 1140.6,265.8 1136.5,265.2 1134.8,265.7Z" fill="#7030a0" fill-rule="evenodd"/>
<path d="M1242.6,221.5 1229.8,229.4 1229.2,230.9 1229.3,233.5 1230.4,235 1232.4,235.8 1240.6,236.3 1242.5,235.6 1249,230.7 1249.7,229.2 1249.8,226.4 1248.3,224.1 1244.3,221.8Z" fill="#7040a0" fill-rule="evenodd"/>
<path d="M889,316.1 897,326.7 904.2,330.4 906.4,329.8 914.7,322.4 917.1,320 917.8,318.4 916.7,310.4 916.1,308 915.1,306.8 896,301.1 893.5,301.9 889.8,304.6 888.4,306.2 888.2,314.4Z" fill="#706840" fill-rule="evenodd"/>
<path d="M1189.2,397.8 1190.1,399.9 1192.2,400.8 1217.5,400.8 1218.9,400.3 1220.1,398.9 1220.3,393.4 1219.8,391.8 1216.8,344.4 1216.1,340.7 1214.3,338.9 1200.6,338.7 1199,339.4 1197.9,341.1Z" fill="#706860" fill-rule="evenodd"/>
<path d="M1090.2,195.9 1093,200.2 1095.4,201.9 1098.1,201.8 1108.2,190.2 1108.4,188.2 1107.3,185.8 1103.4,179.8 1102,178.5 1093,177.7 1091.6,178.2 1090.6,179.3Z" fill="#708030" fill-rule="evenodd"/>
<path d="M883,17.2 916,71.6 917.1,72.7 918.6,73.1 922.6,72 924.2,69.1 931.3,38.6 928,29.4 919.7,20.5 911,12.3 884.9,12.3 883.3,13.1 882.6,14.3Z" fill="#7080f0" fill-rule="evenodd"/>
<path d="M1224.7,264.7 1228.4,271.6 1230.8,272.6 1241.9,268.1 1243,267.1 1243.4,265.4 1242.6,263.5 1240.6,262.3 1227.5,261.2 1225.9,261.8 1224.8,263.2Z" fill="#7090f0" fill-rule="evenodd"/>
<path d="M1097.2,214.5 1097.8,217.3 1099.4,218.6 1121.3,222.6 1123.3,221.4 1126.8,215.5 1126.8,209.1 1125.7,207 1122.9,205.2 1100.2,205.3 1098.6,206.1 1097.8,207.4Z" fill="#70a040" fill-rule="evenodd"/>
<path d="M933.1,35.3 934.5,38.2 959.1,62.3 963.6,62.3 969.3,61.1 981,53 982.2,51.4 982.1,34.1 975.3,27.1 972.7,25.5 967.9,25.7 934.8,30.3 932.7,32.3Z" fill="#70a040" fill-rule="evenodd"/>
<path d="M985.7,378.4 986.5,382.1 988,383.6 1004.9,392 1008.1,392.3 1020.4,390.2 1021.9,389.5 1023.2,386.6 1026.6,374 1025.7,372.1 1009.4,355.8 1007.1,354.9 994.4,359 990.1,362.8 989.3,364.1Z" fill="#70e090" fill-rule="evenodd"/>
<path d="M1082.7,83.4 1083.6,86.2 1086.4,89 1088.1,89.6 1110.9,84.8 1114,83.1 1117.3,77.7 1117.5,75.4 1115.2,72 1113.1,70.8 1086.7,65.8 1085.1,66.6 1084.3,68.2Z" fill="#70e0c0" fill-rule="evenodd"/>
<path d="M861.2,12.2 859.3,12.9 858.2,15 858.3,71.5 862.5,76.2 886.6,98.2 888,98.8 889.5,98.7 910.7,87.4 914.7,77.8 914.9,74.7 877.5,13.2 875.6,12.2Z" fill="#7850b0" fill-rule="evenodd"/>
<path d="M949,90.3 948.7,91.8 949.2,93.2 954.4,100.1 956.6,100.9 959.3,99.8 961,96.5 961.1,94.8 955.4,86.1 953.5,85.4 951.8,85.8Z" fill="#7888f0" fill-rule="evenodd"/>
<path d="M988.8,100.9 983.6,123.7 984.8,126.3 987.9,131.5 989.3,132.9 1007.5,138.7 1009.3,139.1 1011,138.5 1012.2,136.8 1018.8,118.6 1016.7,105.4 1013.4,98.7 1011.1,97.3 1007.2,97.2 1005.3,97.7 991.7,98.2 990.1,98.8Z" fill="#802070" fill-rule="evenodd"/>
<path d="M1120,340.1 1106.6,357 1106.7,358.6 1119.5,390.6 1121.4,394.5 1126,400.1 1127.9,400.8 1156.8,400.8 1159.1,399.7 1159.7,398.3 1159.8,395.7 1158.6,383.6 1134,340.4 1132,339.7Z" fill="#8030e0" fill-rule="evenodd"/>
<path d="M1088.2,237 1095.8,257.8 1097.7,260.2 1108.6,262.8 1110.8,262.7 1124.3,255.6 1125.5,254.3 1126.3,250.1 1126.8,235.1 1122.6,226.7 1121.3,225.5 1102.4,221.7 1098.3,221.6 1095.6,224.3 1088.9,234Z" fill="#8070a8" fill-rule="evenodd"/>
<path d="M890.7,103.1 892.3,111.6 893.1,113.2 908.7,122.2 910.5,122.8 911.9,122.5 919,118.6 920.5,117.2 920.7,99 912.5,90.6 909.7,90.8 892.5,99.9 891.1,101.2Z" fill="#808020" fill-rule="evenodd"/>
<path d="M1145.1,263.1 1144.7,264.8 1145.4,266.6 1154.8,275.9 1156.6,276.6 1160.8,275.7 1162.6,274.4 1166.3,264.5 1165.4,262.2 1158.6,255.4 1156.8,254.7 1149.5,257.2Z" fill="#80c040" fill-rule="evenodd"/>
<path d="M913.3,213 905.7,223 905.9,224.8 910.4,232.8 912.6,234 914.3,233.7 917.3,231.4 924.5,225.2 925.6,223 925,220.8 917.7,213 915.8,212.1Z" fill="#80c040" fill-rule="evenodd"/>
<path d="M941.5,272.2 947.3,283.3 949.7,284.8 975.7,286.2 978.9,283.7 983.3,278.3 983.8,276.9 982.3,262.1 981.2,258.2 965.4,247.8 951.4,252 947.3,255.5 943.9,259.5 941.3,265.2 940.9,267.4Z" fill="#80c0e0" fill-rule="evenodd"/>
<path d="M1229.2,280.3 1229.6,281.8 1230.7,282.9 1242.2,288.7 1244.2,289.1 1247.6,288 1249.2,286.9 1249.8,285.3 1249.6,271.1 1248,269.4 1246,269.3 1232.7,274.8 1230.3,276.4Z" fill="#80d040" fill-rule="evenodd"/>
<path d="M984.7,397.4 985.3,399.6 987.1,400.7 1000.6,400.8 1002.8,399.4 1003.6,396 1003.2,394.6 1002,393.4 990.8,387.8 988.8,387.3 987.1,387.9 985.9,389.6Z" fill="#80e0a0" fill-rule="evenodd"/>
<path d="M941.7,383.1 939.8,398.6 940.6,399.9 941.9,400.7 950.5,400.8 952.6,399.7 953.3,397.8 953.3,381.8 952.2,379.4 950.8,378.8 945.3,378.2 942.9,379.3Z" fill="#904070" fill-rule="evenodd"/>
<path d="M1198.2,54.8 1198.8,56.6 1200.3,57.9 1210.2,64.1 1219.8,62 1221,61.1 1222.4,58.3 1222.2,56.2 1218.7,47.7 1217.7,46.4 1216.3,45.9 1199.8,48.1 1198.3,50.2Z" fill="#904870" fill-rule="evenodd"/>
<path d="M1143.9,154.5 1140.7,168.4 1141.2,169.9 1142.4,170.9 1144.2,171.2 1153.9,166.1 1155.1,164.8 1155.4,163.4 1155,161.9 1148,153.1 1145.7,152.9Z" fill="#905040" fill-rule="evenodd"/>
<path d="M1025.5,147.1 1029.3,166.5 1030.7,168.1 1043.3,172.3 1045.1,171.6 1050.8,166.5 1051.4,165.2 1051.2,163.5 1045.7,146.7 1044.6,145.3 1038.6,142 1036.5,141.8 1026.7,145.4Z" fill="#9050d0" fill-rule="evenodd"/>
<path d="M931.2,314.5 932.4,317 939.5,321.6 941.9,322.3 944,321.6 948,318.2 950.1,316 950.6,314.4 950.1,312.5 945,305 943.9,304.1 942.4,303.8 938.7,305.3 932.2,309.1 931.3,310.8Z" fill="#9070f0" fill-rule="evenodd"/>
<path d="M1033.7,350 1034.3,351.9 1035.9,353 1050.6,357.9 1051.5,358.6 1053.7,362.7 1052.1,370.2 1056.5,377.1 1066.4,381.7 1079.1,378.7 1081.4,377.1 1081.8,374.1 1078.8,360.6 1086.3,353.7 1087,351.2 1077.7,332.2 1076.5,330.9 1064.6,327.1 1053.3,331.7 1048.3,330.2 1037.4,330.7 1035.5,331.4 1034.3,332.2 1033.7,333.8Z" fill="#909890" fill-rule="evenodd"/>
<path d="M884.1,171.1 884.3,173.3 888.9,181.5 890.2,182.9 892,183.7 913.1,186.8 914.8,186 917.4,183.2 919.2,179.6 919.8,174.1 916.7,160.4 915.6,158 914.1,155.9 912.6,155 901.5,151.8 899.7,151.8 897.4,153 886.9,161.4 885.8,163.9Z" fill="#90b8b0" fill-rule="evenodd"/>
<path d="M1070.3,92 1068.9,93.9 1069.3,96.4 1073.8,100.4 1075.9,101.9 1077.4,102.2 1079.8,101 1084.2,93.2 1084.5,91.8 1083.2,89 1081.5,87.6 1080,87.2Z" fill="#90c0f0" fill-rule="evenodd"/>
<path d="M906.6,267.4 914.5,285.1 915.5,286.5 916.9,287 932.3,281.8 937.1,274.5 938.8,270.9 938.2,267.4 937.3,265.9 923.7,255.6 922.2,255.1 909.9,259 907.3,263.7 906.5,266.1Z" fill="#90d020" fill-rule="evenodd"/>
<path d="M1118.7,308 1123.7,319.5 1134.1,322.8 1136.3,322.8 1138.7,321.4 1145.5,315.7 1146.7,313.6 1146.2,310.7 1144.2,306.1 1137.7,300.1 1134.7,298.2 1132.7,298.3 1120.5,303.9 1118.9,306.1Z" fill="#90d060" fill-rule="evenodd"/>
<path d="M1167,124.3 1166.9,128.1 1168.6,131.2 1170.5,133.1 1173.3,133.2 1178,131.6 1179.5,130.2 1179.8,128.4 1179.2,124.3 1177.5,122.4 1169.8,120.4 1167.9,121.6Z" fill="#90d090" fill-rule="evenodd"/>
<path d="M865.7,228.4 866.8,231.3 868.8,232.3 874.5,232.1 875.7,231.1 876.4,229.5 876.1,228 874.9,226.6 869.2,224.7 867.7,224.8 866.4,225.7Z" fill="#90e030" fill-rule="evenodd"/>
<path d="M1009.5,286.2 1013.8,294.8 1015.6,296.2 1024.4,297 1037.8,291.8 1045,297.1 1047.2,297.6 1049.4,296.2 1054.6,288.2 1054.7,277.5 1053.8,275.8 1051.6,274.8 1041.8,273.6 1029.7,262.9 1028.2,262.8 1018.6,264.2 1015.2,265.2 1011.9,268.7 1009.2,283.6Z" fill="#90e060" fill-rule="evenodd"/>
<path d="M1213,125.3 1212.8,140.6 1223,156.1 1226.6,157.3 1234.9,158.6 1246.1,155.7 1249.2,154.2 1249.8,152.3 1249.8,111.2 1248.7,108.9 1246.1,108.2 1226.9,112.5 1217.5,118.8Z" fill="#a050b0" fill-rule="evenodd"/>
<path d="M1114.7,149.6 1116.7,162.4 1118.2,166 1134.1,170.8 1135.9,170.6 1137.1,169.8 1138.2,167.6 1142.2,149.4 1141.8,147.3 1140,145.4 1138.7,144.8 1136.2,144.7 1117.1,146.3 1115.2,147.5Z" fill="#a06040" fill-rule="evenodd"/>
<path d="M1088.2,271.5 1090.8,279.4 1092.6,281 1105.7,280.2 1107.2,279.1 1108.2,276.6 1109.9,270.2 1109.6,267 1108.5,265.6 1106.6,264.8 1099.4,263.2 1096,263.2 1094,264.3 1088.7,269.7Z" fill="#a070a0" fill-rule="evenodd"/>
<path d="M883.4,104.5 874.5,111.6 874.2,113.9 877.4,117.6 879,118.4 880.9,118.2 888.3,114.2 889.7,112 888.5,105.9 887.6,104.5 886,103.8Z" fill="#a08070" fill-rule="evenodd"/>
<path d="M1107.3,176 1106.2,177.4 1106.2,179.5 1110.6,186.7 1112.8,188.2 1118.1,188.3 1119.8,187.8 1133.2,178.4 1134.3,177.1 1134.6,175.7 1134,174 1132.3,172.8 1117.8,169.1 1115,170.4Z" fill="#a08098" fill-rule="evenodd"/>
<path d="M1037.3,207.5 1035.9,209.4 1036.1,211.6 1042.9,218.6 1044.4,219.4 1046.1,219.3 1047.5,218.3 1051.8,211 1051.7,209.2 1050.6,207.8 1044.1,205.8 1041,205.5Z" fill="#a0a8f0" fill-rule="evenodd"/>
<path d="M966.6,188.7 966.3,191.3 972.9,206.5 977.6,213.7 988.7,225.5 990.6,225.7 1007.6,219.9 1009.6,217.5 1014,209.7 1014,207.1 1008.3,198 1007.8,189.9 1007,186.6 1002,179.5 1000.7,178.4 973.9,178.3 971.9,180Z" fill="#a0b8e0" fill-rule="evenodd"/>
<path d="M1111,191.1 1104.4,199.2 1104.5,200.6 1105.3,201.9 1106.8,202.7 1119.5,202.7 1121.1,201.9 1121.9,200.2 1120.1,192.7 1119.3,191.4 1117.9,190.8Z" fill="#a0c060" fill-rule="evenodd"/>
<path d="M895.2,390.3 896.4,398.4 898.3,400.6 908,400.7 909.5,400 910.3,398.7 910.2,396.2 906.2,385.2 905.3,383.6 904.1,382.8 901.3,383.1 895.9,388.5Z" fill="#a0c070" fill-rule="evenodd"/>
<path d="M1143.6,178.3 1151.1,188.7 1153.3,190.1 1155.5,189.6 1161.7,184.9 1163.6,183.2 1164.1,181.8 1161.1,169.1 1160,167.7 1158.7,167.2 1156.2,167.8 1144.4,174.3 1143.2,176Z" fill="#a0c070" fill-rule="evenodd"/>
<path d="M959.6,149 960.5,159.8 961.7,161.1 964.9,162.3 967.1,161.6 979,148 979.3,145.8 978.2,143.3 975.8,141.9 970.4,140.8 967.7,141.6Z" fill="#a0c0f0" fill-rule="evenodd"/>
<path d="M939.6,179.4 946.1,187.7 948.6,190 955.5,190.2 957.1,189.5 958.1,188.3 958.2,186 955.7,176.9 954.4,173.4 953.1,172.2 950,172.3 940.8,175.5 939.4,177.3Z" fill="#a0c830" fill-rule="evenodd"/>
<path d="M861.4,144.2 858.8,145.7 858.2,147.5 858.2,169.8 858.9,171.7 861.3,172.8 871.2,171.8 877.6,171.8 880.7,170.7 882.2,168.1 883.6,161.3 876.7,144.9 874.3,143.7Z" fill="#a0d8d0" fill-rule="evenodd"/>
<path d="M930,244.4 929.6,246.3 930.2,247.9 940.5,256 941.9,256.4 943.3,256.1 946,253.4 946.4,251.5 945.4,249.7 935.8,243.8 932.6,242.7 931.2,243.1Z" fill="#a0d8f0" fill-rule="evenodd"/>
<path d="M1219.2,343.2 1222.7,397.6 1223.2,399.1 1224.2,400.2 1225.6,400.8 1248.2,400.4 1249.4,399.2 1249.8,397.8 1249.8,361.1 1239.1,337 1238.2,335.8 1236.3,334.8 1233.2,334.8 1221,340.4 1219.6,341.6Z" fill="#a0e090" fill-rule="evenodd"/>
<path d="M1133.5,110.4 1132.6,112.5 1133.4,114.6 1140.5,120.1 1143,120.7 1145.2,119.3 1149.7,110.3 1150,108.4 1148.6,106.2 1141.7,103.2 1139.9,103.9Z" fill="#a898e0" fill-rule="evenodd"/>
<path d="M1009.8,64.2 1006.8,77.6 1012.3,94.1 1014.6,96.2 1031.1,95.3 1034.8,94.6 1038.7,91 1043.7,85 1043.8,82.1 1040.8,64.6 1039.5,63.4 1027,58.8 1022.9,58.7 1015.3,59.8 1010.7,62.7Z" fill="#a8a068" fill-rule="evenodd"/>
<path d="M1004.7,152.5 1005.2,167.1 1006.5,169.3 1018.1,172.7 1022.8,170.7 1026.1,168.4 1026.6,165.8 1022.7,147.4 1021.5,145.7 1013.6,142.5 1011.6,142.5 1009.1,144.8 1005.4,149.5Z" fill="#a8c0e8" fill-rule="evenodd"/>
<path d="M970.2,108 971.3,118.1 972.7,119.9 978.6,121.3 981.1,120.3 985.8,102.9 985.9,100.6 985,98.8 982.8,98 977.6,99.5 970.9,105.9Z" fill="#b09060" fill-rule="evenodd"/>
<path d="M861.9,303.5 858.7,305.6 858.2,307.2 858.2,324.8 859.1,326.9 863.1,328.3 871.9,329.3 879.5,325.2 885.6,315.1 885.8,307.6 884.2,305.1 877.7,301.5 875.4,299.6 876.3,285.1 875.1,282.8 863.2,278.4 860.7,278.8 858.8,280.2 858.2,282 858.3,296.7 862.7,302.2Z" fill="#b0a090" fill-rule="evenodd"/>
<path d="M1190.3,40.3 1196.5,45.1 1198.1,45.6 1216.9,43.3 1219,42.2 1221.6,38.8 1224.7,24.1 1220.8,13.2 1218.5,12.2 1192.8,12.2 1190.6,13.1 1189.7,15.2 1189.7,38.5Z" fill="#b0b098" fill-rule="evenodd"/>
<path d="M927.3,167.5 922.3,175.3 922.4,177.4 923.4,178.8 925.1,179.4 934.3,178.1 936.4,177 937.2,175.1 936.7,173.2 933.9,168.2 931.6,166.7 928.7,166.8Z" fill="#b0c040" fill-rule="evenodd"/>
<path d="M858.2,373 858.9,375 860.9,376.2 875.1,379.3 878.8,379.4 881.4,377.2 887.8,369.2 888.3,367.6 888.4,361.2 887.2,359.6 870.6,347.6 867.4,347.2 864.8,347.9 861.5,350.3 858.3,354Z" fill="#b0c850" fill-rule="evenodd"/>
<path d="M1081.7,362.5 1084.8,376.4 1086,378 1109.2,388.2 1112,388.7 1114,387.5 1114.5,386.1 1114.3,384.5 1104.5,359.9 1102.9,357.3 1093.4,354.7 1089.3,354.4 1082.2,360.7Z" fill="#b0d050" fill-rule="evenodd"/>
<path d="M970.8,223.8 971.6,230.2 973.7,231.7 983.9,231.7 985.5,230.8 986.5,228.9 985.9,226.3 978.4,217.9 976.9,216.9 975.1,217 973.7,218.1Z" fill="#b0d0a0" fill-rule="evenodd"/>
<path d="M1002.9,14.1 1002.3,20.9 1003.2,22.6 1019.4,33.3 1022.2,32.9 1027.3,27.4 1027.2,25 1024.1,15.1 1023.4,13.5 1022,12.4 1004.9,12.3Z" fill="#b0e080" fill-rule="evenodd"/>
<path d="M1075.1,306.3 1074.9,307.8 1075.6,309.2 1085.2,318.8 1088.4,319.3 1091.1,318.5 1092.7,317.2 1094.4,313.3 1094.1,311.2 1084.5,300.4 1082,300 1078,301.9Z" fill="#b0e0f0" fill-rule="evenodd"/>
<path d="M968.6,165.7 972.8,174.3 974.6,175.7 999.7,175.6 1001.2,174.3 1003,169.9 1002.1,153.1 1001,151.7 999.3,150.9 989.5,148.3 984.4,148.2 981.9,148.9 969.1,162.8 968.4,164.2Z" fill="#b8d020" fill-rule="evenodd"/>
<path d="M1241.6,29.7 1244.9,36.3 1247.1,36.8 1249.1,35.7 1249.8,34.1 1249.8,25.9 1248.7,23.5 1246.7,22.9 1244.8,23.5 1241.7,27.3Z" fill="#c02050" fill-rule="evenodd"/>
<path d="M964.3,312.5 962.8,314.6 963.5,317.1 977.5,327.4 979.7,327.4 986.3,324.6 988.1,322.4 989.8,316.4 989.4,313.9 978.6,303.8 975.9,304Z" fill="#c050e0" fill-rule="evenodd"/>
<path d="M1026.9,15.7 1030.1,24.6 1031.9,25.5 1034.7,25.2 1036,24.6 1037.2,22.8 1040.2,16.3 1040.3,14.5 1039.4,13 1037.9,12.3 1029.3,12.3 1028,12.9 1027.1,14.2Z" fill="#c08840" fill-rule="evenodd"/>
<path d="M919.7,162 920.2,165.9 921.7,171.5 925.2,166Z" fill="#c09030" fill-rule="evenodd"/>
<path d="M1071.2,199.4 1075.1,207.4 1075.3,212.1 1076.8,213.9 1092,214.3 1093.4,213.8 1094.4,212.7 1095.3,209.1 1095,205.2 1091.5,202.4 1087.9,198.1 1073.8,196.2 1072.4,196.8 1071.5,197.9Z" fill="#c090a0" fill-rule="evenodd"/>
<path d="M906.9,333.2 907.7,336.5 909.4,337.7 915.4,338.8 918,338.1 921.4,334.7 923.2,331.6 922.7,328.7 920.8,324.4 918.7,323.2 916.5,323.9 907.6,331.8Z" fill="#c0a030" fill-rule="evenodd"/>
<path d="M919.2,311.3 919.9,315.4 921.7,317.7 923.5,318 926.3,317.2 928.5,315.3 928.7,311 926.6,309 923,307.8 921.2,307.9 919.6,309.2Z" fill="#c0a070" fill-rule="evenodd"/>
<path d="M1112.5,268.7 1119.1,279.2 1120.6,280.3 1122.4,280.3 1124.1,279 1129.3,269.7 1131.7,265.1 1131.8,263.1 1128.2,258.6 1125.5,258 1113.4,264.3 1112.3,266.1Z" fill="#c0a070" fill-rule="evenodd"/>
<path d="M954.5,76.3 954.2,78.6 954.6,80.1 964.2,94 976.8,96.8 982.8,95.2 984.9,93.6 987.8,80.6 987.1,76.6 985.6,75 970.3,64.8 968.8,64.2 966.4,64.2 962.1,64.7 959.8,65.7Z" fill="#c0a0e8" fill-rule="evenodd"/>
<path d="M1122.6,191.9 1125.8,203.1 1129.2,208 1129.2,212.4 1130.6,215 1143.7,220.9 1145.2,220.7 1150,218.3 1150.8,216.6 1151.5,206.9 1149.3,201.2 1151.2,195.5 1151.3,193.6 1140.8,178.9 1138.9,178.2 1136.8,178.7 1126.5,185.9 1122.8,189.1Z" fill="#c0b0f0" fill-rule="evenodd"/>
<path d="M858.2,215.1 858.6,216.5 859.8,217.8 861.5,218.1 863.2,217.5 873.1,206.5 876.3,205.5 877.7,204.5 886.9,191.6 887.8,187.6 887.7,184.4 883.6,177 881.5,174.4 879.8,174 864.4,174.7 860.1,175.4 858.6,176.8Z" fill="#c0c0b0" fill-rule="evenodd"/>
<path d="M1056.7,380 1056.7,384.9 1057.2,385.7 1057.7,395.5 1064.3,383.7Z" fill="#c0d040" fill-rule="evenodd"/>
<path d="M935.6,165.5 938.9,171.6 940.2,172.3 942,172.2 953.9,168.1 956.3,165.2 956.7,162.5 956,161.1 954.7,160.3 944,157.3 941,157 939.1,158.3 935.8,163.8Z" fill="#c0d040" fill-rule="evenodd"/>
<path d="M862.3,379.1 859.9,379.2 858.3,381.3 858.4,398.9 859.3,400.1 861,400.8 870.7,400.6 872.7,398.3 877.7,385.8 877.6,383.7 875.7,381.8Z" fill="#c0d060" fill-rule="evenodd"/>
<path d="M866.6,217.2 866.2,219.5 867.6,221.4 878.1,224.8 880.7,224 883.6,219.7 883.2,217.7 880.1,212 878.4,209.4 876.6,208.5 873.6,209.3Z" fill="#c0d090" fill-rule="evenodd"/>
<path d="M876.1,396.7 876.3,399.3 878.7,400.8 891.3,400.7 892.9,399.9 893.8,398 892.7,391.6 892,390.1 882.5,385.9 881,386.2 879.7,387.4Z" fill="#c0e060" fill-rule="evenodd"/>
<path d="M1215.1,213.3 1215.2,215.7 1217.5,218.2 1226.8,225.9 1229.6,226.3 1239,220.6 1240.9,218.8 1241.3,215.2 1240.8,213.3 1240.8,208.1 1244.4,203.6 1244.5,201.1 1243.7,199.9 1241.8,198.8 1236,196.8 1233.5,196.7 1232.1,197.7 1229.5,202.3 1227.9,204 1216.7,209.6 1215.8,210.7Z" fill="#c0e060" fill-rule="evenodd"/>
<path d="M963,357.7 961.8,358.7 961.2,360.1 961.2,369.6 962.2,371.5 964.9,372.7 979.1,376.3 981.4,376.5 983.2,375.5 984.2,373.6 986.3,365.6 986.1,363.3 984.7,361.6 973.8,353.8 972.1,353.9Z" fill="#c8b040" fill-rule="evenodd"/>
<path d="M1160.2,103.5 1160.7,106.2 1167.3,116.4 1170.4,117.7 1180.1,119.9 1195.2,112.4 1200.7,101.3 1201.2,99.1 1199,91.4 1198,89.9 1196.7,89.3 1167.4,91.7 1163.5,92.4 1162,93.7 1161.2,95.6Z" fill="#c8b0f0" fill-rule="evenodd"/>
<path d="M967.1,130.8 969.9,137.6 972.5,138.7 977.4,139.6 978.9,139.4 980.8,138.4 984.6,135.1 985.4,133.3 984.8,130.8 980.9,124.9 972,122.5 970.2,122.8 968.9,124 966.8,128.5Z" fill="#c8c880" fill-rule="evenodd"/>
<path d="M1118.6,80.8 1116,85.4 1116.3,86.8 1126.9,108 1128.7,109.6 1131.1,109.4 1139.4,101 1139.8,95.4 1139.3,93.8 1121.7,80.7 1120.1,80.4Z" fill="#c8c8c8" fill-rule="evenodd"/>
<path d="M906.7,378 913.3,397.8 914.9,400.2 916.7,400.8 933.9,400.8 936.4,399.5 937.3,397.4 940.1,377.3 938.6,374.5 932.7,366.8 927.3,365.1 924.8,365.7 907.9,376Z" fill="#d01860" fill-rule="evenodd"/>
<path d="M861.3,109.5 867.9,110.8 871.1,110.7 881.8,102.9 883.2,101.3 883.7,99.8 883.1,98.1 881.5,96.3 863.3,79.6 861.4,78.9 859.1,79.8 858.2,82 858.2,106.6 859.2,108.5Z" fill="#d05858" fill-rule="evenodd"/>
<path d="M918.3,291.1 918.7,299.4 919.9,303.5 921.7,304.7 929.9,307.1 942,300.4 942.7,298.9 943.3,291.9 942.7,290.3 941,288.9 935.2,285.2 933,284.6 919.6,289.1Z" fill="#d06070" fill-rule="evenodd"/>
<path d="M1163.2,86.2 1164.1,88.4 1166.2,89.3 1192.1,87.3 1197.6,86.1 1198.6,84.8 1199,82.1 1198.1,80 1190.1,68.9 1184.8,66.8 1183,66.7 1165.5,79.3 1163.9,82.1Z" fill="#d0b020" fill-rule="evenodd"/>
<path d="M1174.5,239.3 1159.7,244.4 1158.8,245.9 1158.9,252.3 1167.5,260.9 1169,261.3 1171.3,260.7 1180.8,256.2 1182.4,254.8 1182.8,251.9 1181.7,243.9 1180.9,242.3 1177.8,239.3 1176.4,238.9Z" fill="#d0b030" fill-rule="evenodd"/>
<path d="M904.7,352.8 905.4,354.7 907.2,355.7 915.6,355.8 917.3,355.1 918.2,353.5 918.3,350.9 917.2,344.4 916.1,342.2 914.9,341.4 910.8,340.5 908.3,341.2 906.8,344.4Z" fill="#d0c0a0" fill-rule="evenodd"/>
<path d="M1240.6,303.7 1240.6,305.8 1242.1,307.6 1246.6,308.9 1248.1,308.6 1249.3,307.6 1249.8,305.9 1249.8,294.4 1248.5,292.2 1246.3,291.7 1244.3,292.9Z" fill="#d0d0a0" fill-rule="evenodd"/>
<path d="M858.5,267.2 863.6,275.6 877.6,280.7 879,280.5 887.4,277.1 889.1,275 890.6,271.7 885.1,250.6 883.9,248.5 881.7,247.3 863.9,249.7 859.3,250.9 858.2,253.2Z" fill="#d0d8e0" fill-rule="evenodd"/>
<path d="M1010.2,188.5 1010.9,197.4 1016.8,206.5 1018.6,207.3 1030.6,207.8 1038.2,204.3 1040.4,202.3 1044.8,186 1046.2,183.5 1048.3,183.5 1062,194.1 1063.9,194.6 1066.2,194 1067.5,192.8 1071,183.4 1070.1,181 1061.8,168.7 1060.2,167.8 1054.6,167.2 1053,167.9 1044.3,175.2 1043,175.2 1030,170.8 1028.4,170.6 1026.7,171.3 1019,175.7 1010.9,185.5Z" fill="#d0d8f0" fill-rule="evenodd"/>
<path d="M1090.5,285.4 1085.7,297 1086.2,298.8 1093.3,307 1097.3,310.3 1103.1,310.3 1108.4,309.6 1115.4,306.6 1117.3,303.4 1117.3,299.6 1115,287.5 1113,285.4 1108,282.8 1102.4,282.7 1091.7,284.1Z" fill="#d0e040" fill-rule="evenodd"/>
<path d="M1086.2,159.9 1089.8,172.8 1090.7,174.3 1092.3,175.2 1097.2,175.8 1103.1,175.6 1113.2,168.9 1114.7,166.7 1112.2,150.4 1111.3,148.1 1109.6,147 1107.2,147.3 1087.7,156.1 1086.3,157.8Z" fill="#d0e060" fill-rule="evenodd"/>
<path d="M932.2,127 932.6,140.5 933.7,141.9 939.3,145.3 940.8,145.2 949.3,141.6 950.2,139.9 951.7,131.4 948.2,124 946.4,123 942.4,123.2 934.7,124.3 933.1,125.1Z" fill="#d0e8b0" fill-rule="evenodd"/>
<path d="M1198.1,114.4 1200.4,122.4 1201.5,124.1 1203.5,124.8 1210,124.2 1211.9,122.7 1215.1,117.7 1216.1,108.4 1215,107 1211.8,105.3 1205.9,102.6 1203.8,102.6 1201.8,104.7 1198.2,112.5Z" fill="#d8c020" fill-rule="evenodd"/>
<path d="M883.2,378.7 882.3,380.8 883.3,383.1 889.7,386.2 893.2,387.1 894.7,386.4 902.5,378.7 903.4,376.1 901.6,372.5 899.9,371 890.9,370.7 889,371.7Z" fill="#d8d8f0" fill-rule="evenodd"/>
<path d="M1126.1,80.9 1139.4,90.4 1141.7,90.5 1143.5,88.9 1143.7,87.4 1143.2,85.7 1137.5,72.9 1136.1,71.5 1134,71.3 1124.1,75 1123.2,76.5 1123.3,78.3Z" fill="#e040e0" fill-rule="evenodd"/>
<path d="M1143.6,231.3 1143.7,233.7 1147.2,237.8 1150.9,238.4 1152.7,237.7 1153.7,236 1154.8,228.1 1155,224.4 1154.4,222.7 1152.7,221.3 1151.3,221 1146.2,223.1 1144.8,225.4Z" fill="#e08050" fill-rule="evenodd"/>
<path d="M1175,184.3 1174.7,186.3 1175.7,199.9 1176.8,205.3 1178.2,207.2 1180.6,207.8 1191.7,206.3 1196.9,206.3 1208.6,213.4 1210.6,213.5 1212.3,212.4 1213,210.2 1212.5,208.4 1204.3,199 1204.8,193.8 1204.5,185 1194.2,176.1 1192.4,175.2 1189.7,175.2 1183.6,175.7 1181.6,176.4 1179.1,178.8Z" fill="#e09070" fill-rule="evenodd"/>
<path d="M1210.2,68 1206.9,74.8 1207.1,76.3 1209,78.2 1217.7,76.9 1219.2,74.8 1219.8,69.8 1219.4,67.2 1218.4,66.1 1216.9,65.7 1211.5,66.9Z" fill="#e0a020" fill-rule="evenodd"/>
<path d="M1212.5,175.8 1211.8,178.5 1213.3,180.6 1214.7,181.1 1216.8,180.7 1218.7,179.3 1219,177 1217.1,174 1214.5,173.8Z" fill="#e0a070" fill-rule="evenodd"/>
<path d="M984.4,258.3 985.9,273.4 987,275.5 988.8,276.3 991.7,276.2 993,275.6 999.4,268.2 1000.1,266.7 999.7,264.7 995.5,256.4 994.3,255.4 989.9,253.9 987.8,254.6Z" fill="#e0a090" fill-rule="evenodd"/>
<path d="M987.5,243.2 988.3,247.3 989.9,250.6 996,253.2 1012.5,250.7 1014.3,249.7 1015,248.1 1009.1,226.1 1008,224.3 1006.4,223.5 1004.2,223.8 990.7,228.3 989.5,229.2 987.2,233.6Z" fill="#e0b040" fill-rule="evenodd"/>
<path d="M858.2,221.2 858.2,241.5 864.7,233.5 861.3,223.5 861.3,222.1Z" fill="#e0b040" fill-rule="evenodd"/>
<path d="M1030.7,324.4 1031.6,327.4 1033.6,328.7 1047.8,327.5 1049.3,326.1 1052.4,318.4 1054,315.6 1062.8,315.5 1065.2,312.8 1065.4,310.3 1064.1,308.7 1051.2,301.2 1048.2,300.8 1035.7,308 1030.8,322Z" fill="#e0b080" fill-rule="evenodd"/>
<path d="M978.5,288.1 978.7,299.4 979.2,300.8 990,311.2 991.8,312.1 993.8,311.7 1008.1,304.7 1011.8,297.7 1011.2,295.2 1006.5,286.3 992.4,278.7 987.1,278.7 984.8,280Z" fill="#e0b890" fill-rule="evenodd"/>
<path d="M893.2,273 890.7,277.3 890.8,279 897.7,289.9 899.4,290.3 902.1,289.7 908.8,287.7 910.8,286.1 911.1,283.5 906.2,272.7 904.1,269.6 901.5,269.3 894.9,272Z" fill="#e0c040" fill-rule="evenodd"/>
<path d="M916.6,152.7 916.7,155.1 919.2,158.9 926.5,163.9 930.6,164.3 933.2,163 937.3,156.7 938.3,154.4 938.3,149.9 937.6,148 935.8,146.1 932,143.5 930.1,143.2 920.2,146.1Z" fill="#e0d020" fill-rule="evenodd"/>
<path d="M1044.3,106.3 1047.2,113 1049.1,123.8 1050.5,125.1 1054.7,126.9 1055.9,128 1058.7,133.5 1072.6,137.8 1074.5,137.7 1076,136.8 1080.7,127.8 1081,126.4 1078.3,120.9 1077.2,107 1074.5,103.8 1064.3,95.2 1059.6,94.6 1056.8,96.1 1052.3,100.5 1045.3,104.2Z" fill="#e0d020" fill-rule="evenodd"/>
<path d="M1117.9,287.9 1119.4,297.9 1120.3,299.3 1121.6,300 1123.5,299.8 1129.3,297.2 1131.1,295.1 1130.5,292.4 1124.7,285.5 1122.4,284 1120.3,284.2 1118.3,286.2Z" fill="#e0e040" fill-rule="evenodd"/>
<path d="M1220.6,294.1 1220.8,296.5 1224.5,307.6 1225.7,309 1227.4,309.4 1234.8,307.2 1236.7,306 1241.2,292.8 1240.8,291.4 1239.8,290.3 1228.9,284.8 1227.4,284.5 1226,285 1224.2,286.5Z" fill="#e0e0a0" fill-rule="evenodd"/>
<path d="M1224.7,15.1 1226.5,21.1 1227.6,22.6 1238.1,26 1239.8,25.4 1242.4,22.7 1247.1,16.9 1247.6,15 1246.7,13.1 1244.9,12.2 1227.4,12.2 1225.1,13.7Z" fill="#e81870" fill-rule="evenodd"/>
<path d="M861.2,112.2 859.3,112.9 858.2,115 858.4,139.9 859.3,141.1 861,141.8 868.1,141.8 873.5,141.1 875,139.6 875.8,136.9 877.3,125.1 877.3,121 870.4,114Z" fill="#e8c060" fill-rule="evenodd"/>
<path d="M1077.7,140.6 1080.5,152.3 1081.7,153.7 1083.6,154.3 1085.6,154.2 1088.3,153.2 1105.8,145.2 1108.1,143.8 1108.9,141.9 1108,138.4 1106.6,136.6 1085.1,128.8 1083.4,129.2 1082.3,130.2 1078,138.9Z" fill="#e8e8d0" fill-rule="evenodd"/>
<path d="M1016.2,57.3 1024.5,56.3 1020.5,44.3 1016.2,56.6Z" fill="#f03040" fill-rule="evenodd"/>
<path d="M1156.1,237.7 1156.6,240.2 1157.8,241.2 1159.2,241.5 1174.1,236.4 1174.9,235.2 1175,233.7 1173.2,225.9 1172.1,223.7 1170.3,222.7 1166.2,222.7 1160.1,223.2 1158.6,224 1157.2,226.6Z" fill="#f030b0" fill-rule="evenodd"/>
<path d="M1153.9,14.2 1148.8,31.4 1149.3,33.8 1152.9,41.5 1154,42.8 1157.1,43.8 1176.1,46.8 1177.9,46.6 1184.7,41.9 1187.2,39.2 1187.1,14.1 1185.9,12.7 1184.5,12.2 1155.6,12.4Z" fill="#f030b0" fill-rule="evenodd"/>
<path d="M1226.3,28.3 1224.9,37.9 1226.7,39.6 1239.4,42.8 1241.4,42.4 1242.7,40.8 1242.7,38.7 1239.2,30.7 1238,29.2 1236.3,28.3 1229.7,26.2 1227.6,26.6Z" fill="#f040a0" fill-rule="evenodd"/>
<path d="M917.7,234.1 916.3,235.9 916.7,238.2 923.4,243.5 924.9,244.1 926.4,244 929.1,241.5 930.1,239.3 929.8,236.1 928.6,230.6 927.1,228.6 925.5,228.1 924.1,228.5Z" fill="#f05020" fill-rule="evenodd"/>
<path d="M990.1,72.2 989.7,75.2 991.8,77.2 1003,76.1 1004.7,74 1006.3,67.9 1006.2,65 1004.8,63.5 1001.9,62.7 994.5,62.4 992.9,64Z" fill="#f050a0" fill-rule="evenodd"/>
<path d="M1164.2,170.9 1166.4,179.4 1168.2,182 1171.5,182.6 1173,182.3 1177.3,177.2 1177.6,175.4 1176.9,173.7 1168.7,167.7 1166.9,167.4 1165.5,167.9 1164.4,169.3Z" fill="#f06020" fill-rule="evenodd"/>
<path d="M1015.7,257.3 1016.6,260.1 1018.2,261.4 1025.9,260.8 1027.5,260 1028.6,258.7 1028.7,254.3 1028.1,253 1026.4,251.9 1017.8,250.6 1016.5,251.3 1015.7,252.6Z" fill="#f08040" fill-rule="evenodd"/>
<path d="M1031.2,259.6 1032.1,261.7 1042.5,270.9 1052.4,272.3 1055.8,273.6 1057.8,273.2 1067.8,268.2 1069.2,266 1069.1,264.5 1060.9,244.5 1059.5,243.4 1057,243.2 1050.4,240.2 1046.9,240.6 1032.2,251.2 1031.2,253.1Z" fill="#f09030" fill-rule="evenodd"/>
<path d="M902.2,144.6 901.3,147 902.6,149.3 912,152.1 913.5,151.8 914.6,150.8 917.1,145.3 916.8,143.8 914.9,141.3 911.7,137.8 909.9,137 907.5,137.8Z" fill="#f09070" fill-rule="evenodd"/>
<path d="M1139.5,31.7 1130.8,39.3 1131,41.9 1141.1,51.9 1142.5,52.1 1144.2,51.5 1150.2,44.6 1150.2,42 1147.7,36.2 1146.2,33.5 1144.4,32.4 1141,31.6Z" fill="#f090c0" fill-rule="evenodd"/>
<path d="M1059.2,35 1059.5,37.4 1061.5,38.7 1078.9,40.3 1083.9,40.2 1086,38.6 1088.6,30.3 1079,12.9 1077,12.2 1065.6,12.3 1063.8,13.4 1062.9,15.7Z" fill="#f0a020" fill-rule="evenodd"/>
<path d="M923.2,115.8 924.4,118.2 931.6,122 947.2,120.1 949.2,117.8 953.2,104.5 953.1,102.3 946.8,94.2 945.7,93.4 935.1,92.2 931.2,92.4 926.2,96.1 923.4,99.1Z" fill="#f0a050" fill-rule="evenodd"/>
<path d="M1242.6,338.4 1244.1,341.8 1245.4,343.1 1247.7,343.2 1249.5,341.7 1249.7,335.9 1248,333.7 1246,333.5 1243.4,334.9 1242.4,336.4Z" fill="#f0a080" fill-rule="evenodd"/>
<path d="M1046.2,224 1047.7,234.4 1049,237 1057.9,240.7 1061.1,240.6 1072.9,232.5 1073.3,231 1073.2,217.9 1072.4,216.6 1071.1,215.8 1057.4,212.7 1054.7,212.7 1053,213.9 1050,219.4 1046.6,222.5Z" fill="#f0a090" fill-rule="evenodd"/>
<path d="M1221.2,245 1224.3,255.3 1225.1,257 1226.2,258 1229.4,258.8 1246.6,260.4 1248.4,260 1249.6,258.6 1249.6,249.2 1241,239.1 1228,237.8 1221.9,242.4Z" fill="#f0a0b0" fill-rule="evenodd"/>
<path d="M881.1,227.5 879.8,234.1 883,244.3 883.9,245.5 886.3,246.7 902.7,246.6 904,245.5 909.1,237.3 907.7,233.2 902.5,224.2 893.7,220.1 890,220.3 886,221.4Z" fill="#f0a0c0" fill-rule="evenodd"/>
<path d="M1212.8,222.8 1211.7,236.1 1212.6,238.2 1215.2,240.2 1219.2,240.9 1225.7,236.1 1226.7,229.8 1225.5,227.8 1218.2,221.6 1216.5,220.8 1215.1,220.7 1213.6,221.6Z" fill="#f0c020" fill-rule="evenodd"/>
<path d="M944.1,203.7 941.5,206.9 941.4,208.4 942.1,209.8 943.3,210.6 949.1,210.8 954.4,209.7 956.8,205.6 956.8,195.5 956.1,193.8 954.6,192.8 951.7,192.7 948.7,193.8Z" fill="#f0c020" fill-rule="evenodd"/>
<path d="M858.2,271.5 858.2,277.3 858.4,277.3 860.9,276.2Z" fill="#f0c030" fill-rule="evenodd"/>
<path d="M1136.1,337.2 1136.5,339.5 1155.7,372.9 1157.5,374.3 1159.8,374 1161,372.7 1162.2,369.1 1170.7,337.6 1169.2,333.7 1162.1,321 1160.1,319.5 1150.6,316.2 1147.8,316.6 1138.1,325.2 1137.2,327.6Z" fill="#f0c040" fill-rule="evenodd"/>
<path d="M964.6,217.3 966.6,219.5 969.1,219.7 970.3,218.9 971.2,217.3 971.4,214.8 970.6,213.6 969.3,212.9 966.4,213.3 964.7,214.9Z" fill="#f0c040" fill-rule="evenodd"/>
<path d="M1245.1,174.6 1243.7,176.5 1244.1,178.8 1246,180.2 1248.3,179.9 1249.7,177.9 1249.3,175.5 1247.4,174.2Z" fill="#f0c0d0" fill-rule="evenodd"/>
<path d="M959.3,195.3 959.3,209.8 960.4,210.9 961.8,211.3 968.1,210.1 969.3,209.3 970,208 969.8,206 965.7,196.2 964.5,194.1 963,193.2 960.8,193.5Z" fill="#f0c0d8" fill-rule="evenodd"/>
<path d="M1181.8,123.3 1182.5,129.1 1184.2,130.6 1191.9,131.8 1194.7,131.3 1196.6,129.5 1198.5,125.9 1196.3,117.9 1195,116.7 1192.9,116.5 1183.2,121.4Z" fill="#f0d040" fill-rule="evenodd"/>
<path d="M1109.7,280.8 1116.2,284.4 1118.4,282.7 1111.8,272.6Z" fill="#f0e060" fill-rule="evenodd"/>
<path d="M1107.1,13.8 1106.2,19.1 1106.9,21 1117.9,37.5 1119.8,39.1 1127.5,38.9 1137.9,29.2 1137.2,16 1136.4,13.6 1135,12.4 1109.2,12.3Z" fill="#f0e060" fill-rule="evenodd"/>
<path d="M1071.6,189.6 1072.1,192.2 1074.6,193.6 1082.4,194.8 1086.1,194.5 1087.3,193.5 1087.8,192.1 1087.5,181.7 1086,180.3 1084.3,180.1 1074.9,183.5 1073.4,185Z" fill="#f0f0c0" fill-rule="evenodd"/>
<path d="M911.2,131.9 912.1,134.7 919.5,142.7 922,142.7 927.8,141.1 929.6,139.4 929.7,125 928.6,123.5 923,120.5 920.2,120.8 912.7,125.1 911.2,128.6Z" fill="#f0f0c0" fill-rule="evenodd"/>
<path d="M942.1,328.6 942.2,330.5 950.8,351.7 952.7,353.2 958.8,355.7 961.3,355.7 972.8,350.8 979.9,340.3 979.7,337.2 976.8,330.1 957.6,316.3 954,316.3 950.8,318.6 943.6,324.8Z" fill="#f8e0c8" fill-rule="evenodd"/></g></g>
<rect x="24" y="11" width="93" height="44.5" fill="#fff"/>
<text x="28" y="45.5" font-size="31" text-anchor="start" font-family='"Liberation Serif", serif' >ε = 0.4</text>
<rect x="442" y="11" width="108" height="44.3" fill="#fff"/>
<text x="446" y="45.5" font-size="31" text-anchor="start" font-family='"Liberation Serif", serif' >ε = 0.69</text>
<rect x="857" y="11" width="93" height="45.5" fill="#fff"/>
<text x="862" y="46" font-size="31" text-anchor="start" font-family='"Liberation Serif", serif' >ε = 1.6</text>
<rect x="255" y="353" width="163" height="48.5" fill="#fff"/>
<rect x="266.5" y="395.5" width="142.8" height="4.5" fill="#000"/>
<text x="293.7" y="385.8" font-size="30.5" text-anchor="start" font-family='"Liberation Serif", serif' >20 µm</text>
<rect x="672.3" y="351.6" width="162.2" height="50.2" fill="#fff"/>
<rect x="681.7" y="389.6" width="141.8" height="5.1" fill="#000"/>
<text x="707.8" y="380.3" font-size="30.5" text-anchor="start" font-family='"Liberation Serif", serif' >20 µm</text>
<rect x="1088.2" y="352.2" width="162.8" height="49.6" fill="#fff"/>
<rect x="1097.4" y="391.6" width="141.1" height="4.5" fill="#000"/>
<text x="1129.2" y="378.3" font-size="30.5" text-anchor="start" font-family='"Liberation Serif", serif' >20 µm</text>
<text x="248" y="424.5" font-size="26.5" text-anchor="middle" font-family='"Liberation Sans", sans-serif' >(a)</text>
<text x="658.5" y="426" font-size="26.5" text-anchor="middle" font-family='"Liberation Sans", sans-serif' >(b)</text>
<text x="1074.8" y="427.5" font-size="26.5" text-anchor="middle" font-family='"Liberation Sans", sans-serif' >(c)</text>
<clipPath id="hcd"><rect x="95.75" y="622.21" width="15.34" height="53.59"/><rect x="111.09" y="588.1" width="15.34" height="87.7"/><rect x="126.43" y="549.13" width="15.34" height="126.67"/><rect x="141.78" y="529.64" width="15.34" height="146.16"/><rect x="157.12" y="558.87" width="15.34" height="116.93"/><rect x="172.46" y="554" width="15.34" height="121.8"/><rect x="187.81" y="602.72" width="15.34" height="73.08"/><rect x="203.15" y="578.36" width="15.34" height="97.44"/><rect x="218.49" y="588.1" width="15.34" height="87.7"/><rect x="233.83" y="622.21" width="15.34" height="53.59"/><rect x="249.17" y="646.57" width="15.34" height="29.23"/><rect x="264.52" y="656.31" width="15.34" height="19.49"/><rect x="279.86" y="651.44" width="15.34" height="24.36"/><rect x="295.2" y="656.31" width="15.34" height="19.49"/><rect x="310.54" y="661.18" width="15.34" height="14.62"/><rect x="325.89" y="671.9" width="15.34" height="3.9"/><rect x="341.23" y="666.06" width="15.34" height="9.74"/><rect x="356.57" y="666.06" width="15.34" height="9.74"/><rect x="371.91" y="670.93" width="15.34" height="4.87"/><rect x="387.26" y="670.93" width="15.34" height="4.87"/></clipPath>
<rect x="95.75" y="622.21" width="15.34" height="53.59" fill="#fce8e8"/>
<rect x="111.09" y="588.1" width="15.34" height="87.7" fill="#fce8e8"/>
<rect x="126.43" y="549.13" width="15.34" height="126.67" fill="#fce8e8"/>
<rect x="141.78" y="529.64" width="15.34" height="146.16" fill="#fce8e8"/>
<rect x="157.12" y="558.87" width="15.34" height="116.93" fill="#fce8e8"/>
<rect x="172.46" y="554" width="15.34" height="121.8" fill="#fce8e8"/>
<rect x="187.81" y="602.72" width="15.34" height="73.08" fill="#fce8e8"/>
<rect x="203.15" y="578.36" width="15.34" height="97.44" fill="#fce8e8"/>
<rect x="218.49" y="588.1" width="15.34" height="87.7" fill="#fce8e8"/>
<rect x="233.83" y="622.21" width="15.34" height="53.59" fill="#fce8e8"/>
<rect x="249.17" y="646.57" width="15.34" height="29.23" fill="#fce8e8"/>
<rect x="264.52" y="656.31" width="15.34" height="19.49" fill="#fce8e8"/>
<rect x="279.86" y="651.44" width="15.34" height="24.36" fill="#fce8e8"/>
<rect x="295.2" y="656.31" width="15.34" height="19.49" fill="#fce8e8"/>
<rect x="310.54" y="661.18" width="15.34" height="14.62" fill="#fce8e8"/>
<rect x="325.89" y="671.9" width="15.34" height="3.9" fill="#fce8e8"/>
<rect x="341.23" y="666.06" width="15.34" height="9.74" fill="#fce8e8"/>
<rect x="356.57" y="666.06" width="15.34" height="9.74" fill="#fce8e8"/>
<rect x="371.91" y="670.93" width="15.34" height="4.87" fill="#fce8e8"/>
<rect x="387.26" y="670.93" width="15.34" height="4.87" fill="#fce8e8"/>
<path clip-path="url(#hcd)" d="M-164,677.8L83.6,430.2M-160.45,677.8L87.15,430.2M-156.9,677.8L90.7,430.2M-153.35,677.8L94.25,430.2M-149.8,677.8L97.8,430.2M-146.25,677.8L101.35,430.2M-142.7,677.8L104.9,430.2M-139.15,677.8L108.45,430.2M-135.6,677.8L112,430.2M-132.05,677.8L115.55,430.2M-128.5,677.8L119.1,430.2M-124.95,677.8L122.65,430.2M-121.4,677.8L126.2,430.2M-117.85,677.8L129.75,430.2M-114.3,677.8L133.3,430.2M-110.75,677.8L136.85,430.2M-107.2,677.8L140.4,430.2M-103.65,677.8L143.95,430.2M-100.1,677.8L147.5,430.2M-96.55,677.8L151.05,430.2M-93,677.8L154.6,430.2M-89.45,677.8L158.15,430.2M-85.9,677.8L161.7,430.2M-82.35,677.8L165.25,430.2M-78.8,677.8L168.8,430.2M-75.25,677.8L172.35,430.2M-71.7,677.8L175.9,430.2M-68.15,677.8L179.45,430.2M-64.6,677.8L183,430.2M-61.05,677.8L186.55,430.2M-57.5,677.8L190.1,430.2M-53.95,677.8L193.65,430.2M-50.4,677.8L197.2,430.2M-46.85,677.8L200.75,430.2M-43.3,677.8L204.3,430.2M-39.75,677.8L207.85,430.2M-36.2,677.8L211.4,430.2M-32.65,677.8L214.95,430.2M-29.1,677.8L218.5,430.2M-25.55,677.8L222.05,430.2M-22,677.8L225.6,430.2M-18.45,677.8L229.15,430.2M-14.9,677.8L232.7,430.2M-11.35,677.8L236.25,430.2M-7.8,677.8L239.8,430.2M-4.25,677.8L243.35,430.2M-0.7,677.8L246.9,430.2M2.85,677.8L250.45,430.2M6.4,677.8L254,430.2M9.95,677.8L257.55,430.2M13.5,677.8L261.1,430.2M17.05,677.8L264.65,430.2M20.6,677.8L268.2,430.2M24.15,677.8L271.75,430.2M27.7,677.8L275.3,430.2M31.25,677.8L278.85,430.2M34.8,677.8L282.4,430.2M38.35,677.8L285.95,430.2M41.9,677.8L289.5,430.2M45.45,677.8L293.05,430.2M49,677.8L296.6,430.2M52.55,677.8L300.15,430.2M56.1,677.8L303.7,430.2M59.65,677.8L307.25,430.2M63.2,677.8L310.8,430.2M66.75,677.8L314.35,430.2M70.3,677.8L317.9,430.2M73.85,677.8L321.45,430.2M77.4,677.8L325,430.2M80.95,677.8L328.55,430.2M84.5,677.8L332.1,430.2M88.05,677.8L335.65,430.2M91.6,677.8L339.2,430.2M95.15,677.8L342.75,430.2M98.7,677.8L346.3,430.2M102.25,677.8L349.85,430.2M105.8,677.8L353.4,430.2M109.35,677.8L356.95,430.2M112.9,677.8L360.5,430.2M116.45,677.8L364.05,430.2M120,677.8L367.6,430.2M123.55,677.8L371.15,430.2M127.1,677.8L374.7,430.2M130.65,677.8L378.25,430.2M134.2,677.8L381.8,430.2M137.75,677.8L385.35,430.2M141.3,677.8L388.9,430.2M144.85,677.8L392.45,430.2M148.4,677.8L396,430.2M151.95,677.8L399.55,430.2M155.5,677.8L403.1,430.2M159.05,677.8L406.65,430.2M162.6,677.8L410.2,430.2M166.15,677.8L413.75,430.2M169.7,677.8L417.3,430.2M173.25,677.8L420.85,430.2M176.8,677.8L424.4,430.2M180.35,677.8L427.95,430.2M183.9,677.8L431.5,430.2M187.45,677.8L435.05,430.2M191,677.8L438.6,430.2M194.55,677.8L442.15,430.2M198.1,677.8L445.7,430.2M201.65,677.8L449.25,430.2M205.2,677.8L452.8,430.2M208.75,677.8L456.35,430.2M212.3,677.8L459.9,430.2M215.85,677.8L463.45,430.2M219.4,677.8L467,430.2M222.95,677.8L470.55,430.2M226.5,677.8L474.1,430.2M230.05,677.8L477.65,430.2M233.6,677.8L481.2,430.2M237.15,677.8L484.75,430.2M240.7,677.8L488.3,430.2M244.25,677.8L491.85,430.2M247.8,677.8L495.4,430.2M251.35,677.8L498.95,430.2M254.9,677.8L502.5,430.2M258.45,677.8L506.05,430.2M262,677.8L509.6,430.2M265.55,677.8L513.15,430.2M269.1,677.8L516.7,430.2M272.65,677.8L520.25,430.2M276.2,677.8L523.8,430.2M279.75,677.8L527.35,430.2M283.3,677.8L530.9,430.2M286.85,677.8L534.45,430.2M290.4,677.8L538,430.2M293.95,677.8L541.55,430.2M297.5,677.8L545.1,430.2M301.05,677.8L548.65,430.2M304.6,677.8L552.2,430.2M308.15,677.8L555.75,430.2M311.7,677.8L559.3,430.2M315.25,677.8L562.85,430.2M318.8,677.8L566.4,430.2M322.35,677.8L569.95,430.2M325.9,677.8L573.5,430.2M329.45,677.8L577.05,430.2M333,677.8L580.6,430.2M336.55,677.8L584.15,430.2M340.1,677.8L587.7,430.2M343.65,677.8L591.25,430.2M347.2,677.8L594.8,430.2M350.75,677.8L598.35,430.2M354.3,677.8L601.9,430.2M357.85,677.8L605.45,430.2M361.4,677.8L609,430.2M364.95,677.8L612.55,430.2M368.5,677.8L616.1,430.2M372.05,677.8L619.65,430.2M375.6,677.8L623.2,430.2M379.15,677.8L626.75,430.2M382.7,677.8L630.3,430.2M386.25,677.8L633.85,430.2M389.8,677.8L637.4,430.2M393.35,677.8L640.95,430.2M396.9,677.8L644.5,430.2M400.45,677.8L648.05,430.2M404,677.8L651.6,430.2" stroke="#aa9090" stroke-width="1.15" fill="none"/>
<rect x="95.75" y="622.21" width="15.34" height="53.59" fill="none" stroke="#c83a3e" stroke-width="1.5"/>
<rect x="111.09" y="588.1" width="15.34" height="87.7" fill="none" stroke="#c83a3e" stroke-width="1.5"/>
<rect x="126.43" y="549.13" width="15.34" height="126.67" fill="none" stroke="#c83a3e" stroke-width="1.5"/>
<rect x="141.78" y="529.64" width="15.34" height="146.16" fill="none" stroke="#c83a3e" stroke-width="1.5"/>
<rect x="157.12" y="558.87" width="15.34" height="116.93" fill="none" stroke="#c83a3e" stroke-width="1.5"/>
<rect x="172.46" y="554" width="15.34" height="121.8" fill="none" stroke="#c83a3e" stroke-width="1.5"/>
<rect x="187.81" y="602.72" width="15.34" height="73.08" fill="none" stroke="#c83a3e" stroke-width="1.5"/>
<rect x="203.15" y="578.36" width="15.34" height="97.44" fill="none" stroke="#c83a3e" stroke-width="1.5"/>
<rect x="218.49" y="588.1" width="15.34" height="87.7" fill="none" stroke="#c83a3e" stroke-width="1.5"/>
<rect x="233.83" y="622.21" width="15.34" height="53.59" fill="none" stroke="#c83a3e" stroke-width="1.5"/>
<rect x="249.17" y="646.57" width="15.34" height="29.23" fill="none" stroke="#c83a3e" stroke-width="1.5"/>
<rect x="264.52" y="656.31" width="15.34" height="19.49" fill="none" stroke="#c83a3e" stroke-width="1.5"/>
<rect x="279.86" y="651.44" width="15.34" height="24.36" fill="none" stroke="#c83a3e" stroke-width="1.5"/>
<rect x="295.2" y="656.31" width="15.34" height="19.49" fill="none" stroke="#c83a3e" stroke-width="1.5"/>
<rect x="310.54" y="661.18" width="15.34" height="14.62" fill="none" stroke="#c83a3e" stroke-width="1.5"/>
<rect x="325.89" y="671.9" width="15.34" height="3.9" fill="none" stroke="#c83a3e" stroke-width="1.5"/>
<rect x="341.23" y="666.06" width="15.34" height="9.74" fill="none" stroke="#c83a3e" stroke-width="1.5"/>
<rect x="356.57" y="666.06" width="15.34" height="9.74" fill="none" stroke="#c83a3e" stroke-width="1.5"/>
<rect x="371.91" y="670.93" width="15.34" height="4.87" fill="none" stroke="#c83a3e" stroke-width="1.5"/>
<rect x="387.26" y="670.93" width="15.34" height="4.87" fill="none" stroke="#c83a3e" stroke-width="1.5"/>
<polyline points="79.6,652.88 81.21,651.74 82.83,650.57 84.44,649.35 86.06,648.1 87.67,646.82 89.29,645.49 90.91,644.13 92.52,642.73 94.13,641.3 95.75,639.83 97.36,638.33 98.98,636.79 100.59,635.22 102.21,633.61 103.82,631.98 105.44,630.31 107.05,628.62 108.67,626.9 110.28,625.15 111.9,623.38 113.52,621.59 115.13,619.78 116.74,617.95 118.36,616.11 119.97,614.25 121.59,612.38 123.2,610.5 124.82,608.62 126.43,606.73 128.05,604.85 129.66,602.96 131.28,601.08 132.89,599.21 134.51,597.35 136.12,595.51 137.74,593.68 139.36,591.87 140.97,590.08 142.58,588.33 144.2,586.6 145.81,584.9 147.43,583.24 149.04,581.62 150.66,580.04 152.27,578.51 153.89,577.03 155.5,575.59 157.12,574.22 158.74,572.9 160.35,571.63 161.96,570.43 163.58,569.3 165.19,568.23 166.81,567.24 168.43,566.31 170.04,565.46 171.66,564.68 173.27,563.98 174.88,563.36 176.5,562.82 178.12,562.36 179.73,561.98 181.34,561.69 182.96,561.48 184.57,561.35 186.19,561.31 187.81,561.35 189.42,561.48 191.04,561.69 192.65,561.98 194.26,562.36 195.88,562.82 197.5,563.36 199.11,563.98 200.72,564.68 202.34,565.46 203.95,566.31 205.57,567.24 207.19,568.23 208.8,569.3 210.41,570.43 212.03,571.63 213.65,572.9 215.26,574.22 216.88,575.59 218.49,577.03 220.1,578.51 221.72,580.04 223.34,581.62 224.95,583.24 226.56,584.9 228.18,586.6 229.79,588.33 231.41,590.08 233.03,591.87 234.64,593.68 236.25,595.51 237.87,597.35 239.49,599.21 241.1,601.08 242.71,602.96 244.33,604.85 245.94,606.73 247.56,608.62 249.17,610.5 250.79,612.38 252.41,614.25 254.02,616.11 255.64,617.95 257.25,619.78 258.87,621.59 260.48,623.38 262.1,625.15 263.71,626.9 265.32,628.62 266.94,630.31 268.55,631.98 270.17,633.61 271.78,635.22 273.4,636.79 275.01,638.33 276.63,639.83 278.25,641.3 279.86,642.73 281.48,644.13 283.09,645.49 284.7,646.82 286.32,648.1 287.93,649.35 289.55,650.57 291.16,651.74 292.78,652.88 294.39,653.97 296.01,655.03 297.62,656.06 299.24,657.05 300.85,658 302.47,658.91 304.08,659.79 305.7,660.64 307.31,661.45 308.93,662.23 310.55,662.97 312.16,663.69 313.77,664.37 315.39,665.02 317,665.64 318.62,666.24 320.24,666.8 321.85,667.34 323.47,667.85 325.08,668.34 326.7,668.8 328.31,669.24 329.92,669.65 331.54,670.05 333.15,670.42 334.77,670.77 336.38,671.1 338,671.42 339.62,671.71 341.23,671.99 342.85,672.25 344.46,672.5 346.08,672.73 347.69,672.95 349.3,673.15 350.92,673.34 352.53,673.52 354.15,673.69 355.76,673.85 357.38,673.99 359,674.13 360.61,674.26 362.23,674.38 363.84,674.49 365.45,674.59 367.07,674.68 368.68,674.77 370.3,674.86 371.91,674.93 373.53,675 375.14,675.07 376.76,675.13 378.38,675.19 379.99,675.24 381.61,675.29 383.22,675.33 384.84,675.37 386.45,675.41 388.07,675.44 389.68,675.47 391.3,675.5 392.91,675.53 394.52,675.55 396.14,675.58 397.75,675.6 399.37,675.62 400.99,675.63 402.6,675.65" fill="none" stroke="#2222a8" stroke-width="2.6" stroke-linejoin="round"/>
<rect x="79.6" y="432.2" width="323" height="243.6" fill="none" stroke="#262626" stroke-width="2"/>
<line x1="79.6" y1="675.8" x2="79.6" y2="680.8" stroke="#262626" stroke-width="1.6"/>
<line x1="79.6" y1="432.2" x2="79.6" y2="437.2" stroke="#262626" stroke-width="1.6"/>
<line x1="111.9" y1="675.8" x2="111.9" y2="678.3" stroke="#262626" stroke-width="1.6"/>
<line x1="111.9" y1="432.2" x2="111.9" y2="434.7" stroke="#262626" stroke-width="1.6"/>
<line x1="144.2" y1="675.8" x2="144.2" y2="680.8" stroke="#262626" stroke-width="1.6"/>
<line x1="144.2" y1="432.2" x2="144.2" y2="437.2" stroke="#262626" stroke-width="1.6"/>
<line x1="176.5" y1="675.8" x2="176.5" y2="678.3" stroke="#262626" stroke-width="1.6"/>
<line x1="176.5" y1="432.2" x2="176.5" y2="434.7" stroke="#262626" stroke-width="1.6"/>
<line x1="208.8" y1="675.8" x2="208.8" y2="680.8" stroke="#262626" stroke-width="1.6"/>
<line x1="208.8" y1="432.2" x2="208.8" y2="437.2" stroke="#262626" stroke-width="1.6"/>
<line x1="241.1" y1="675.8" x2="241.1" y2="678.3" stroke="#262626" stroke-width="1.6"/>
<line x1="241.1" y1="432.2" x2="241.1" y2="434.7" stroke="#262626" stroke-width="1.6"/>
<line x1="273.4" y1="675.8" x2="273.4" y2="680.8" stroke="#262626" stroke-width="1.6"/>
<line x1="273.4" y1="432.2" x2="273.4" y2="437.2" stroke="#262626" stroke-width="1.6"/>
<line x1="305.7" y1="675.8" x2="305.7" y2="678.3" stroke="#262626" stroke-width="1.6"/>
<line x1="305.7" y1="432.2" x2="305.7" y2="434.7" stroke="#262626" stroke-width="1.6"/>
<line x1="338" y1="675.8" x2="338" y2="680.8" stroke="#262626" stroke-width="1.6"/>
<line x1="338" y1="432.2" x2="338" y2="437.2" stroke="#262626" stroke-width="1.6"/>
<line x1="370.3" y1="675.8" x2="370.3" y2="678.3" stroke="#262626" stroke-width="1.6"/>
<line x1="370.3" y1="432.2" x2="370.3" y2="434.7" stroke="#262626" stroke-width="1.6"/>
<line x1="402.6" y1="675.8" x2="402.6" y2="680.8" stroke="#262626" stroke-width="1.6"/>
<line x1="402.6" y1="432.2" x2="402.6" y2="437.2" stroke="#262626" stroke-width="1.6"/>
<line x1="74.6" y1="675.8" x2="79.6" y2="675.8" stroke="#262626" stroke-width="1.6"/>
<line x1="402.6" y1="675.8" x2="407.6" y2="675.8" stroke="#262626" stroke-width="1.6"/>
<line x1="77.1" y1="651.44" x2="79.6" y2="651.44" stroke="#262626" stroke-width="1.6"/>
<line x1="402.6" y1="651.44" x2="405.1" y2="651.44" stroke="#262626" stroke-width="1.6"/>
<line x1="74.6" y1="627.08" x2="79.6" y2="627.08" stroke="#262626" stroke-width="1.6"/>
<line x1="402.6" y1="627.08" x2="407.6" y2="627.08" stroke="#262626" stroke-width="1.6"/>
<line x1="77.1" y1="602.72" x2="79.6" y2="602.72" stroke="#262626" stroke-width="1.6"/>
<line x1="402.6" y1="602.72" x2="405.1" y2="602.72" stroke="#262626" stroke-width="1.6"/>
<line x1="74.6" y1="578.36" x2="79.6" y2="578.36" stroke="#262626" stroke-width="1.6"/>
<line x1="402.6" y1="578.36" x2="407.6" y2="578.36" stroke="#262626" stroke-width="1.6"/>
<line x1="77.1" y1="554" x2="79.6" y2="554" stroke="#262626" stroke-width="1.6"/>
<line x1="402.6" y1="554" x2="405.1" y2="554" stroke="#262626" stroke-width="1.6"/>
<line x1="74.6" y1="529.64" x2="79.6" y2="529.64" stroke="#262626" stroke-width="1.6"/>
<line x1="402.6" y1="529.64" x2="407.6" y2="529.64" stroke="#262626" stroke-width="1.6"/>
<line x1="77.1" y1="505.28" x2="79.6" y2="505.28" stroke="#262626" stroke-width="1.6"/>
<line x1="402.6" y1="505.28" x2="405.1" y2="505.28" stroke="#262626" stroke-width="1.6"/>
<line x1="74.6" y1="480.92" x2="79.6" y2="480.92" stroke="#262626" stroke-width="1.6"/>
<line x1="402.6" y1="480.92" x2="407.6" y2="480.92" stroke="#262626" stroke-width="1.6"/>
<line x1="77.1" y1="456.56" x2="79.6" y2="456.56" stroke="#262626" stroke-width="1.6"/>
<line x1="402.6" y1="456.56" x2="405.1" y2="456.56" stroke="#262626" stroke-width="1.6"/>
<line x1="74.6" y1="432.2" x2="79.6" y2="432.2" stroke="#262626" stroke-width="1.6"/>
<line x1="402.6" y1="432.2" x2="407.6" y2="432.2" stroke="#262626" stroke-width="1.6"/>
<text x="79.6" y="704.8" font-size="27" text-anchor="middle" font-family='"Liberation Serif", serif' >0</text>
<text x="144.2" y="704.8" font-size="27" text-anchor="middle" font-family='"Liberation Serif", serif' >2</text>
<text x="208.8" y="704.8" font-size="27" text-anchor="middle" font-family='"Liberation Serif", serif' >4</text>
<text x="273.4" y="704.8" font-size="27" text-anchor="middle" font-family='"Liberation Serif", serif' >6</text>
<text x="338" y="704.8" font-size="27" text-anchor="middle" font-family='"Liberation Serif", serif' >8</text>
<text x="402.6" y="704.8" font-size="27" text-anchor="middle" font-family='"Liberation Serif", serif' >10</text>
<text x="71.6" y="684.8" font-size="27" text-anchor="end" font-family='"Liberation Serif", serif' >0</text>
<text x="71.6" y="636.08" font-size="27" text-anchor="end" font-family='"Liberation Serif", serif' >10</text>
<text x="71.6" y="587.36" font-size="27" text-anchor="end" font-family='"Liberation Serif", serif' >20</text>
<text x="71.6" y="538.64" font-size="27" text-anchor="end" font-family='"Liberation Serif", serif' >30</text>
<text x="71.6" y="489.92" font-size="27" text-anchor="end" font-family='"Liberation Serif", serif' >40</text>
<text x="71.6" y="441.2" font-size="27" text-anchor="end" font-family='"Liberation Serif", serif' >50</text>
<text x="130.7" y="733.3" font-size="26.5" text-anchor="start" font-family='"Liberation Serif", serif' >Grain diametre (µm)</text>
<text transform="translate(36.5,552.5) rotate(-90)" font-size="26" font-family='"Liberation Serif", serif' text-anchor="middle">Frequency [%]</text>
<text x="136.5" y="469.5" font-size="31.2" font-family='"Liberation Serif", serif'>d<tspan font-size="20.7" dy="8">HCP</tspan><tspan dy="-8">= 3.3+0.16 µm</tspan></text>
<text x="137.5" y="507" font-size="30.5" text-anchor="start" font-family='"Liberation Serif", serif' >STD= 1.8</text>
<text x="195.5" y="763" font-size="27.5" text-anchor="middle" font-family='"Liberation Sans", sans-serif' >(d)</text>
<clipPath id="hce"><rect x="499.16" y="587.59" width="15.32" height="92.61"/><rect x="514.48" y="572.97" width="15.32" height="107.23"/><rect x="529.79" y="582.72" width="15.32" height="97.48"/><rect x="545.11" y="543.73" width="15.32" height="136.47"/><rect x="560.42" y="543.73" width="15.32" height="136.47"/><rect x="575.74" y="543.73" width="15.32" height="136.47"/><rect x="591.06" y="558.35" width="15.32" height="121.85"/><rect x="606.37" y="572.97" width="15.32" height="107.23"/><rect x="621.69" y="592.47" width="15.32" height="87.73"/><rect x="637" y="611.96" width="15.32" height="68.24"/><rect x="652.32" y="655.83" width="15.32" height="24.37"/><rect x="667.63" y="631.46" width="15.32" height="48.74"/><rect x="682.95" y="670.45" width="15.32" height="9.75"/><rect x="698.27" y="670.45" width="15.32" height="9.75"/><rect x="713.58" y="675.33" width="15.32" height="4.87"/><rect x="728.9" y="677.76" width="15.32" height="2.44"/><rect x="744.21" y="665.58" width="15.32" height="14.62"/><rect x="774.84" y="675.33" width="15.32" height="4.87"/></clipPath>
<rect x="499.16" y="587.59" width="15.32" height="92.61" fill="#fce8e8"/>
<rect x="514.48" y="572.97" width="15.32" height="107.23" fill="#fce8e8"/>
<rect x="529.79" y="582.72" width="15.32" height="97.48" fill="#fce8e8"/>
<rect x="545.11" y="543.73" width="15.32" height="136.47" fill="#fce8e8"/>
<rect x="560.42" y="543.73" width="15.32" height="136.47" fill="#fce8e8"/>
<rect x="575.74" y="543.73" width="15.32" height="136.47" fill="#fce8e8"/>
<rect x="591.06" y="558.35" width="15.32" height="121.85" fill="#fce8e8"/>
<rect x="606.37" y="572.97" width="15.32" height="107.23" fill="#fce8e8"/>
<rect x="621.69" y="592.47" width="15.32" height="87.73" fill="#fce8e8"/>
<rect x="637" y="611.96" width="15.32" height="68.24" fill="#fce8e8"/>
<rect x="652.32" y="655.83" width="15.32" height="24.37" fill="#fce8e8"/>
<rect x="667.63" y="631.46" width="15.32" height="48.74" fill="#fce8e8"/>
<rect x="682.95" y="670.45" width="15.32" height="9.75" fill="#fce8e8"/>
<rect x="698.27" y="670.45" width="15.32" height="9.75" fill="#fce8e8"/>
<rect x="713.58" y="675.33" width="15.32" height="4.87" fill="#fce8e8"/>
<rect x="728.9" y="677.76" width="15.32" height="2.44" fill="#fce8e8"/>
<rect x="744.21" y="665.58" width="15.32" height="14.62" fill="#fce8e8"/>
<rect x="774.84" y="675.33" width="15.32" height="4.87" fill="#fce8e8"/>
<path clip-path="url(#hce)" d="M238.3,682.2L486,434.5M241.85,682.2L489.55,434.5M245.4,682.2L493.1,434.5M248.95,682.2L496.65,434.5M252.5,682.2L500.2,434.5M256.05,682.2L503.75,434.5M259.6,682.2L507.3,434.5M263.15,682.2L510.85,434.5M266.7,682.2L514.4,434.5M270.25,682.2L517.95,434.5M273.8,682.2L521.5,434.5M277.35,682.2L525.05,434.5M280.9,682.2L528.6,434.5M284.45,682.2L532.15,434.5M288,682.2L535.7,434.5M291.55,682.2L539.25,434.5M295.1,682.2L542.8,434.5M298.65,682.2L546.35,434.5M302.2,682.2L549.9,434.5M305.75,682.2L553.45,434.5M309.3,682.2L557,434.5M312.85,682.2L560.55,434.5M316.4,682.2L564.1,434.5M319.95,682.2L567.65,434.5M323.5,682.2L571.2,434.5M327.05,682.2L574.75,434.5M330.6,682.2L578.3,434.5M334.15,682.2L581.85,434.5M337.7,682.2L585.4,434.5M341.25,682.2L588.95,434.5M344.8,682.2L592.5,434.5M348.35,682.2L596.05,434.5M351.9,682.2L599.6,434.5M355.45,682.2L603.15,434.5M359,682.2L606.7,434.5M362.55,682.2L610.25,434.5M366.1,682.2L613.8,434.5M369.65,682.2L617.35,434.5M373.2,682.2L620.9,434.5M376.75,682.2L624.45,434.5M380.3,682.2L628,434.5M383.85,682.2L631.55,434.5M387.4,682.2L635.1,434.5M390.95,682.2L638.65,434.5M394.5,682.2L642.2,434.5M398.05,682.2L645.75,434.5M401.6,682.2L649.3,434.5M405.15,682.2L652.85,434.5M408.7,682.2L656.4,434.5M412.25,682.2L659.95,434.5M415.8,682.2L663.5,434.5M419.35,682.2L667.05,434.5M422.9,682.2L670.6,434.5M426.45,682.2L674.15,434.5M430,682.2L677.7,434.5M433.55,682.2L681.25,434.5M437.1,682.2L684.8,434.5M440.65,682.2L688.35,434.5M444.2,682.2L691.9,434.5M447.75,682.2L695.45,434.5M451.3,682.2L699,434.5M454.85,682.2L702.55,434.5M458.4,682.2L706.1,434.5M461.95,682.2L709.65,434.5M465.5,682.2L713.2,434.5M469.05,682.2L716.75,434.5M472.6,682.2L720.3,434.5M476.15,682.2L723.85,434.5M479.7,682.2L727.4,434.5M483.25,682.2L730.95,434.5M486.8,682.2L734.5,434.5M490.35,682.2L738.05,434.5M493.9,682.2L741.6,434.5M497.45,682.2L745.15,434.5M501,682.2L748.7,434.5M504.55,682.2L752.25,434.5M508.1,682.2L755.8,434.5M511.65,682.2L759.35,434.5M515.2,682.2L762.9,434.5M518.75,682.2L766.45,434.5M522.3,682.2L770,434.5M525.85,682.2L773.55,434.5M529.4,682.2L777.1,434.5M532.95,682.2L780.65,434.5M536.5,682.2L784.2,434.5M540.05,682.2L787.75,434.5M543.6,682.2L791.3,434.5M547.15,682.2L794.85,434.5M550.7,682.2L798.4,434.5M554.25,682.2L801.95,434.5M557.8,682.2L805.5,434.5M561.35,682.2L809.05,434.5M564.9,682.2L812.6,434.5M568.45,682.2L816.15,434.5M572,682.2L819.7,434.5M575.55,682.2L823.25,434.5M579.1,682.2L826.8,434.5M582.65,682.2L830.35,434.5M586.2,682.2L833.9,434.5M589.75,682.2L837.45,434.5M593.3,682.2L841,434.5M596.85,682.2L844.55,434.5M600.4,682.2L848.1,434.5M603.95,682.2L851.65,434.5M607.5,682.2L855.2,434.5M611.05,682.2L858.75,434.5M614.6,682.2L862.3,434.5M618.15,682.2L865.85,434.5M621.7,682.2L869.4,434.5M625.25,682.2L872.95,434.5M628.8,682.2L876.5,434.5M632.35,682.2L880.05,434.5M635.9,682.2L883.6,434.5M639.45,682.2L887.15,434.5M643,682.2L890.7,434.5M646.55,682.2L894.25,434.5M650.1,682.2L897.8,434.5M653.65,682.2L901.35,434.5M657.2,682.2L904.9,434.5M660.75,682.2L908.45,434.5M664.3,682.2L912,434.5M667.85,682.2L915.55,434.5M671.4,682.2L919.1,434.5M674.95,682.2L922.65,434.5M678.5,682.2L926.2,434.5M682.05,682.2L929.75,434.5M685.6,682.2L933.3,434.5M689.15,682.2L936.85,434.5M692.7,682.2L940.4,434.5M696.25,682.2L943.95,434.5M699.8,682.2L947.5,434.5M703.35,682.2L951.05,434.5M706.9,682.2L954.6,434.5M710.45,682.2L958.15,434.5M714,682.2L961.7,434.5M717.55,682.2L965.25,434.5M721.1,682.2L968.8,434.5M724.65,682.2L972.35,434.5M728.2,682.2L975.9,434.5M731.75,682.2L979.45,434.5M735.3,682.2L983,434.5M738.85,682.2L986.55,434.5M742.4,682.2L990.1,434.5M745.95,682.2L993.65,434.5M749.5,682.2L997.2,434.5M753.05,682.2L1000.75,434.5M756.6,682.2L1004.3,434.5M760.15,682.2L1007.85,434.5M763.7,682.2L1011.4,434.5M767.25,682.2L1014.95,434.5M770.8,682.2L1018.5,434.5M774.35,682.2L1022.05,434.5M777.9,682.2L1025.6,434.5M781.45,682.2L1029.15,434.5M785,682.2L1032.7,434.5M788.55,682.2L1036.25,434.5M792.1,682.2L1039.8,434.5M795.65,682.2L1043.35,434.5M799.2,682.2L1046.9,434.5M802.75,682.2L1050.45,434.5M806.3,682.2L1054,434.5" stroke="#aa9090" stroke-width="1.15" fill="none"/>
<rect x="499.16" y="587.59" width="15.32" height="92.61" fill="none" stroke="#c83a3e" stroke-width="1.5"/>
<rect x="514.48" y="572.97" width="15.32" height="107.23" fill="none" stroke="#c83a3e" stroke-width="1.5"/>
<rect x="529.79" y="582.72" width="15.32" height="97.48" fill="none" stroke="#c83a3e" stroke-width="1.5"/>
<rect x="545.11" y="543.73" width="15.32" height="136.47" fill="none" stroke="#c83a3e" stroke-width="1.5"/>
<rect x="560.42" y="543.73" width="15.32" height="136.47" fill="none" stroke="#c83a3e" stroke-width="1.5"/>
<rect x="575.74" y="543.73" width="15.32" height="136.47" fill="none" stroke="#c83a3e" stroke-width="1.5"/>
<rect x="591.06" y="558.35" width="15.32" height="121.85" fill="none" stroke="#c83a3e" stroke-width="1.5"/>
<rect x="606.37" y="572.97" width="15.32" height="107.23" fill="none" stroke="#c83a3e" stroke-width="1.5"/>
<rect x="621.69" y="592.47" width="15.32" height="87.73" fill="none" stroke="#c83a3e" stroke-width="1.5"/>
<rect x="637" y="611.96" width="15.32" height="68.24" fill="none" stroke="#c83a3e" stroke-width="1.5"/>
<rect x="652.32" y="655.83" width="15.32" height="24.37" fill="none" stroke="#c83a3e" stroke-width="1.5"/>
<rect x="667.63" y="631.46" width="15.32" height="48.74" fill="none" stroke="#c83a3e" stroke-width="1.5"/>
<rect x="682.95" y="670.45" width="15.32" height="9.75" fill="none" stroke="#c83a3e" stroke-width="1.5"/>
<rect x="698.27" y="670.45" width="15.32" height="9.75" fill="none" stroke="#c83a3e" stroke-width="1.5"/>
<rect x="713.58" y="675.33" width="15.32" height="4.87" fill="none" stroke="#c83a3e" stroke-width="1.5"/>
<rect x="728.9" y="677.76" width="15.32" height="2.44" fill="none" stroke="#c83a3e" stroke-width="1.5"/>
<rect x="744.21" y="665.58" width="15.32" height="14.62" fill="none" stroke="#c83a3e" stroke-width="1.5"/>
<rect x="774.84" y="675.33" width="15.32" height="4.87" fill="none" stroke="#c83a3e" stroke-width="1.5"/>
<polyline points="482,656.45 483.62,655.17 485.24,653.83 486.86,652.45 488.48,651.02 490.1,649.54 491.71,648.01 493.33,646.43 494.95,644.81 496.57,643.14 498.19,641.42 499.81,639.65 501.43,637.84 503.05,635.99 504.67,634.09 506.28,632.15 507.9,630.17 509.52,628.15 511.14,626.1 512.76,624.01 514.38,621.89 516,619.73 517.62,617.55 519.24,615.35 520.86,613.12 522.48,610.87 524.09,608.61 525.71,606.33 527.33,604.05 528.95,601.76 530.57,599.46 532.19,597.17 533.81,594.89 535.43,592.61 537.05,590.35 538.66,588.1 540.28,585.87 541.9,583.68 543.52,581.51 545.14,579.38 546.76,577.28 548.38,575.23 550,573.23 551.62,571.27 553.24,569.38 554.86,567.54 556.47,565.77 558.09,564.07 559.71,562.43 561.33,560.88 562.95,559.4 564.57,558.01 566.19,556.7 567.81,555.48 569.43,554.35 571.04,553.32 572.66,552.38 574.28,551.54 575.9,550.81 577.52,550.18 579.14,549.65 580.76,549.23 582.38,548.91 584,548.71 585.62,548.61 587.24,548.62 588.85,548.74 590.47,548.97 592.09,549.3 593.71,549.75 595.33,550.29 596.95,550.95 598.57,551.7 600.19,552.56 601.81,553.52 603.42,554.57 605.04,555.71 606.66,556.95 608.28,558.28 609.9,559.69 611.52,561.18 613.14,562.75 614.76,564.4 616.38,566.12 618,567.9 619.62,569.75 621.23,571.66 622.85,573.62 624.47,575.64 626.09,577.7 627.71,579.8 629.33,581.94 630.95,584.11 632.57,586.32 634.19,588.55 635.8,590.8 637.42,593.06 639.04,595.34 640.66,597.63 642.28,599.92 643.9,602.22 645.52,604.51 647.14,606.79 648.76,609.06 650.38,611.32 652,613.57 653.61,615.79 655.23,617.99 656.85,620.17 658.47,622.31 660.09,624.43 661.71,626.51 663.33,628.56 664.95,630.57 666.57,632.54 668.18,634.47 669.8,636.36 671.42,638.21 673.04,640.01 674.66,641.77 676.28,643.48 677.9,645.14 679.52,646.75 681.14,648.32 682.76,649.84 684.38,651.31 685.99,652.73 687.61,654.1 689.23,655.43 690.85,656.71 692.47,657.93 694.09,659.12 695.71,660.25 697.33,661.34 698.95,662.39 700.56,663.39 702.18,664.35 703.8,665.27 705.42,666.14 707.04,666.98 708.66,667.77 710.28,668.53 711.9,669.25 713.52,669.93 715.14,670.58 716.75,671.2 718.37,671.78 719.99,672.33 721.61,672.85 723.23,673.35 724.85,673.81 726.47,674.25 728.09,674.66 729.71,675.05 731.33,675.42 732.94,675.76 734.56,676.08 736.18,676.38 737.8,676.67 739.42,676.93 741.04,677.18 742.66,677.41 744.28,677.62 745.9,677.82 747.52,678.01 749.13,678.18 750.75,678.34 752.37,678.49 753.99,678.63 755.61,678.76 757.23,678.88 758.85,678.99 760.47,679.1 762.09,679.19 763.71,679.28 765.32,679.36 766.94,679.43 768.56,679.5 770.18,679.56 771.8,679.62 773.42,679.67 775.04,679.72 776.66,679.76 778.28,679.8 779.9,679.84 781.51,679.88 783.13,679.91 784.75,679.93 786.37,679.96 787.99,679.98 789.61,680 791.23,680.02 792.85,680.04 794.47,680.06 796.09,680.07 797.7,680.08 799.32,680.1 800.94,680.11 802.56,680.12 804.18,680.13 805.8,680.13" fill="none" stroke="#2222a8" stroke-width="2.6" stroke-linejoin="round"/>
<rect x="482" y="436.5" width="323.8" height="243.7" fill="none" stroke="#262626" stroke-width="2"/>
<line x1="482" y1="680.2" x2="482" y2="685.2" stroke="#262626" stroke-width="1.6"/>
<line x1="482" y1="436.5" x2="482" y2="441.5" stroke="#262626" stroke-width="1.6"/>
<line x1="514.38" y1="680.2" x2="514.38" y2="682.7" stroke="#262626" stroke-width="1.6"/>
<line x1="514.38" y1="436.5" x2="514.38" y2="439" stroke="#262626" stroke-width="1.6"/>
<line x1="546.76" y1="680.2" x2="546.76" y2="685.2" stroke="#262626" stroke-width="1.6"/>
<line x1="546.76" y1="436.5" x2="546.76" y2="441.5" stroke="#262626" stroke-width="1.6"/>
<line x1="579.14" y1="680.2" x2="579.14" y2="682.7" stroke="#262626" stroke-width="1.6"/>
<line x1="579.14" y1="436.5" x2="579.14" y2="439" stroke="#262626" stroke-width="1.6"/>
<line x1="611.52" y1="680.2" x2="611.52" y2="685.2" stroke="#262626" stroke-width="1.6"/>
<line x1="611.52" y1="436.5" x2="611.52" y2="441.5" stroke="#262626" stroke-width="1.6"/>
<line x1="643.9" y1="680.2" x2="643.9" y2="682.7" stroke="#262626" stroke-width="1.6"/>
<line x1="643.9" y1="436.5" x2="643.9" y2="439" stroke="#262626" stroke-width="1.6"/>
<line x1="676.28" y1="680.2" x2="676.28" y2="685.2" stroke="#262626" stroke-width="1.6"/>
<line x1="676.28" y1="436.5" x2="676.28" y2="441.5" stroke="#262626" stroke-width="1.6"/>
<line x1="708.66" y1="680.2" x2="708.66" y2="682.7" stroke="#262626" stroke-width="1.6"/>
<line x1="708.66" y1="436.5" x2="708.66" y2="439" stroke="#262626" stroke-width="1.6"/>
<line x1="741.04" y1="680.2" x2="741.04" y2="685.2" stroke="#262626" stroke-width="1.6"/>
<line x1="741.04" y1="436.5" x2="741.04" y2="441.5" stroke="#262626" stroke-width="1.6"/>
<line x1="773.42" y1="680.2" x2="773.42" y2="682.7" stroke="#262626" stroke-width="1.6"/>
<line x1="773.42" y1="436.5" x2="773.42" y2="439" stroke="#262626" stroke-width="1.6"/>
<line x1="805.8" y1="680.2" x2="805.8" y2="685.2" stroke="#262626" stroke-width="1.6"/>
<line x1="805.8" y1="436.5" x2="805.8" y2="441.5" stroke="#262626" stroke-width="1.6"/>
<line x1="477" y1="680.2" x2="482" y2="680.2" stroke="#262626" stroke-width="1.6"/>
<line x1="805.8" y1="680.2" x2="810.8" y2="680.2" stroke="#262626" stroke-width="1.6"/>
<line x1="479.5" y1="655.83" x2="482" y2="655.83" stroke="#262626" stroke-width="1.6"/>
<line x1="805.8" y1="655.83" x2="808.3" y2="655.83" stroke="#262626" stroke-width="1.6"/>
<line x1="477" y1="631.46" x2="482" y2="631.46" stroke="#262626" stroke-width="1.6"/>
<line x1="805.8" y1="631.46" x2="810.8" y2="631.46" stroke="#262626" stroke-width="1.6"/>
<line x1="479.5" y1="607.09" x2="482" y2="607.09" stroke="#262626" stroke-width="1.6"/>
<line x1="805.8" y1="607.09" x2="808.3" y2="607.09" stroke="#262626" stroke-width="1.6"/>
<line x1="477" y1="582.72" x2="482" y2="582.72" stroke="#262626" stroke-width="1.6"/>
<line x1="805.8" y1="582.72" x2="810.8" y2="582.72" stroke="#262626" stroke-width="1.6"/>
<line x1="479.5" y1="558.35" x2="482" y2="558.35" stroke="#262626" stroke-width="1.6"/>
<line x1="805.8" y1="558.35" x2="808.3" y2="558.35" stroke="#262626" stroke-width="1.6"/>
<line x1="477" y1="533.98" x2="482" y2="533.98" stroke="#262626" stroke-width="1.6"/>
<line x1="805.8" y1="533.98" x2="810.8" y2="533.98" stroke="#262626" stroke-width="1.6"/>
<line x1="479.5" y1="509.61" x2="482" y2="509.61" stroke="#262626" stroke-width="1.6"/>
<line x1="805.8" y1="509.61" x2="808.3" y2="509.61" stroke="#262626" stroke-width="1.6"/>
<line x1="477" y1="485.24" x2="482" y2="485.24" stroke="#262626" stroke-width="1.6"/>
<line x1="805.8" y1="485.24" x2="810.8" y2="485.24" stroke="#262626" stroke-width="1.6"/>
<line x1="479.5" y1="460.87" x2="482" y2="460.87" stroke="#262626" stroke-width="1.6"/>
<line x1="805.8" y1="460.87" x2="808.3" y2="460.87" stroke="#262626" stroke-width="1.6"/>
<line x1="477" y1="436.5" x2="482" y2="436.5" stroke="#262626" stroke-width="1.6"/>
<line x1="805.8" y1="436.5" x2="810.8" y2="436.5" stroke="#262626" stroke-width="1.6"/>
<text x="482" y="709.2" font-size="27" text-anchor="middle" font-family='"Liberation Serif", serif' >0</text>
<text x="546.76" y="709.2" font-size="27" text-anchor="middle" font-family='"Liberation Serif", serif' >2</text>
<text x="611.52" y="709.2" font-size="27" text-anchor="middle" font-family='"Liberation Serif", serif' >4</text>
<text x="676.28" y="709.2" font-size="27" text-anchor="middle" font-family='"Liberation Serif", serif' >6</text>
<text x="741.04" y="709.2" font-size="27" text-anchor="middle" font-family='"Liberation Serif", serif' >8</text>
<text x="805.8" y="709.2" font-size="27" text-anchor="middle" font-family='"Liberation Serif", serif' >10</text>
<text x="474" y="689.2" font-size="27" text-anchor="end" font-family='"Liberation Serif", serif' >0</text>
<text x="474" y="640.46" font-size="27" text-anchor="end" font-family='"Liberation Serif", serif' >10</text>
<text x="474" y="591.72" font-size="27" text-anchor="end" font-family='"Liberation Serif", serif' >20</text>
<text x="474" y="542.98" font-size="27" text-anchor="end" font-family='"Liberation Serif", serif' >30</text>
<text x="474" y="494.24" font-size="27" text-anchor="end" font-family='"Liberation Serif", serif' >40</text>
<text x="474" y="445.5" font-size="27" text-anchor="end" font-family='"Liberation Serif", serif' >50</text>
<text x="534.2" y="738" font-size="26.5" text-anchor="start" font-family='"Liberation Serif", serif' >Grain diametre (µm)</text>
<text transform="translate(439.8,556) rotate(-90)" font-size="26" font-family='"Liberation Serif", serif' text-anchor="middle">Frequency [%]</text>
<text x="557.3" y="471.3" font-size="31.2" font-family='"Liberation Serif", serif'>d<tspan font-size="20.7" dy="8">HCP</tspan><tspan dy="-8">= 3.2+0.11 µm</tspan></text>
<text x="570" y="512.8" font-size="30.5" text-anchor="start" font-family='"Liberation Serif", serif' >STD= 1.7</text>
<text x="619" y="763.5" font-size="27.5" text-anchor="middle" font-family='"Liberation Sans", sans-serif' >(e)</text>
<clipPath id="hcf"><rect x="910.16" y="612.04" width="15.34" height="68.26"/><rect x="925.5" y="582.78" width="15.34" height="97.52"/><rect x="940.85" y="543.77" width="15.34" height="136.53"/><rect x="956.19" y="490.14" width="15.34" height="190.16"/><rect x="971.53" y="504.76" width="15.34" height="175.54"/><rect x="986.88" y="563.28" width="15.34" height="117.02"/><rect x="1002.22" y="597.41" width="15.34" height="82.89"/><rect x="1017.56" y="568.15" width="15.34" height="112.15"/><rect x="1032.91" y="597.41" width="15.34" height="82.89"/><rect x="1048.25" y="636.42" width="15.34" height="43.88"/><rect x="1063.6" y="646.17" width="15.34" height="34.13"/><rect x="1078.94" y="655.92" width="15.34" height="24.38"/><rect x="1094.28" y="655.92" width="15.34" height="24.38"/><rect x="1109.63" y="675.42" width="15.34" height="4.88"/><rect x="1124.97" y="660.8" width="15.34" height="19.5"/><rect x="1140.31" y="660.8" width="15.34" height="19.5"/><rect x="1171" y="675.42" width="15.34" height="4.88"/><rect x="1186.34" y="675.42" width="15.34" height="4.88"/></clipPath>
<rect x="910.16" y="612.04" width="15.34" height="68.26" fill="#fce8e8"/>
<rect x="925.5" y="582.78" width="15.34" height="97.52" fill="#fce8e8"/>
<rect x="940.85" y="543.77" width="15.34" height="136.53" fill="#fce8e8"/>
<rect x="956.19" y="490.14" width="15.34" height="190.16" fill="#fce8e8"/>
<rect x="971.53" y="504.76" width="15.34" height="175.54" fill="#fce8e8"/>
<rect x="986.88" y="563.28" width="15.34" height="117.02" fill="#fce8e8"/>
<rect x="1002.22" y="597.41" width="15.34" height="82.89" fill="#fce8e8"/>
<rect x="1017.56" y="568.15" width="15.34" height="112.15" fill="#fce8e8"/>
<rect x="1032.91" y="597.41" width="15.34" height="82.89" fill="#fce8e8"/>
<rect x="1048.25" y="636.42" width="15.34" height="43.88" fill="#fce8e8"/>
<rect x="1063.6" y="646.17" width="15.34" height="34.13" fill="#fce8e8"/>
<rect x="1078.94" y="655.92" width="15.34" height="24.38" fill="#fce8e8"/>
<rect x="1094.28" y="655.92" width="15.34" height="24.38" fill="#fce8e8"/>
<rect x="1109.63" y="675.42" width="15.34" height="4.88" fill="#fce8e8"/>
<rect x="1124.97" y="660.8" width="15.34" height="19.5" fill="#fce8e8"/>
<rect x="1140.31" y="660.8" width="15.34" height="19.5" fill="#fce8e8"/>
<rect x="1171" y="675.42" width="15.34" height="4.88" fill="#fce8e8"/>
<rect x="1186.34" y="675.42" width="15.34" height="4.88" fill="#fce8e8"/>
<path clip-path="url(#hcf)" d="M650.5,682.3L898.3,434.5M654.05,682.3L901.85,434.5M657.6,682.3L905.4,434.5M661.15,682.3L908.95,434.5M664.7,682.3L912.5,434.5M668.25,682.3L916.05,434.5M671.8,682.3L919.6,434.5M675.35,682.3L923.15,434.5M678.9,682.3L926.7,434.5M682.45,682.3L930.25,434.5M686,682.3L933.8,434.5M689.55,682.3L937.35,434.5M693.1,682.3L940.9,434.5M696.65,682.3L944.45,434.5M700.2,682.3L948,434.5M703.75,682.3L951.55,434.5M707.3,682.3L955.1,434.5M710.85,682.3L958.65,434.5M714.4,682.3L962.2,434.5M717.95,682.3L965.75,434.5M721.5,682.3L969.3,434.5M725.05,682.3L972.85,434.5M728.6,682.3L976.4,434.5M732.15,682.3L979.95,434.5M735.7,682.3L983.5,434.5M739.25,682.3L987.05,434.5M742.8,682.3L990.6,434.5M746.35,682.3L994.15,434.5M749.9,682.3L997.7,434.5M753.45,682.3L1001.25,434.5M757,682.3L1004.8,434.5M760.55,682.3L1008.35,434.5M764.1,682.3L1011.9,434.5M767.65,682.3L1015.45,434.5M771.2,682.3L1019,434.5M774.75,682.3L1022.55,434.5M778.3,682.3L1026.1,434.5M781.85,682.3L1029.65,434.5M785.4,682.3L1033.2,434.5M788.95,682.3L1036.75,434.5M792.5,682.3L1040.3,434.5M796.05,682.3L1043.85,434.5M799.6,682.3L1047.4,434.5M803.15,682.3L1050.95,434.5M806.7,682.3L1054.5,434.5M810.25,682.3L1058.05,434.5M813.8,682.3L1061.6,434.5M817.35,682.3L1065.15,434.5M820.9,682.3L1068.7,434.5M824.45,682.3L1072.25,434.5M828,682.3L1075.8,434.5M831.55,682.3L1079.35,434.5M835.1,682.3L1082.9,434.5M838.65,682.3L1086.45,434.5M842.2,682.3L1090,434.5M845.75,682.3L1093.55,434.5M849.3,682.3L1097.1,434.5M852.85,682.3L1100.65,434.5M856.4,682.3L1104.2,434.5M859.95,682.3L1107.75,434.5M863.5,682.3L1111.3,434.5M867.05,682.3L1114.85,434.5M870.6,682.3L1118.4,434.5M874.15,682.3L1121.95,434.5M877.7,682.3L1125.5,434.5M881.25,682.3L1129.05,434.5M884.8,682.3L1132.6,434.5M888.35,682.3L1136.15,434.5M891.9,682.3L1139.7,434.5M895.45,682.3L1143.25,434.5M899,682.3L1146.8,434.5M902.55,682.3L1150.35,434.5M906.1,682.3L1153.9,434.5M909.65,682.3L1157.45,434.5M913.2,682.3L1161,434.5M916.75,682.3L1164.55,434.5M920.3,682.3L1168.1,434.5M923.85,682.3L1171.65,434.5M927.4,682.3L1175.2,434.5M930.95,682.3L1178.75,434.5M934.5,682.3L1182.3,434.5M938.05,682.3L1185.85,434.5M941.6,682.3L1189.4,434.5M945.15,682.3L1192.95,434.5M948.7,682.3L1196.5,434.5M952.25,682.3L1200.05,434.5M955.8,682.3L1203.6,434.5M959.35,682.3L1207.15,434.5M962.9,682.3L1210.7,434.5M966.45,682.3L1214.25,434.5M970,682.3L1217.8,434.5M973.55,682.3L1221.35,434.5M977.1,682.3L1224.9,434.5M980.65,682.3L1228.45,434.5M984.2,682.3L1232,434.5M987.75,682.3L1235.55,434.5M991.3,682.3L1239.1,434.5M994.85,682.3L1242.65,434.5M998.4,682.3L1246.2,434.5M1001.95,682.3L1249.75,434.5M1005.5,682.3L1253.3,434.5M1009.05,682.3L1256.85,434.5M1012.6,682.3L1260.4,434.5M1016.15,682.3L1263.95,434.5M1019.7,682.3L1267.5,434.5M1023.25,682.3L1271.05,434.5M1026.8,682.3L1274.6,434.5M1030.35,682.3L1278.15,434.5M1033.9,682.3L1281.7,434.5M1037.45,682.3L1285.25,434.5M1041,682.3L1288.8,434.5M1044.55,682.3L1292.35,434.5M1048.1,682.3L1295.9,434.5M1051.65,682.3L1299.45,434.5M1055.2,682.3L1303,434.5M1058.75,682.3L1306.55,434.5M1062.3,682.3L1310.1,434.5M1065.85,682.3L1313.65,434.5M1069.4,682.3L1317.2,434.5M1072.95,682.3L1320.75,434.5M1076.5,682.3L1324.3,434.5M1080.05,682.3L1327.85,434.5M1083.6,682.3L1331.4,434.5M1087.15,682.3L1334.95,434.5M1090.7,682.3L1338.5,434.5M1094.25,682.3L1342.05,434.5M1097.8,682.3L1345.6,434.5M1101.35,682.3L1349.15,434.5M1104.9,682.3L1352.7,434.5M1108.45,682.3L1356.25,434.5M1112,682.3L1359.8,434.5M1115.55,682.3L1363.35,434.5M1119.1,682.3L1366.9,434.5M1122.65,682.3L1370.45,434.5M1126.2,682.3L1374,434.5M1129.75,682.3L1377.55,434.5M1133.3,682.3L1381.1,434.5M1136.85,682.3L1384.65,434.5M1140.4,682.3L1388.2,434.5M1143.95,682.3L1391.75,434.5M1147.5,682.3L1395.3,434.5M1151.05,682.3L1398.85,434.5M1154.6,682.3L1402.4,434.5M1158.15,682.3L1405.95,434.5M1161.7,682.3L1409.5,434.5M1165.25,682.3L1413.05,434.5M1168.8,682.3L1416.6,434.5M1172.35,682.3L1420.15,434.5M1175.9,682.3L1423.7,434.5M1179.45,682.3L1427.25,434.5M1183,682.3L1430.8,434.5M1186.55,682.3L1434.35,434.5M1190.1,682.3L1437.9,434.5M1193.65,682.3L1441.45,434.5M1197.2,682.3L1445,434.5M1200.75,682.3L1448.55,434.5M1204.3,682.3L1452.1,434.5M1207.85,682.3L1455.65,434.5M1211.4,682.3L1459.2,434.5M1214.95,682.3L1462.75,434.5M1218.5,682.3L1466.3,434.5" stroke="#aa9090" stroke-width="1.15" fill="none"/>
<rect x="910.16" y="612.04" width="15.34" height="68.26" fill="none" stroke="#c83a3e" stroke-width="1.5"/>
<rect x="925.5" y="582.78" width="15.34" height="97.52" fill="none" stroke="#c83a3e" stroke-width="1.5"/>
<rect x="940.85" y="543.77" width="15.34" height="136.53" fill="none" stroke="#c83a3e" stroke-width="1.5"/>
<rect x="956.19" y="490.14" width="15.34" height="190.16" fill="none" stroke="#c83a3e" stroke-width="1.5"/>
<rect x="971.53" y="504.76" width="15.34" height="175.54" fill="none" stroke="#c83a3e" stroke-width="1.5"/>
<rect x="986.88" y="563.28" width="15.34" height="117.02" fill="none" stroke="#c83a3e" stroke-width="1.5"/>
<rect x="1002.22" y="597.41" width="15.34" height="82.89" fill="none" stroke="#c83a3e" stroke-width="1.5"/>
<rect x="1017.56" y="568.15" width="15.34" height="112.15" fill="none" stroke="#c83a3e" stroke-width="1.5"/>
<rect x="1032.91" y="597.41" width="15.34" height="82.89" fill="none" stroke="#c83a3e" stroke-width="1.5"/>
<rect x="1048.25" y="636.42" width="15.34" height="43.88" fill="none" stroke="#c83a3e" stroke-width="1.5"/>
<rect x="1063.6" y="646.17" width="15.34" height="34.13" fill="none" stroke="#c83a3e" stroke-width="1.5"/>
<rect x="1078.94" y="655.92" width="15.34" height="24.38" fill="none" stroke="#c83a3e" stroke-width="1.5"/>
<rect x="1094.28" y="655.92" width="15.34" height="24.38" fill="none" stroke="#c83a3e" stroke-width="1.5"/>
<rect x="1109.63" y="675.42" width="15.34" height="4.88" fill="none" stroke="#c83a3e" stroke-width="1.5"/>
<rect x="1124.97" y="660.8" width="15.34" height="19.5" fill="none" stroke="#c83a3e" stroke-width="1.5"/>
<rect x="1140.31" y="660.8" width="15.34" height="19.5" fill="none" stroke="#c83a3e" stroke-width="1.5"/>
<rect x="1171" y="675.42" width="15.34" height="4.88" fill="none" stroke="#c83a3e" stroke-width="1.5"/>
<rect x="1186.34" y="675.42" width="15.34" height="4.88" fill="none" stroke="#c83a3e" stroke-width="1.5"/>
<polyline points="894.3,655.99 895.92,654.61 897.54,653.17 899.16,651.68 900.77,650.14 902.39,648.54 904.01,646.89 905.63,645.18 907.25,643.42 908.87,641.6 910.48,639.73 912.1,637.81 913.72,635.83 915.34,633.8 916.96,631.73 918.58,629.61 920.2,627.44 921.81,625.22 923.43,622.97 925.05,620.67 926.67,618.34 928.29,615.98 929.91,613.58 931.53,611.16 933.14,608.71 934.76,606.24 936.38,603.75 938,601.25 939.62,598.74 941.24,596.22 942.86,593.7 944.47,591.19 946.09,588.69 947.71,586.19 949.33,583.72 950.95,581.27 952.57,578.84 954.18,576.45 955.8,574.1 957.42,571.79 959.04,569.52 960.66,567.32 962.28,565.16 963.9,563.07 965.51,561.05 967.13,559.1 968.75,557.23 970.37,555.44 971.99,553.74 973.61,552.13 975.22,550.61 976.84,549.19 978.46,547.87 980.08,546.65 981.7,545.55 983.32,544.55 984.94,543.67 986.55,542.91 988.17,542.26 989.79,541.74 991.41,541.33 993.03,541.05 994.65,540.89 996.27,540.85 997.88,540.94 999.5,541.15 1001.12,541.48 1002.74,541.93 1004.36,542.51 1005.98,543.2 1007.6,544.01 1009.21,544.94 1010.83,545.98 1012.45,547.13 1014.07,548.38 1015.69,549.74 1017.31,551.2 1018.92,552.76 1020.54,554.41 1022.16,556.15 1023.78,557.97 1025.4,559.87 1027.02,561.85 1028.64,563.9 1030.25,566.02 1031.87,568.19 1033.49,570.42 1035.11,572.71 1036.73,575.03 1038.35,577.4 1039.96,579.81 1041.58,582.24 1043.2,584.71 1044.82,587.19 1046.44,589.69 1048.06,592.19 1049.68,594.71 1051.29,597.23 1052.91,599.74 1054.53,602.25 1056.15,604.75 1057.77,607.23 1059.39,609.69 1061.01,612.13 1062.62,614.54 1064.24,616.93 1065.86,619.28 1067.48,621.6 1069.1,623.88 1070.72,626.11 1072.34,628.31 1073.95,630.46 1075.57,632.56 1077.19,634.62 1078.81,636.63 1080.43,638.58 1082.05,640.48 1083.66,642.33 1085.28,644.13 1086.9,645.87 1088.52,647.56 1090.14,649.19 1091.76,650.76 1093.38,652.29 1094.99,653.75 1096.61,655.16 1098.23,656.52 1099.85,657.83 1101.47,659.08 1103.09,660.28 1104.7,661.43 1106.32,662.53 1107.94,663.57 1109.56,664.58 1111.18,665.53 1112.8,666.44 1114.42,667.3 1116.03,668.13 1117.65,668.9 1119.27,669.64 1120.89,670.34 1122.51,671.01 1124.13,671.63 1125.75,672.22 1127.36,672.78 1128.98,673.3 1130.6,673.8 1132.22,674.26 1133.84,674.7 1135.46,675.11 1137.08,675.49 1138.69,675.85 1140.31,676.19 1141.93,676.5 1143.55,676.8 1145.17,677.07 1146.79,677.32 1148.4,677.56 1150.02,677.78 1151.64,677.99 1153.26,678.18 1154.88,678.35 1156.5,678.51 1158.12,678.67 1159.73,678.81 1161.35,678.93 1162.97,679.05 1164.59,679.16 1166.21,679.26 1167.83,679.36 1169.44,679.44 1171.06,679.52 1172.68,679.59 1174.3,679.66 1175.92,679.72 1177.54,679.77 1179.16,679.82 1180.77,679.87 1182.39,679.91 1184.01,679.95 1185.63,679.98 1187.25,680.01 1188.87,680.04 1190.49,680.07 1192.1,680.09 1193.72,680.11 1195.34,680.13 1196.96,680.15 1198.58,680.17 1200.2,680.18 1201.82,680.19 1203.43,680.2 1205.05,680.21 1206.67,680.22 1208.29,680.23 1209.91,680.24 1211.53,680.25 1213.14,680.25 1214.76,680.26 1216.38,680.26 1218,680.27" fill="none" stroke="#2222a8" stroke-width="2.6" stroke-linejoin="round"/>
<rect x="894.3" y="436.5" width="323.7" height="243.8" fill="none" stroke="#262626" stroke-width="2"/>
<line x1="894.3" y1="680.3" x2="894.3" y2="685.3" stroke="#262626" stroke-width="1.6"/>
<line x1="894.3" y1="436.5" x2="894.3" y2="441.5" stroke="#262626" stroke-width="1.6"/>
<line x1="926.67" y1="680.3" x2="926.67" y2="682.8" stroke="#262626" stroke-width="1.6"/>
<line x1="926.67" y1="436.5" x2="926.67" y2="439" stroke="#262626" stroke-width="1.6"/>
<line x1="959.04" y1="680.3" x2="959.04" y2="685.3" stroke="#262626" stroke-width="1.6"/>
<line x1="959.04" y1="436.5" x2="959.04" y2="441.5" stroke="#262626" stroke-width="1.6"/>
<line x1="991.41" y1="680.3" x2="991.41" y2="682.8" stroke="#262626" stroke-width="1.6"/>
<line x1="991.41" y1="436.5" x2="991.41" y2="439" stroke="#262626" stroke-width="1.6"/>
<line x1="1023.78" y1="680.3" x2="1023.78" y2="685.3" stroke="#262626" stroke-width="1.6"/>
<line x1="1023.78" y1="436.5" x2="1023.78" y2="441.5" stroke="#262626" stroke-width="1.6"/>
<line x1="1056.15" y1="680.3" x2="1056.15" y2="682.8" stroke="#262626" stroke-width="1.6"/>
<line x1="1056.15" y1="436.5" x2="1056.15" y2="439" stroke="#262626" stroke-width="1.6"/>
<line x1="1088.52" y1="680.3" x2="1088.52" y2="685.3" stroke="#262626" stroke-width="1.6"/>
<line x1="1088.52" y1="436.5" x2="1088.52" y2="441.5" stroke="#262626" stroke-width="1.6"/>
<line x1="1120.89" y1="680.3" x2="1120.89" y2="682.8" stroke="#262626" stroke-width="1.6"/>
<line x1="1120.89" y1="436.5" x2="1120.89" y2="439" stroke="#262626" stroke-width="1.6"/>
<line x1="1153.26" y1="680.3" x2="1153.26" y2="685.3" stroke="#262626" stroke-width="1.6"/>
<line x1="1153.26" y1="436.5" x2="1153.26" y2="441.5" stroke="#262626" stroke-width="1.6"/>
<line x1="1185.63" y1="680.3" x2="1185.63" y2="682.8" stroke="#262626" stroke-width="1.6"/>
<line x1="1185.63" y1="436.5" x2="1185.63" y2="439" stroke="#262626" stroke-width="1.6"/>
<line x1="1218" y1="680.3" x2="1218" y2="685.3" stroke="#262626" stroke-width="1.6"/>
<line x1="1218" y1="436.5" x2="1218" y2="441.5" stroke="#262626" stroke-width="1.6"/>
<line x1="889.3" y1="680.3" x2="894.3" y2="680.3" stroke="#262626" stroke-width="1.6"/>
<line x1="1218" y1="680.3" x2="1223" y2="680.3" stroke="#262626" stroke-width="1.6"/>
<line x1="891.8" y1="655.92" x2="894.3" y2="655.92" stroke="#262626" stroke-width="1.6"/>
<line x1="1218" y1="655.92" x2="1220.5" y2="655.92" stroke="#262626" stroke-width="1.6"/>
<line x1="889.3" y1="631.54" x2="894.3" y2="631.54" stroke="#262626" stroke-width="1.6"/>
<line x1="1218" y1="631.54" x2="1223" y2="631.54" stroke="#262626" stroke-width="1.6"/>
<line x1="891.8" y1="607.16" x2="894.3" y2="607.16" stroke="#262626" stroke-width="1.6"/>
<line x1="1218" y1="607.16" x2="1220.5" y2="607.16" stroke="#262626" stroke-width="1.6"/>
<line x1="889.3" y1="582.78" x2="894.3" y2="582.78" stroke="#262626" stroke-width="1.6"/>
<line x1="1218" y1="582.78" x2="1223" y2="582.78" stroke="#262626" stroke-width="1.6"/>
<line x1="891.8" y1="558.4" x2="894.3" y2="558.4" stroke="#262626" stroke-width="1.6"/>
<line x1="1218" y1="558.4" x2="1220.5" y2="558.4" stroke="#262626" stroke-width="1.6"/>
<line x1="889.3" y1="534.02" x2="894.3" y2="534.02" stroke="#262626" stroke-width="1.6"/>
<line x1="1218" y1="534.02" x2="1223" y2="534.02" stroke="#262626" stroke-width="1.6"/>
<line x1="891.8" y1="509.64" x2="894.3" y2="509.64" stroke="#262626" stroke-width="1.6"/>
<line x1="1218" y1="509.64" x2="1220.5" y2="509.64" stroke="#262626" stroke-width="1.6"/>
<line x1="889.3" y1="485.26" x2="894.3" y2="485.26" stroke="#262626" stroke-width="1.6"/>
<line x1="1218" y1="485.26" x2="1223" y2="485.26" stroke="#262626" stroke-width="1.6"/>
<line x1="891.8" y1="460.88" x2="894.3" y2="460.88" stroke="#262626" stroke-width="1.6"/>
<line x1="1218" y1="460.88" x2="1220.5" y2="460.88" stroke="#262626" stroke-width="1.6"/>
<line x1="889.3" y1="436.5" x2="894.3" y2="436.5" stroke="#262626" stroke-width="1.6"/>
<line x1="1218" y1="436.5" x2="1223" y2="436.5" stroke="#262626" stroke-width="1.6"/>
<text x="894.3" y="709.3" font-size="27" text-anchor="middle" font-family='"Liberation Serif", serif' >0</text>
<text x="959.04" y="709.3" font-size="27" text-anchor="middle" font-family='"Liberation Serif", serif' >2</text>
<text x="1023.78" y="709.3" font-size="27" text-anchor="middle" font-family='"Liberation Serif", serif' >4</text>
<text x="1088.52" y="709.3" font-size="27" text-anchor="middle" font-family='"Liberation Serif", serif' >6</text>
<text x="1153.26" y="709.3" font-size="27" text-anchor="middle" font-family='"Liberation Serif", serif' >8</text>
<text x="1218" y="709.3" font-size="27" text-anchor="middle" font-family='"Liberation Serif", serif' >10</text>
<text x="886.3" y="689.3" font-size="27" text-anchor="end" font-family='"Liberation Serif", serif' >0</text>
<text x="886.3" y="640.54" font-size="27" text-anchor="end" font-family='"Liberation Serif", serif' >10</text>
<text x="886.3" y="591.78" font-size="27" text-anchor="end" font-family='"Liberation Serif", serif' >20</text>
<text x="886.3" y="543.02" font-size="27" text-anchor="end" font-family='"Liberation Serif", serif' >30</text>
<text x="886.3" y="494.26" font-size="27" text-anchor="end" font-family='"Liberation Serif", serif' >40</text>
<text x="886.3" y="445.5" font-size="27" text-anchor="end" font-family='"Liberation Serif", serif' >50</text>
<text x="946.1" y="738" font-size="26.5" text-anchor="start" font-family='"Liberation Serif", serif' >Grain diametre (µm)</text>
<text transform="translate(853.5,556) rotate(-90)" font-size="26" font-family='"Liberation Serif", serif' text-anchor="middle">Frequency [%]</text>
<text x="952.8" y="471.3" font-size="31.2" font-family='"Liberation Serif", serif'>d<tspan font-size="20.7" dy="8">HCP</tspan><tspan dy="-8">= 3.25+0.1 µm</tspan></text>
<text x="1015.2" y="509.5" font-size="30.5" text-anchor="start" font-family='"Liberation Serif", serif' >STD= 1.6</text>
<text x="1021" y="766" font-size="27.5" text-anchor="middle" font-family='"Liberation Sans", sans-serif' >(f)</text>
<rect x="85.24" y="787.61" width="5.24" height="218.99" fill="#808080" stroke="#111" stroke-width="1.3"/>
<rect x="91.67" y="910.63" width="5.24" height="95.97" fill="#808080" stroke="#111" stroke-width="1.3"/>
<rect x="98.11" y="942.55" width="5.24" height="64.05" fill="#808080" stroke="#111" stroke-width="1.3"/>
<rect x="104.54" y="966.54" width="5.24" height="40.06" fill="#808080" stroke="#111" stroke-width="1.3"/>
<rect x="110.98" y="968.17" width="5.24" height="38.43" fill="#808080" stroke="#111" stroke-width="1.3"/>
<rect x="117.42" y="968.98" width="5.24" height="37.62" fill="#808080" stroke="#111" stroke-width="1.3"/>
<rect x="123.85" y="979.96" width="5.24" height="26.64" fill="#808080" stroke="#111" stroke-width="1.3"/>
<rect x="130.29" y="988.3" width="5.24" height="18.3" fill="#808080" stroke="#111" stroke-width="1.3"/>
<rect x="136.72" y="982.61" width="5.24" height="23.99" fill="#808080" stroke="#111" stroke-width="1.3"/>
<rect x="143.16" y="977.93" width="5.24" height="28.67" fill="#808080" stroke="#111" stroke-width="1.3"/>
<rect x="149.6" y="964.92" width="5.24" height="41.68" fill="#808080" stroke="#111" stroke-width="1.3"/>
<rect x="156.03" y="981.18" width="5.24" height="25.42" fill="#808080" stroke="#111" stroke-width="1.3"/>
<rect x="162.47" y="968.58" width="5.24" height="38.02" fill="#808080" stroke="#111" stroke-width="1.3"/>
<rect x="168.9" y="967.36" width="5.24" height="39.24" fill="#808080" stroke="#111" stroke-width="1.3"/>
<rect x="175.34" y="959.02" width="5.24" height="47.58" fill="#808080" stroke="#111" stroke-width="1.3"/>
<rect x="181.78" y="973.25" width="5.24" height="33.35" fill="#808080" stroke="#111" stroke-width="1.3"/>
<rect x="188.21" y="969.19" width="5.24" height="37.41" fill="#808080" stroke="#111" stroke-width="1.3"/>
<rect x="194.65" y="958.21" width="5.24" height="48.39" fill="#808080" stroke="#111" stroke-width="1.3"/>
<rect x="201.08" y="977.32" width="5.24" height="29.28" fill="#808080" stroke="#111" stroke-width="1.3"/>
<rect x="207.52" y="965.93" width="5.24" height="40.67" fill="#808080" stroke="#111" stroke-width="1.3"/>
<rect x="213.96" y="979.96" width="5.24" height="26.64" fill="#808080" stroke="#111" stroke-width="1.3"/>
<rect x="220.39" y="973.25" width="5.24" height="33.35" fill="#808080" stroke="#111" stroke-width="1.3"/>
<rect x="226.83" y="954.95" width="5.24" height="51.65" fill="#808080" stroke="#111" stroke-width="1.3"/>
<rect x="233.26" y="963.29" width="5.24" height="43.31" fill="#808080" stroke="#111" stroke-width="1.3"/>
<rect x="239.7" y="954.34" width="5.24" height="52.26" fill="#808080" stroke="#111" stroke-width="1.3"/>
<rect x="246.14" y="927.5" width="5.24" height="79.1" fill="#808080" stroke="#111" stroke-width="1.3"/>
<rect x="252.57" y="933.4" width="5.24" height="73.2" fill="#808080" stroke="#111" stroke-width="1.3"/>
<rect x="259.01" y="971.02" width="5.24" height="35.58" fill="#808080" stroke="#111" stroke-width="1.3"/>
<rect x="265.44" y="963.29" width="5.24" height="43.31" fill="#808080" stroke="#111" stroke-width="1.3"/>
<rect x="271.88" y="955.97" width="5.24" height="50.63" fill="#808080" stroke="#111" stroke-width="1.3"/>
<rect x="278.32" y="946.62" width="5.24" height="59.98" fill="#808080" stroke="#111" stroke-width="1.3"/>
<rect x="284.75" y="977.32" width="5.24" height="29.28" fill="#808080" stroke="#111" stroke-width="1.3"/>
<rect x="291.19" y="959.83" width="5.24" height="46.77" fill="#808080" stroke="#111" stroke-width="1.3"/>
<rect x="297.62" y="963.9" width="5.24" height="42.7" fill="#808080" stroke="#111" stroke-width="1.3"/>
<rect x="304.06" y="958" width="5.24" height="48.6" fill="#808080" stroke="#111" stroke-width="1.3"/>
<rect x="310.5" y="977.32" width="5.24" height="29.28" fill="#808080" stroke="#111" stroke-width="1.3"/>
<rect x="316.93" y="977.93" width="5.24" height="28.67" fill="#808080" stroke="#111" stroke-width="1.3"/>
<rect x="323.37" y="976.71" width="5.24" height="29.89" fill="#808080" stroke="#111" stroke-width="1.3"/>
<rect x="329.8" y="972.64" width="5.24" height="33.96" fill="#808080" stroke="#111" stroke-width="1.3"/>
<rect x="336.24" y="961.66" width="5.24" height="44.94" fill="#808080" stroke="#111" stroke-width="1.3"/>
<rect x="342.68" y="964.31" width="5.24" height="42.29" fill="#808080" stroke="#111" stroke-width="1.3"/>
<rect x="349.11" y="980.57" width="5.24" height="26.03" fill="#808080" stroke="#111" stroke-width="1.3"/>
<rect x="355.55" y="973.25" width="5.24" height="33.35" fill="#808080" stroke="#111" stroke-width="1.3"/>
<rect x="361.98" y="972.24" width="5.24" height="34.36" fill="#808080" stroke="#111" stroke-width="1.3"/>
<rect x="368.42" y="976.91" width="5.24" height="29.69" fill="#808080" stroke="#111" stroke-width="1.3"/>
<rect x="374.86" y="1004.36" width="5.24" height="2.24" fill="#808080" stroke="#111" stroke-width="1.3"/>
<path d="M78.2,762.6 L78.2,1006.6 L400,1006.6" fill="none" stroke="#262626" stroke-width="1.7"/>
<line x1="78.2" y1="1006.6" x2="78.2" y2="1011.6" stroke="#262626" stroke-width="1.6"/>
<line x1="110.38" y1="1006.6" x2="110.38" y2="1009.1" stroke="#262626" stroke-width="1.6"/>
<line x1="142.56" y1="1006.6" x2="142.56" y2="1011.6" stroke="#262626" stroke-width="1.6"/>
<line x1="174.74" y1="1006.6" x2="174.74" y2="1009.1" stroke="#262626" stroke-width="1.6"/>
<line x1="206.92" y1="1006.6" x2="206.92" y2="1011.6" stroke="#262626" stroke-width="1.6"/>
<line x1="239.1" y1="1006.6" x2="239.1" y2="1009.1" stroke="#262626" stroke-width="1.6"/>
<line x1="271.28" y1="1006.6" x2="271.28" y2="1011.6" stroke="#262626" stroke-width="1.6"/>
<line x1="303.46" y1="1006.6" x2="303.46" y2="1009.1" stroke="#262626" stroke-width="1.6"/>
<line x1="335.64" y1="1006.6" x2="335.64" y2="1011.6" stroke="#262626" stroke-width="1.6"/>
<line x1="367.82" y1="1006.6" x2="367.82" y2="1009.1" stroke="#262626" stroke-width="1.6"/>
<line x1="400" y1="1006.6" x2="400" y2="1011.6" stroke="#262626" stroke-width="1.6"/>
<line x1="73.2" y1="1006.6" x2="78.2" y2="1006.6" stroke="#262626" stroke-width="1.6"/>
<line x1="75.7" y1="986.27" x2="78.2" y2="986.27" stroke="#262626" stroke-width="1.6"/>
<line x1="73.2" y1="965.93" x2="78.2" y2="965.93" stroke="#262626" stroke-width="1.6"/>
<line x1="75.7" y1="945.6" x2="78.2" y2="945.6" stroke="#262626" stroke-width="1.6"/>
<line x1="73.2" y1="925.27" x2="78.2" y2="925.27" stroke="#262626" stroke-width="1.6"/>
<line x1="75.7" y1="904.93" x2="78.2" y2="904.93" stroke="#262626" stroke-width="1.6"/>
<line x1="73.2" y1="884.6" x2="78.2" y2="884.6" stroke="#262626" stroke-width="1.6"/>
<line x1="75.7" y1="864.27" x2="78.2" y2="864.27" stroke="#262626" stroke-width="1.6"/>
<line x1="73.2" y1="843.93" x2="78.2" y2="843.93" stroke="#262626" stroke-width="1.6"/>
<line x1="75.7" y1="823.6" x2="78.2" y2="823.6" stroke="#262626" stroke-width="1.6"/>
<line x1="73.2" y1="803.27" x2="78.2" y2="803.27" stroke="#262626" stroke-width="1.6"/>
<line x1="75.7" y1="782.93" x2="78.2" y2="782.93" stroke="#262626" stroke-width="1.6"/>
<line x1="73.2" y1="762.6" x2="78.2" y2="762.6" stroke="#262626" stroke-width="1.6"/>
<text x="78.2" y="1035.6" font-size="26.5" text-anchor="middle" font-family='"Liberation Serif", serif' >0</text>
<text x="142.56" y="1035.6" font-size="26.5" text-anchor="middle" font-family='"Liberation Serif", serif' >20</text>
<text x="206.92" y="1035.6" font-size="26.5" text-anchor="middle" font-family='"Liberation Serif", serif' >40</text>
<text x="271.28" y="1035.6" font-size="26.5" text-anchor="middle" font-family='"Liberation Serif", serif' >60</text>
<text x="335.64" y="1035.6" font-size="26.5" text-anchor="middle" font-family='"Liberation Serif", serif' >80</text>
<text x="400" y="1035.6" font-size="26.5" text-anchor="middle" font-family='"Liberation Serif", serif' >100</text>
<text x="69.7" y="1015.6" font-size="26.5" text-anchor="end" font-family='"Liberation Serif", serif' >0</text>
<text x="69.7" y="974.93" font-size="26.5" text-anchor="end" font-family='"Liberation Serif", serif' >2</text>
<text x="69.7" y="934.27" font-size="26.5" text-anchor="end" font-family='"Liberation Serif", serif' >4</text>
<text x="69.7" y="893.6" font-size="26.5" text-anchor="end" font-family='"Liberation Serif", serif' >6</text>
<text x="69.7" y="852.93" font-size="26.5" text-anchor="end" font-family='"Liberation Serif", serif' >8</text>
<text x="69.7" y="812.27" font-size="26.5" text-anchor="end" font-family='"Liberation Serif", serif' >10</text>
<text x="69.7" y="771.6" font-size="26.5" text-anchor="end" font-family='"Liberation Serif", serif' >12</text>
<text x="137.1" y="1058.4" font-size="26.5" text-anchor="start" font-family='"Liberation Serif", serif' >Misorientation angle</text>
<text transform="translate(37,885) rotate(-90)" font-size="26" font-family='"Liberation Serif", serif' text-anchor="middle">Frequency [%]</text>
<text x="136.4" y="806.6" font-size="30.5" text-anchor="start" font-family='"Liberation Serif", serif' >recryst.</text>
<text x="275" y="806.6" font-size="30.5" text-anchor="start" font-family='"Liberation Serif", serif' >61.48%</text>
<text x="136.4" y="844" font-size="30.5" text-anchor="start" font-family='"Liberation Serif", serif' >substruc.</text>
<text x="278" y="844" font-size="30.5" text-anchor="start" font-family='"Liberation Serif", serif' >38.3%</text>
<text x="136.4" y="881.7" font-size="30.5" text-anchor="start" font-family='"Liberation Serif", serif' >deformed</text>
<text x="278" y="881.7" font-size="30.5" text-anchor="start" font-family='"Liberation Serif", serif' >0.19%</text>
<text x="199.3" y="1090" font-size="27.5" text-anchor="middle" font-family='"Liberation Sans", sans-serif' >(g)</text>
<rect x="490.24" y="828.27" width="5.24" height="184.73" fill="#808080" stroke="#111" stroke-width="1.3"/>
<rect x="496.68" y="939.51" width="5.24" height="73.49" fill="#808080" stroke="#111" stroke-width="1.3"/>
<rect x="503.13" y="978.69" width="5.24" height="34.31" fill="#808080" stroke="#111" stroke-width="1.3"/>
<rect x="509.57" y="992.29" width="5.24" height="20.71" fill="#808080" stroke="#111" stroke-width="1.3"/>
<rect x="516.01" y="985.6" width="5.24" height="27.4" fill="#808080" stroke="#111" stroke-width="1.3"/>
<rect x="522.45" y="984.99" width="5.24" height="28.01" fill="#808080" stroke="#111" stroke-width="1.3"/>
<rect x="528.89" y="996.96" width="5.24" height="16.04" fill="#808080" stroke="#111" stroke-width="1.3"/>
<rect x="535.34" y="994.32" width="5.24" height="18.68" fill="#808080" stroke="#111" stroke-width="1.3"/>
<rect x="541.78" y="989.65" width="5.24" height="23.35" fill="#808080" stroke="#111" stroke-width="1.3"/>
<rect x="548.22" y="985.6" width="5.24" height="27.4" fill="#808080" stroke="#111" stroke-width="1.3"/>
<rect x="554.66" y="996.96" width="5.24" height="16.04" fill="#808080" stroke="#111" stroke-width="1.3"/>
<rect x="561.1" y="982.35" width="5.24" height="30.65" fill="#808080" stroke="#111" stroke-width="1.3"/>
<rect x="567.55" y="990.26" width="5.24" height="22.74" fill="#808080" stroke="#111" stroke-width="1.3"/>
<rect x="573.99" y="966.31" width="5.24" height="46.69" fill="#808080" stroke="#111" stroke-width="1.3"/>
<rect x="580.43" y="980.93" width="5.24" height="32.07" fill="#808080" stroke="#111" stroke-width="1.3"/>
<rect x="586.87" y="978.29" width="5.24" height="34.71" fill="#808080" stroke="#111" stroke-width="1.3"/>
<rect x="593.31" y="982.96" width="5.24" height="30.04" fill="#808080" stroke="#111" stroke-width="1.3"/>
<rect x="599.76" y="971.99" width="5.24" height="41.01" fill="#808080" stroke="#111" stroke-width="1.3"/>
<rect x="606.2" y="983.57" width="5.24" height="29.43" fill="#808080" stroke="#111" stroke-width="1.3"/>
<rect x="612.64" y="972.6" width="5.24" height="40.4" fill="#808080" stroke="#111" stroke-width="1.3"/>
<rect x="619.08" y="958.6" width="5.24" height="54.4" fill="#808080" stroke="#111" stroke-width="1.3"/>
<rect x="625.52" y="963.67" width="5.24" height="49.33" fill="#808080" stroke="#111" stroke-width="1.3"/>
<rect x="631.97" y="963.67" width="5.24" height="49.33" fill="#808080" stroke="#111" stroke-width="1.3"/>
<rect x="638.41" y="975.85" width="5.24" height="37.15" fill="#808080" stroke="#111" stroke-width="1.3"/>
<rect x="644.85" y="982.35" width="5.24" height="30.65" fill="#808080" stroke="#111" stroke-width="1.3"/>
<rect x="651.29" y="981.53" width="5.24" height="31.47" fill="#808080" stroke="#111" stroke-width="1.3"/>
<rect x="657.73" y="970.37" width="5.24" height="42.63" fill="#808080" stroke="#111" stroke-width="1.3"/>
<rect x="664.18" y="944.59" width="5.24" height="68.41" fill="#808080" stroke="#111" stroke-width="1.3"/>
<rect x="670.62" y="964.69" width="5.24" height="48.31" fill="#808080" stroke="#111" stroke-width="1.3"/>
<rect x="677.06" y="941.95" width="5.24" height="71.05" fill="#808080" stroke="#111" stroke-width="1.3"/>
<rect x="683.5" y="955.14" width="5.24" height="57.86" fill="#808080" stroke="#111" stroke-width="1.3"/>
<rect x="689.94" y="938.5" width="5.24" height="74.5" fill="#808080" stroke="#111" stroke-width="1.3"/>
<rect x="696.39" y="943.57" width="5.24" height="69.43" fill="#808080" stroke="#111" stroke-width="1.3"/>
<rect x="702.83" y="990.26" width="5.24" height="22.74" fill="#808080" stroke="#111" stroke-width="1.3"/>
<rect x="709.27" y="973.01" width="5.24" height="39.99" fill="#808080" stroke="#111" stroke-width="1.3"/>
<rect x="715.71" y="962.86" width="5.24" height="50.14" fill="#808080" stroke="#111" stroke-width="1.3"/>
<rect x="722.15" y="969.56" width="5.24" height="43.44" fill="#808080" stroke="#111" stroke-width="1.3"/>
<rect x="728.6" y="963.67" width="5.24" height="49.33" fill="#808080" stroke="#111" stroke-width="1.3"/>
<rect x="735.04" y="980.32" width="5.24" height="32.68" fill="#808080" stroke="#111" stroke-width="1.3"/>
<rect x="741.48" y="959.61" width="5.24" height="53.39" fill="#808080" stroke="#111" stroke-width="1.3"/>
<rect x="747.92" y="977.68" width="5.24" height="35.32" fill="#808080" stroke="#111" stroke-width="1.3"/>
<rect x="754.36" y="989.65" width="5.24" height="23.35" fill="#808080" stroke="#111" stroke-width="1.3"/>
<rect x="760.81" y="967.53" width="5.24" height="45.47" fill="#808080" stroke="#111" stroke-width="1.3"/>
<rect x="767.25" y="917.59" width="5.24" height="95.41" fill="#808080" stroke="#111" stroke-width="1.3"/>
<rect x="773.69" y="962.86" width="5.24" height="50.14" fill="#808080" stroke="#111" stroke-width="1.3"/>
<rect x="780.13" y="997.57" width="5.24" height="15.43" fill="#808080" stroke="#111" stroke-width="1.3"/>
<path d="M483.2,769.4 L483.2,1013 L805.3,1013" fill="none" stroke="#262626" stroke-width="1.7"/>
<line x1="483.2" y1="1013" x2="483.2" y2="1018" stroke="#262626" stroke-width="1.6"/>
<line x1="515.41" y1="1013" x2="515.41" y2="1015.5" stroke="#262626" stroke-width="1.6"/>
<line x1="547.62" y1="1013" x2="547.62" y2="1018" stroke="#262626" stroke-width="1.6"/>
<line x1="579.83" y1="1013" x2="579.83" y2="1015.5" stroke="#262626" stroke-width="1.6"/>
<line x1="612.04" y1="1013" x2="612.04" y2="1018" stroke="#262626" stroke-width="1.6"/>
<line x1="644.25" y1="1013" x2="644.25" y2="1015.5" stroke="#262626" stroke-width="1.6"/>
<line x1="676.46" y1="1013" x2="676.46" y2="1018" stroke="#262626" stroke-width="1.6"/>
<line x1="708.67" y1="1013" x2="708.67" y2="1015.5" stroke="#262626" stroke-width="1.6"/>
<line x1="740.88" y1="1013" x2="740.88" y2="1018" stroke="#262626" stroke-width="1.6"/>
<line x1="773.09" y1="1013" x2="773.09" y2="1015.5" stroke="#262626" stroke-width="1.6"/>
<line x1="805.3" y1="1013" x2="805.3" y2="1018" stroke="#262626" stroke-width="1.6"/>
<line x1="478.2" y1="1013" x2="483.2" y2="1013" stroke="#262626" stroke-width="1.6"/>
<line x1="480.7" y1="992.7" x2="483.2" y2="992.7" stroke="#262626" stroke-width="1.6"/>
<line x1="478.2" y1="972.4" x2="483.2" y2="972.4" stroke="#262626" stroke-width="1.6"/>
<line x1="480.7" y1="952.1" x2="483.2" y2="952.1" stroke="#262626" stroke-width="1.6"/>
<line x1="478.2" y1="931.8" x2="483.2" y2="931.8" stroke="#262626" stroke-width="1.6"/>
<line x1="480.7" y1="911.5" x2="483.2" y2="911.5" stroke="#262626" stroke-width="1.6"/>
<line x1="478.2" y1="891.2" x2="483.2" y2="891.2" stroke="#262626" stroke-width="1.6"/>
<line x1="480.7" y1="870.9" x2="483.2" y2="870.9" stroke="#262626" stroke-width="1.6"/>
<line x1="478.2" y1="850.6" x2="483.2" y2="850.6" stroke="#262626" stroke-width="1.6"/>
<line x1="480.7" y1="830.3" x2="483.2" y2="830.3" stroke="#262626" stroke-width="1.6"/>
<line x1="478.2" y1="810" x2="483.2" y2="810" stroke="#262626" stroke-width="1.6"/>
<line x1="480.7" y1="789.7" x2="483.2" y2="789.7" stroke="#262626" stroke-width="1.6"/>
<line x1="478.2" y1="769.4" x2="483.2" y2="769.4" stroke="#262626" stroke-width="1.6"/>
<text x="483.2" y="1042" font-size="26.5" text-anchor="middle" font-family='"Liberation Serif", serif' >0</text>
<text x="547.62" y="1042" font-size="26.5" text-anchor="middle" font-family='"Liberation Serif", serif' >20</text>
<text x="612.04" y="1042" font-size="26.5" text-anchor="middle" font-family='"Liberation Serif", serif' >40</text>
<text x="676.46" y="1042" font-size="26.5" text-anchor="middle" font-family='"Liberation Serif", serif' >60</text>
<text x="740.88" y="1042" font-size="26.5" text-anchor="middle" font-family='"Liberation Serif", serif' >80</text>
<text x="805.3" y="1042" font-size="26.5" text-anchor="middle" font-family='"Liberation Serif", serif' >100</text>
<text x="474.7" y="1022" font-size="26.5" text-anchor="end" font-family='"Liberation Serif", serif' >0</text>
<text x="474.7" y="981.4" font-size="26.5" text-anchor="end" font-family='"Liberation Serif", serif' >2</text>
<text x="474.7" y="940.8" font-size="26.5" text-anchor="end" font-family='"Liberation Serif", serif' >4</text>
<text x="474.7" y="900.2" font-size="26.5" text-anchor="end" font-family='"Liberation Serif", serif' >6</text>
<text x="474.7" y="859.6" font-size="26.5" text-anchor="end" font-family='"Liberation Serif", serif' >8</text>
<text x="474.7" y="819" font-size="26.5" text-anchor="end" font-family='"Liberation Serif", serif' >10</text>
<text x="474.7" y="778.4" font-size="26.5" text-anchor="end" font-family='"Liberation Serif", serif' >12</text>
<text x="542.5" y="1065" font-size="26.5" text-anchor="start" font-family='"Liberation Serif", serif' >Misorientation angle</text>
<text transform="translate(441.5,891) rotate(-90)" font-size="26" font-family='"Liberation Serif", serif' text-anchor="middle">Frequency [%]</text>
<text x="548.3" y="806.7" font-size="30.5" text-anchor="start" font-family='"Liberation Serif", serif' >recryst.</text>
<text x="688.3" y="806.7" font-size="30.5" text-anchor="start" font-family='"Liberation Serif", serif' >77.4%</text>
<text x="548.3" y="844" font-size="30.5" text-anchor="start" font-family='"Liberation Serif", serif' >substruc.</text>
<text x="690.7" y="844" font-size="30.5" text-anchor="start" font-family='"Liberation Serif", serif' >22.19%</text>
<text x="548.3" y="881.7" font-size="30.5" text-anchor="start" font-family='"Liberation Serif", serif' >deformed</text>
<text x="690.7" y="881.7" font-size="30.5" text-anchor="start" font-family='"Liberation Serif", serif' >0.38%</text>
<text x="635.7" y="1091" font-size="27.5" text-anchor="middle" font-family='"Liberation Sans", sans-serif' >(h)</text>
<rect x="904.77" y="862.67" width="5.27" height="153.33" fill="#808080" stroke="#111" stroke-width="1.3"/>
<rect x="911.23" y="974.98" width="5.27" height="41.02" fill="#808080" stroke="#111" stroke-width="1.3"/>
<rect x="917.7" y="998.74" width="5.27" height="17.26" fill="#808080" stroke="#111" stroke-width="1.3"/>
<rect x="924.16" y="991.22" width="5.27" height="24.78" fill="#808080" stroke="#111" stroke-width="1.3"/>
<rect x="930.63" y="999.75" width="5.27" height="16.25" fill="#808080" stroke="#111" stroke-width="1.3"/>
<rect x="937.1" y="995.08" width="5.27" height="20.92" fill="#808080" stroke="#111" stroke-width="1.3"/>
<rect x="943.56" y="995.08" width="5.27" height="20.92" fill="#808080" stroke="#111" stroke-width="1.3"/>
<rect x="950.03" y="995.08" width="5.27" height="20.92" fill="#808080" stroke="#111" stroke-width="1.3"/>
<rect x="956.49" y="993.25" width="5.27" height="22.75" fill="#808080" stroke="#111" stroke-width="1.3"/>
<rect x="962.96" y="989.4" width="5.27" height="26.6" fill="#808080" stroke="#111" stroke-width="1.3"/>
<rect x="969.43" y="996.71" width="5.27" height="19.29" fill="#808080" stroke="#111" stroke-width="1.3"/>
<rect x="975.89" y="1001.58" width="5.27" height="14.42" fill="#808080" stroke="#111" stroke-width="1.3"/>
<rect x="982.36" y="986.76" width="5.27" height="29.24" fill="#808080" stroke="#111" stroke-width="1.3"/>
<rect x="988.82" y="971.93" width="5.27" height="44.07" fill="#808080" stroke="#111" stroke-width="1.3"/>
<rect x="995.29" y="980.05" width="5.27" height="35.95" fill="#808080" stroke="#111" stroke-width="1.3"/>
<rect x="1001.76" y="962.39" width="5.27" height="53.61" fill="#808080" stroke="#111" stroke-width="1.3"/>
<rect x="1008.22" y="958.93" width="5.27" height="57.07" fill="#808080" stroke="#111" stroke-width="1.3"/>
<rect x="1014.69" y="963.4" width="5.27" height="52.6" fill="#808080" stroke="#111" stroke-width="1.3"/>
<rect x="1021.15" y="966.65" width="5.27" height="49.35" fill="#808080" stroke="#111" stroke-width="1.3"/>
<rect x="1027.62" y="952.64" width="5.27" height="63.36" fill="#808080" stroke="#111" stroke-width="1.3"/>
<rect x="1034.09" y="980.05" width="5.27" height="35.95" fill="#808080" stroke="#111" stroke-width="1.3"/>
<rect x="1040.55" y="968.68" width="5.27" height="47.32" fill="#808080" stroke="#111" stroke-width="1.3"/>
<rect x="1047.02" y="982.69" width="5.27" height="33.31" fill="#808080" stroke="#111" stroke-width="1.3"/>
<rect x="1053.48" y="973.96" width="5.27" height="42.04" fill="#808080" stroke="#111" stroke-width="1.3"/>
<rect x="1059.95" y="974.37" width="5.27" height="41.63" fill="#808080" stroke="#111" stroke-width="1.3"/>
<rect x="1066.42" y="993.25" width="5.27" height="22.75" fill="#808080" stroke="#111" stroke-width="1.3"/>
<rect x="1072.88" y="968.68" width="5.27" height="47.32" fill="#808080" stroke="#111" stroke-width="1.3"/>
<rect x="1079.35" y="981.07" width="5.27" height="34.93" fill="#808080" stroke="#111" stroke-width="1.3"/>
<rect x="1085.81" y="959.95" width="5.27" height="56.05" fill="#808080" stroke="#111" stroke-width="1.3"/>
<rect x="1092.28" y="955.68" width="5.27" height="60.32" fill="#808080" stroke="#111" stroke-width="1.3"/>
<rect x="1098.75" y="914.05" width="5.27" height="101.95" fill="#808080" stroke="#111" stroke-width="1.3"/>
<rect x="1105.21" y="958.73" width="5.27" height="57.27" fill="#808080" stroke="#111" stroke-width="1.3"/>
<rect x="1111.68" y="954.26" width="5.27" height="61.74" fill="#808080" stroke="#111" stroke-width="1.3"/>
<rect x="1118.14" y="955.68" width="5.27" height="60.32" fill="#808080" stroke="#111" stroke-width="1.3"/>
<rect x="1124.61" y="971.32" width="5.27" height="44.68" fill="#808080" stroke="#111" stroke-width="1.3"/>
<rect x="1131.08" y="960.56" width="5.27" height="55.44" fill="#808080" stroke="#111" stroke-width="1.3"/>
<rect x="1137.54" y="963.4" width="5.27" height="52.6" fill="#808080" stroke="#111" stroke-width="1.3"/>
<rect x="1144.01" y="976.6" width="5.27" height="39.4" fill="#808080" stroke="#111" stroke-width="1.3"/>
<rect x="1150.47" y="983.3" width="5.27" height="32.7" fill="#808080" stroke="#111" stroke-width="1.3"/>
<rect x="1156.94" y="960.96" width="5.27" height="55.04" fill="#808080" stroke="#111" stroke-width="1.3"/>
<rect x="1163.41" y="964.62" width="5.27" height="51.38" fill="#808080" stroke="#111" stroke-width="1.3"/>
<rect x="1169.87" y="986.76" width="5.27" height="29.24" fill="#808080" stroke="#111" stroke-width="1.3"/>
<rect x="1176.34" y="963" width="5.27" height="53" fill="#808080" stroke="#111" stroke-width="1.3"/>
<rect x="1182.8" y="932.33" width="5.27" height="83.67" fill="#808080" stroke="#111" stroke-width="1.3"/>
<rect x="1189.27" y="991.63" width="5.27" height="24.37" fill="#808080" stroke="#111" stroke-width="1.3"/>
<rect x="1195.74" y="986.76" width="5.27" height="29.24" fill="#808080" stroke="#111" stroke-width="1.3"/>
<path d="M897.7,772.3 L897.7,1016 L1221,1016" fill="none" stroke="#262626" stroke-width="1.7"/>
<line x1="897.7" y1="1016" x2="897.7" y2="1021" stroke="#262626" stroke-width="1.6"/>
<line x1="930.03" y1="1016" x2="930.03" y2="1018.5" stroke="#262626" stroke-width="1.6"/>
<line x1="962.36" y1="1016" x2="962.36" y2="1021" stroke="#262626" stroke-width="1.6"/>
<line x1="994.69" y1="1016" x2="994.69" y2="1018.5" stroke="#262626" stroke-width="1.6"/>
<line x1="1027.02" y1="1016" x2="1027.02" y2="1021" stroke="#262626" stroke-width="1.6"/>
<line x1="1059.35" y1="1016" x2="1059.35" y2="1018.5" stroke="#262626" stroke-width="1.6"/>
<line x1="1091.68" y1="1016" x2="1091.68" y2="1021" stroke="#262626" stroke-width="1.6"/>
<line x1="1124.01" y1="1016" x2="1124.01" y2="1018.5" stroke="#262626" stroke-width="1.6"/>
<line x1="1156.34" y1="1016" x2="1156.34" y2="1021" stroke="#262626" stroke-width="1.6"/>
<line x1="1188.67" y1="1016" x2="1188.67" y2="1018.5" stroke="#262626" stroke-width="1.6"/>
<line x1="1221" y1="1016" x2="1221" y2="1021" stroke="#262626" stroke-width="1.6"/>
<line x1="892.7" y1="1016" x2="897.7" y2="1016" stroke="#262626" stroke-width="1.6"/>
<line x1="895.2" y1="995.69" x2="897.7" y2="995.69" stroke="#262626" stroke-width="1.6"/>
<line x1="892.7" y1="975.38" x2="897.7" y2="975.38" stroke="#262626" stroke-width="1.6"/>
<line x1="895.2" y1="955.08" x2="897.7" y2="955.08" stroke="#262626" stroke-width="1.6"/>
<line x1="892.7" y1="934.77" x2="897.7" y2="934.77" stroke="#262626" stroke-width="1.6"/>
<line x1="895.2" y1="914.46" x2="897.7" y2="914.46" stroke="#262626" stroke-width="1.6"/>
<line x1="892.7" y1="894.15" x2="897.7" y2="894.15" stroke="#262626" stroke-width="1.6"/>
<line x1="895.2" y1="873.84" x2="897.7" y2="873.84" stroke="#262626" stroke-width="1.6"/>
<line x1="892.7" y1="853.53" x2="897.7" y2="853.53" stroke="#262626" stroke-width="1.6"/>
<line x1="895.2" y1="833.23" x2="897.7" y2="833.23" stroke="#262626" stroke-width="1.6"/>
<line x1="892.7" y1="812.92" x2="897.7" y2="812.92" stroke="#262626" stroke-width="1.6"/>
<line x1="895.2" y1="792.61" x2="897.7" y2="792.61" stroke="#262626" stroke-width="1.6"/>
<line x1="892.7" y1="772.3" x2="897.7" y2="772.3" stroke="#262626" stroke-width="1.6"/>
<text x="897.7" y="1045" font-size="26.5" text-anchor="middle" font-family='"Liberation Serif", serif' >0</text>
<text x="962.36" y="1045" font-size="26.5" text-anchor="middle" font-family='"Liberation Serif", serif' >20</text>
<text x="1027.02" y="1045" font-size="26.5" text-anchor="middle" font-family='"Liberation Serif", serif' >40</text>
<text x="1091.68" y="1045" font-size="26.5" text-anchor="middle" font-family='"Liberation Serif", serif' >60</text>
<text x="1156.34" y="1045" font-size="26.5" text-anchor="middle" font-family='"Liberation Serif", serif' >80</text>
<text x="1221" y="1045" font-size="26.5" text-anchor="middle" font-family='"Liberation Serif", serif' >100</text>
<text x="889.2" y="1025" font-size="26.5" text-anchor="end" font-family='"Liberation Serif", serif' >0</text>
<text x="889.2" y="984.38" font-size="26.5" text-anchor="end" font-family='"Liberation Serif", serif' >2</text>
<text x="889.2" y="943.77" font-size="26.5" text-anchor="end" font-family='"Liberation Serif", serif' >4</text>
<text x="889.2" y="903.15" font-size="26.5" text-anchor="end" font-family='"Liberation Serif", serif' >6</text>
<text x="889.2" y="862.53" font-size="26.5" text-anchor="end" font-family='"Liberation Serif", serif' >8</text>
<text x="889.2" y="821.92" font-size="26.5" text-anchor="end" font-family='"Liberation Serif", serif' >10</text>
<text x="889.2" y="781.3" font-size="26.5" text-anchor="end" font-family='"Liberation Serif", serif' >12</text>
<text x="957.8" y="1067.4" font-size="26.5" text-anchor="start" font-family='"Liberation Serif", serif' >Misorientation angle</text>
<text transform="translate(857.5,894.5) rotate(-90)" font-size="26" font-family='"Liberation Serif", serif' text-anchor="middle">Frequency [%]</text>
<text x="989.3" y="811.7" font-size="30.5" text-anchor="start" font-family='"Liberation Serif", serif' >recryst.</text>
<text x="1129.3" y="811.7" font-size="30.5" text-anchor="start" font-family='"Liberation Serif", serif' >76.4%</text>
<text x="989.3" y="850" font-size="30.5" text-anchor="start" font-family='"Liberation Serif", serif' >substruc.</text>
<text x="1132" y="850" font-size="30.5" text-anchor="start" font-family='"Liberation Serif", serif' >19.9%</text>
<text x="989.3" y="886.7" font-size="30.5" text-anchor="start" font-family='"Liberation Serif", serif' >deformed</text>
<text x="1132" y="886.7" font-size="30.5" text-anchor="start" font-family='"Liberation Serif", serif' >3.7%</text>
<text x="1074" y="1093.5" font-size="27.5" text-anchor="middle" font-family='"Liberation Sans", sans-serif' >(i)</text>
</svg>
</body></html>
